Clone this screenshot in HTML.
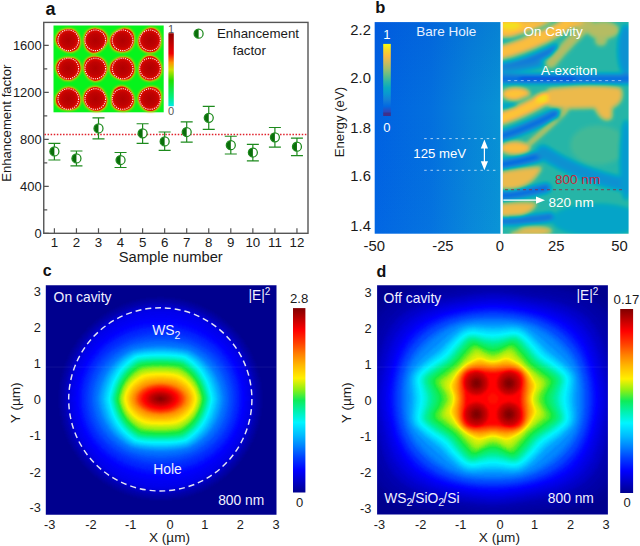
<!DOCTYPE html><html><head><meta charset="utf-8"><style>html,body{margin:0;padding:0;background:#fff;width:640px;height:546px;overflow:hidden}svg{display:block;font-family:"Liberation Sans",sans-serif}</style></head><body><svg width="640" height="546" viewBox="0 0 640 546"><defs><filter id="blurA" x="-20%" y="-20%" width="140%" height="140%"><feGaussianBlur stdDeviation="0.9"/></filter><radialGradient id="blobg"><stop offset="0" stop-color="#b00000"/><stop offset="0.6" stop-color="#c00202"/><stop offset="0.9" stop-color="#d80800"/><stop offset="1" stop-color="#e01000"/></radialGradient><linearGradient id="cbA" x1="0" y1="1" x2="0" y2="0"><stop offset="0" stop-color="#00e8e8"/><stop offset="0.12" stop-color="#00f080"/><stop offset="0.35" stop-color="#20e000"/><stop offset="0.5" stop-color="#d0e000"/><stop offset="0.6" stop-color="#ff9000"/><stop offset="0.72" stop-color="#f00000"/><stop offset="1" stop-color="#900000"/></linearGradient><filter id="parf" color-interpolation-filters="sRGB" x="-5%" y="-5%" width="110%" height="110%"><feGaussianBlur stdDeviation="1.9"/><feComponentTransfer><feFuncR type="table" tableValues="0.21 0.21 0.2 0.13 0.02 0.01 0.05 0.07 0.08 0.07 0.04 0.02 0.02 0.03 0.07 0.13 0.2 0.28 0.37 0.46 0.55 0.62 0.69 0.76 0.83 0.89 0.95 0.99 0.99 0.98 0.96 0.96 0.98"/><feFuncG type="table" tableValues="0.17 0.21 0.26 0.32 0.38 0.42 0.46 0.49 0.52 0.55 0.59 0.62 0.65 0.67 0.69 0.71 0.72 0.73 0.74 0.75 0.75 0.75 0.74 0.74 0.73 0.73 0.73 0.75 0.79 0.83 0.87 0.92 0.98"/><feFuncB type="table" tableValues="0.53 0.63 0.72 0.83 0.88 0.88 0.87 0.85 0.83 0.82 0.82 0.81 0.78 0.75 0.71 0.67 0.63 0.58 0.54 0.5 0.46 0.43 0.4 0.37 0.35 0.32 0.28 0.24 0.19 0.16 0.13 0.09 0.05"/></feComponentTransfer></filter><clipPath id="clipbR"><rect x="502.6" y="22.1" width="126" height="211.6"/></clipPath><linearGradient id="bL" x1="0" y1="0" x2="1" y2="0"><stop offset="0" stop-color="#0062e2"/><stop offset="0.45" stop-color="#0370de"/><stop offset="0.75" stop-color="#0784d8"/><stop offset="1" stop-color="#0892d4"/></linearGradient><linearGradient id="bLv" x1="0" y1="0" x2="0" y2="1"><stop offset="0" stop-color="#0040d0" stop-opacity="0.2"/><stop offset="0.4" stop-color="#0040d0" stop-opacity="0"/><stop offset="1" stop-color="#30c0ff" stop-opacity="0.05"/></linearGradient><linearGradient id="cbB" x1="0" y1="1" x2="0" y2="0"><stop offset="0" stop-color="#3342b7"/><stop offset="0.09" stop-color="#0269e1"/><stop offset="0.18" stop-color="#137fd7"/><stop offset="0.27" stop-color="#0998d1"/><stop offset="0.36" stop-color="#08aac1"/><stop offset="0.45" stop-color="#2bb6a6"/><stop offset="0.55" stop-color="#66be85"/><stop offset="0.64" stop-color="#a0be6d"/><stop offset="0.73" stop-color="#cfbb5a"/><stop offset="0.82" stop-color="#fabb42"/><stop offset="0.91" stop-color="#f8d627"/><stop offset="1" stop-color="#f9fb0e"/></linearGradient><marker id="ah" viewBox="0 0 10 10" refX="9" refY="5" markerWidth="8" markerHeight="7" markerUnits="userSpaceOnUse" orient="auto"><path d="M0 0L10 5L0 10z" fill="#fff"/></marker><filter id="jetf" color-interpolation-filters="sRGB" x="-5%" y="-5%" width="110%" height="110%"><feGaussianBlur stdDeviation="1.3"/><feComponentTransfer><feFuncR type="table" tableValues="0 0 0 0 0 0 0 0 0 0 0 0 0 0 0 0 0 0 0 0 0 0 0 0 0 0 0 0 0 0 0.02 0.04 0.06 0.07 0.21 0.39 0.57 0.67 0.78 0.89 1 1 1 1 1 1 1 1 1 1 1 1 1 1 1 1 1 0.94 0.88 0.81 0.75 0.69 0.63 0.56 0.5"/><feFuncG type="table" tableValues="0 0 0 0 0 0 0 0 0 0.06 0.13 0.19 0.25 0.31 0.38 0.44 0.5 0.56 0.62 0.67 0.73 0.79 0.85 0.9 0.96 0.96 0.95 0.95 0.94 0.94 0.94 0.93 0.93 0.92 0.93 0.93 0.94 0.94 0.94 0.94 0.94 0.89 0.83 0.78 0.72 0.67 0.61 0.56 0.5 0.44 0.38 0.31 0.25 0.19 0.13 0.06 0 0 0 0 0 0 0 0 0"/><feFuncB type="table" tableValues="0.56 0.62 0.67 0.73 0.78 0.84 0.89 0.95 1 1 1 1 1 1 1 1 1 1 1 1 1 1 1 1 1 0.92 0.84 0.77 0.69 0.61 0.52 0.43 0.35 0.26 0.19 0.13 0.08 0.06 0.04 0.02 0 0 0 0 0 0 0 0 0 0 0 0 0 0 0 0 0 0 0 0 0 0 0 0 0"/></feComponentTransfer></filter><clipPath id="clipc"><rect x="45.8" y="285.3" width="230.7" height="229.4"/></clipPath><clipPath id="clipd"><rect x="377.1" y="285.3" width="230.8" height="229.1"/></clipPath><linearGradient id="jetbar" x1="0" y1="1" x2="0" y2="0"><stop offset="0" stop-color="#00008f"/><stop offset="0.06" stop-color="#0000c7"/><stop offset="0.12" stop-color="#0000ff"/><stop offset="0.19" stop-color="#0040ff"/><stop offset="0.25" stop-color="#0080ff"/><stop offset="0.31" stop-color="#00bbff"/><stop offset="0.38" stop-color="#00f5ff"/><stop offset="0.44" stop-color="#00f1b0"/><stop offset="0.5" stop-color="#0eec59"/><stop offset="0.56" stop-color="#90f013"/><stop offset="0.62" stop-color="#fff000"/><stop offset="0.69" stop-color="#ffb800"/><stop offset="0.75" stop-color="#ff8000"/><stop offset="0.81" stop-color="#ff4000"/><stop offset="0.88" stop-color="#ff0000"/><stop offset="0.94" stop-color="#c00000"/><stop offset="1" stop-color="#800000"/></linearGradient></defs><rect x="53.5" y="25.5" width="110.2" height="86.8" fill="#06f41c"/><g filter="url(#blurA)"><path d="M80.7 40.3 80.9 42.5 80.6 44.8 79.8 46.9 78.6 48.9 76.9 50.5 74.9 51.8 72.8 52.6 70.5 52.8 68.3 52.5 66.2 52.2 64.3 51.3 62.5 50.4 60.8 49.2 59.1 48 57.6 46.5 56.3 44.7 55.5 42.6 54.9 40.3 55.1 38 55.8 35.7 56.8 33.7 58.2 31.8 60.1 30.5 62 29.4 64.1 28.7 66.2 28.3 68.3 28.1 70.4 28.2 72.5 28.6 74.5 29.5 76.2 30.9 77.6 32.5 78.8 34.3 79.7 36.2 80.4 38.2Z" fill="#ffb000"/><path d="M108 40.3 107.5 42.5 106.7 44.5 105.6 46.2 104.3 47.9 102.9 49.3 101.3 50.8 99.6 52.1 97.6 53.1 95.3 53.7 92.9 54 90.6 53.3 88.5 52.1 86.8 50.5 85.4 48.6 84.6 46.5 84 44.4 83.6 42.4 83.5 40.3 83.5 38.2 83.9 36.1 84.6 34.1 85.7 32.2 87 30.5 88.9 29.2 90.9 28.3 93.1 27.7 95.3 27.6 97.5 27.9 99.6 28.5 101.7 29.3 103.6 30.5 105.2 32 106.6 33.8 107.7 35.8 108 38.1Z" fill="#ffb000"/><path d="M135 40.3 134.6 42.4 134.1 44.5 133.3 46.5 132.1 48.3 130.6 49.8 128.9 51.2 126.9 52 124.7 52.5 122.6 52.7 120.4 52.7 118.3 52.2 116.1 51.5 114.1 50.4 112.4 48.9 111 47 110 44.9 109.5 42.6 109.3 40.3 109.7 38 110.7 36 111.9 34.1 113.4 32.6 115.1 31.4 116.8 30.2 118.6 29.3 120.5 28.4 122.6 27.8 124.9 27.5 127.1 27.8 129.4 28.5 131.4 29.9 133 31.6 134.1 33.7 134.8 35.9 135 38.1Z" fill="#ffb000"/><path d="M161.6 40.3 161.4 42.3 161.2 44.4 160.7 46.5 159.7 48.4 158.2 50.1 156.5 51.6 154.5 52.7 152.3 53.1 150 53.3 147.7 53.1 145.6 52.4 143.5 51.5 141.7 50.2 140.1 48.6 138.9 46.7 138 44.7 137.6 42.5 137.6 40.3 138.1 38.2 138.8 36.2 139.8 34.4 141.1 32.9 142.5 31.3 144 29.9 145.8 28.7 147.8 27.7 150 27.1 152.3 27.2 154.6 27.7 156.6 28.8 158.4 30.3 159.7 32.1 160.6 34.2 161.2 36.2 161.5 38.3Z" fill="#ffb000"/><path d="M81.6 68.5 81.3 70.8 80.3 72.9 79.2 74.8 77.9 76.5 76.3 78 74.5 79.2 72.6 80.3 70.5 81 68.3 81 66.1 80.8 64 80.4 62 79.3 60.3 78 58.7 76.5 57.4 74.8 56.5 72.8 55.6 70.7 55.3 68.5 55.2 66.2 55.8 63.9 56.8 61.9 58.3 60.1 60.1 58.7 62.2 57.9 64.2 57.2 66.3 56.9 68.3 56.8 70.3 56.9 72.5 57 74.6 57.6 76.6 58.7 78.3 60.1 79.9 61.8 80.8 63.9 81.4 66.2Z" fill="#ffb000"/><path d="M107.6 68.5 107.4 70.6 106.7 72.6 106 74.7 104.8 76.5 103.4 78.1 101.8 79.7 99.9 81 97.6 81.6 95.3 82 93 81.6 90.9 80.6 89 79.4 87.4 77.9 86.2 76.1 85.1 74.4 84.3 72.5 83.7 70.6 83.4 68.5 83.2 66.4 83.5 64.2 84.1 62 85.2 60 86.7 58.2 88.6 57 90.8 56.1 93.1 55.8 95.3 55.8 97.5 56.1 99.6 56.7 101.6 57.6 103.4 58.9 104.9 60.5 106.1 62.3 107 64.3 107.4 66.4Z" fill="#ffb000"/><path d="M135.3 68.5 135.3 70.7 134.9 73 134 75.1 132.7 77 131.1 78.6 129.2 79.9 127 80.5 124.8 80.8 122.6 80.7 120.5 80.2 118.6 79.4 116.7 78.7 114.9 77.7 113.1 76.5 111.5 74.9 110 73.1 109.3 70.8 109 68.5 109.4 66.2 110.1 64 111.5 62.1 113 60.5 114.8 59.2 116.6 58.1 118.5 57.2 120.5 56.6 122.6 56.4 124.7 56.4 126.9 56.7 128.9 57.5 130.9 58.6 132.4 60.2 133.7 62.1 134.6 64.1 135.2 66.3Z" fill="#ffb000"/><path d="M162.3 68.5 162.2 70.7 161.9 72.8 161 74.9 159.8 76.7 158.3 78.4 156.5 79.7 154.4 80.6 152.2 81.2 150 81.5 147.8 81.2 145.6 80.7 143.5 79.7 141.7 78.4 140.2 76.7 139.2 74.7 138.6 72.7 138.2 70.6 138.3 68.5 138.6 66.5 139 64.5 139.7 62.5 140.7 60.7 142 58.9 143.5 57.3 145.5 56 147.6 55.1 150 54.8 152.3 55.2 154.6 56 156.5 57.2 158.1 58.8 159.5 60.5 160.6 62.4 161.5 64.3 162 66.4Z" fill="#ffb000"/><path d="M81.2 99 81.1 101.3 80.7 103.5 79.9 105.7 78.3 107.4 76.5 108.7 74.5 109.7 72.4 110.2 70.3 110.5 68.3 110.6 66.3 110.5 64.2 110.1 62.1 109.8 60.1 108.8 58.3 107.4 56.7 105.7 55.4 103.7 55 101.4 54.9 99 55.4 96.7 56.3 94.6 57.6 92.8 59.1 91.3 60.6 89.8 62.2 88.5 64.1 87.6 66.2 86.9 68.3 86.5 70.5 86.7 72.6 87.3 74.6 88.2 76.3 89.5 77.8 91 79 92.8 80 94.7 80.7 96.8Z" fill="#ffb000"/><path d="M107.6 99 107.7 101.2 107.3 103.4 106.7 105.6 105.5 107.6 103.8 109.2 102 110.5 99.8 111.5 97.6 111.9 95.3 111.7 93.1 111.4 91 110.7 89.1 109.7 87.5 108.3 85.9 106.9 84.7 105.1 83.9 103.2 83.1 101.1 82.7 99 82.9 96.8 83.5 94.7 84.2 92.6 85.5 90.8 87 89.2 88.8 87.8 90.9 86.8 93 86.2 95.3 85.9 97.5 86.2 99.6 87.1 101.6 88.2 103.1 89.7 104.3 91.4 105.5 93.1 106.4 95 107 96.9Z" fill="#ffb000"/><path d="M134.8 99 134.9 101.2 134.5 103.3 133.7 105.4 132.6 107.4 131 109 129.1 110.2 127 111.1 124.8 111.4 122.6 111.5 120.4 111.3 118.3 110.8 116.3 110 114.4 108.8 112.9 107.2 111.7 105.3 111.1 103.2 110.8 101.1 110.9 99 111 97 111.4 94.9 112 92.9 112.8 90.8 114 88.8 115.8 87.2 117.9 86 120.2 85.5 122.6 85.5 124.9 86 126.9 87.1 128.8 88.3 130.4 89.7 131.7 91.4 132.8 93.1 133.9 94.9 134.5 96.9Z" fill="#ffb000"/><path d="M161.7 99 161.4 101 160.9 103 160.3 104.9 159.5 106.9 158.1 108.6 156.4 110.1 154.5 111.3 152.3 112 150 112.1 147.7 111.8 145.6 111 143.7 109.8 142.1 108.4 140.7 106.8 139.5 105 138.6 103.1 137.9 101.1 137.6 99 137.7 96.8 138.2 94.7 139.2 92.7 140.5 91 142 89.4 143.8 88.2 145.7 87.2 147.8 86.4 150 86 152.3 85.9 154.6 86.4 156.8 87.3 158.7 88.7 160.1 90.5 161.1 92.6 161.7 94.8 161.7 96.9Z" fill="#ffb000"/></g><path d="M79.7 40.3 79.9 42.3 79.6 44.4 78.8 46.4 77.7 48.2 76.2 49.7 74.4 50.8 72.4 51.6 70.3 51.7 68.3 51.5 66.4 51.2 64.6 50.4 63 49.5 61.4 48.5 59.9 47.4 58.5 46 57.3 44.3 56.6 42.4 56 40.3 56.2 38.2 56.8 36.1 57.8 34.2 59.1 32.5 60.8 31.3 62.5 30.3 64.4 29.7 66.4 29.3 68.3 29.1 70.3 29.2 72.2 29.6 74 30.4 75.6 31.6 76.8 33.1 77.9 34.8 78.7 36.5 79.4 38.3Z" fill="#e01000"/><path d="M107 40.3 106.5 42.3 105.8 44.1 104.7 45.7 103.6 47.2 102.2 48.6 100.8 49.9 99.2 51.1 97.4 52.1 95.3 52.6 93.1 52.8 90.9 52.3 89.1 51.1 87.5 49.6 86.2 47.9 85.4 46 85 44.1 84.6 42.2 84.5 40.3 84.5 38.4 84.8 36.5 85.5 34.6 86.5 32.9 87.7 31.3 89.4 30.1 91.3 29.2 93.3 28.7 95.3 28.6 97.3 28.9 99.2 29.5 101.1 30.2 102.9 31.3 104.4 32.7 105.7 34.3 106.6 36.2 106.9 38.2Z" fill="#e01000"/><path d="M134 40.3 133.7 42.2 133.2 44.1 132.4 46 131.3 47.6 129.9 49 128.4 50.3 126.5 51 124.6 51.5 122.6 51.7 120.6 51.6 118.6 51.2 116.7 50.6 114.8 49.6 113.3 48.1 112 46.4 111 44.5 110.5 42.4 110.4 40.3 110.8 38.2 111.7 36.3 112.8 34.7 114.2 33.3 115.7 32.1 117.3 31.1 118.9 30.2 120.7 29.4 122.6 28.8 124.7 28.6 126.8 28.9 128.9 29.4 130.6 30.7 132.1 32.3 133.1 34.2 133.8 36.2 134 38.3Z" fill="#e01000"/><path d="M160.6 40.3 160.5 42.2 160.2 44 159.8 46 158.9 47.7 157.6 49.3 156 50.7 154.1 51.7 152.1 52.1 150 52.3 147.9 52.1 145.9 51.4 144.1 50.6 142.4 49.4 140.9 47.9 139.8 46.2 139 44.3 138.6 42.3 138.6 40.3 139.1 38.4 139.7 36.6 140.7 34.9 141.9 33.5 143.1 32.1 144.5 30.7 146.1 29.6 148 28.7 150 28.2 152.1 28.3 154.2 28.7 156.1 29.7 157.7 31.2 158.9 32.8 159.8 34.7 160.2 36.6 160.5 38.4Z" fill="#e01000"/><path d="M80.5 68.5 80.2 70.6 79.3 72.5 78.3 74.3 77.1 75.9 75.6 77.3 73.9 78.3 72.2 79.3 70.3 79.9 68.3 80 66.3 79.8 64.3 79.4 62.6 78.4 61 77.2 59.5 75.9 58.3 74.3 57.4 72.5 56.7 70.6 56.3 68.5 56.3 66.4 56.8 64.3 57.8 62.4 59.1 60.8 60.8 59.5 62.7 58.8 64.5 58.2 66.4 57.9 68.3 57.8 70.2 57.9 72.1 58 74.1 58.5 75.9 59.5 77.5 60.8 78.9 62.4 79.8 64.3 80.3 66.4Z" fill="#e01000"/><path d="M106.6 68.5 106.4 70.5 105.8 72.3 105.1 74.1 104 75.8 102.7 77.3 101.2 78.8 99.5 80 97.4 80.5 95.3 80.9 93.2 80.5 91.2 79.6 89.5 78.5 88 77.1 86.9 75.5 85.9 73.9 85.2 72.2 84.6 70.4 84.4 68.5 84.2 66.6 84.4 64.5 85 62.6 86 60.7 87.4 59.1 89.2 57.9 91.2 57.2 93.2 56.8 95.3 56.8 97.3 57.1 99.3 57.6 101.1 58.5 102.7 59.7 104.1 61.1 105.2 62.8 106 64.6 106.4 66.5Z" fill="#e01000"/><path d="M134.3 68.5 134.3 70.6 133.8 72.6 133 74.5 131.8 76.3 130.4 77.8 128.6 78.9 126.6 79.5 124.6 79.8 122.6 79.7 120.7 79.2 119 78.5 117.2 77.9 115.5 77 113.9 75.8 112.4 74.4 111.1 72.7 110.4 70.7 110.1 68.5 110.5 66.4 111.2 64.3 112.4 62.6 113.8 61.1 115.4 59.9 117.1 58.9 118.8 58.1 120.7 57.6 122.6 57.4 124.6 57.4 126.5 57.7 128.4 58.4 130.2 59.5 131.6 60.9 132.8 62.6 133.6 64.5 134.1 66.5Z" fill="#e01000"/><path d="M161.3 68.5 161.2 70.5 160.9 72.5 160.1 74.3 159 76.1 157.6 77.6 155.9 78.8 154.1 79.6 152.1 80.2 150 80.4 147.9 80.2 145.9 79.7 144.1 78.8 142.4 77.6 141 76 140.1 74.2 139.5 72.3 139.2 70.4 139.2 68.5 139.5 66.7 139.9 64.8 140.5 63 141.5 61.4 142.6 59.7 144.1 58.2 145.8 57.1 147.8 56.2 150 55.9 152.2 56.3 154.2 57 156 58.1 157.4 59.6 158.8 61.1 159.7 62.9 160.5 64.7 161 66.6Z" fill="#e01000"/><path d="M80.2 99 80.1 101.1 79.7 103.1 78.9 105.1 77.5 106.7 75.8 107.9 74 108.8 72 109.3 70.2 109.5 68.3 109.6 66.4 109.5 64.6 109.2 62.6 108.9 60.8 107.9 59.1 106.7 57.6 105.2 56.5 103.3 56.1 101.2 56 99 56.5 96.9 57.3 95 58.4 93.3 59.8 91.9 61.2 90.5 62.7 89.3 64.5 88.5 66.3 87.9 68.3 87.5 70.3 87.7 72.2 88.3 74 89.1 75.6 90.3 77 91.7 78.2 93.3 79.1 95.1 79.7 97Z" fill="#e01000"/><path d="M106.6 99 106.7 101 106.3 103 105.7 105 104.7 106.9 103.1 108.3 101.4 109.6 99.5 110.4 97.4 110.8 95.3 110.7 93.3 110.4 91.4 109.8 89.7 108.8 88.2 107.5 86.7 106.2 85.5 104.6 84.8 102.8 84.1 101 83.8 99 83.9 97 84.4 95 85.1 93.1 86.3 91.5 87.7 90 89.4 88.7 91.2 87.8 93.2 87.3 95.3 87 97.4 87.3 99.3 88.1 101 89 102.4 90.5 103.6 92 104.6 93.6 105.5 95.3 106 97.1Z" fill="#e01000"/><path d="M133.8 99 133.9 101 133.6 103 132.8 104.9 131.7 106.7 130.3 108.2 128.5 109.3 126.6 110.1 124.6 110.4 122.6 110.4 120.6 110.3 118.7 109.8 116.8 109.1 115.1 108 113.7 106.5 112.6 104.8 112 102.8 111.8 100.9 111.8 99 112 97.1 112.4 95.3 112.9 93.4 113.6 91.5 114.7 89.6 116.4 88.2 118.3 87.1 120.4 86.6 122.6 86.6 124.7 87.1 126.6 88.1 128.3 89.2 129.7 90.5 131 92 132 93.6 133 95.2 133.5 97.1Z" fill="#e01000"/><path d="M160.7 99 160.5 100.8 160 102.6 159.4 104.4 158.7 106.3 157.4 107.8 155.9 109.2 154.1 110.2 152.1 110.9 150 111 147.9 110.8 146 110 144.3 108.9 142.8 107.6 141.5 106.1 140.4 104.5 139.6 102.8 138.9 101 138.7 99 138.7 97 139.2 95.1 140.1 93.3 141.2 91.7 142.6 90.2 144.3 89.1 146.1 88.2 148 87.5 150 87.1 152.1 86.9 154.2 87.4 156.2 88.2 157.9 89.5 159.3 91.2 160.2 93.1 160.7 95.1 160.8 97.1Z" fill="#e01000"/><circle cx="68.3" cy="40.3" r="10.6" fill="url(#blobg)"/><circle cx="95.3" cy="40.3" r="10.6" fill="url(#blobg)"/><circle cx="122.6" cy="40.3" r="10.6" fill="url(#blobg)"/><circle cx="150" cy="40.3" r="10.6" fill="url(#blobg)"/><circle cx="68.3" cy="68.5" r="10.6" fill="url(#blobg)"/><circle cx="95.3" cy="68.5" r="10.6" fill="url(#blobg)"/><circle cx="122.6" cy="68.5" r="10.6" fill="url(#blobg)"/><circle cx="150" cy="68.5" r="10.6" fill="url(#blobg)"/><circle cx="68.3" cy="99" r="10.6" fill="url(#blobg)"/><circle cx="95.3" cy="99" r="10.6" fill="url(#blobg)"/><circle cx="122.6" cy="99" r="10.6" fill="url(#blobg)"/><circle cx="150" cy="99" r="10.6" fill="url(#blobg)"/><circle cx="68.3" cy="40.3" r="10.3" fill="none" stroke="#fff" stroke-opacity="0.95" stroke-width="1.1" stroke-dasharray="1.1 1.1"/><circle cx="95.3" cy="40.3" r="10.3" fill="none" stroke="#fff" stroke-opacity="0.95" stroke-width="1.1" stroke-dasharray="1.1 1.1"/><circle cx="122.6" cy="40.3" r="10.3" fill="none" stroke="#fff" stroke-opacity="0.95" stroke-width="1.1" stroke-dasharray="1.1 1.1"/><circle cx="150" cy="40.3" r="10.3" fill="none" stroke="#fff" stroke-opacity="0.95" stroke-width="1.1" stroke-dasharray="1.1 1.1"/><circle cx="68.3" cy="68.5" r="10.3" fill="none" stroke="#fff" stroke-opacity="0.95" stroke-width="1.1" stroke-dasharray="1.1 1.1"/><circle cx="95.3" cy="68.5" r="10.3" fill="none" stroke="#fff" stroke-opacity="0.95" stroke-width="1.1" stroke-dasharray="1.1 1.1"/><circle cx="122.6" cy="68.5" r="10.3" fill="none" stroke="#fff" stroke-opacity="0.95" stroke-width="1.1" stroke-dasharray="1.1 1.1"/><circle cx="150" cy="68.5" r="10.3" fill="none" stroke="#fff" stroke-opacity="0.95" stroke-width="1.1" stroke-dasharray="1.1 1.1"/><circle cx="68.3" cy="99" r="10.3" fill="none" stroke="#fff" stroke-opacity="0.95" stroke-width="1.1" stroke-dasharray="1.1 1.1"/><circle cx="95.3" cy="99" r="10.3" fill="none" stroke="#fff" stroke-opacity="0.95" stroke-width="1.1" stroke-dasharray="1.1 1.1"/><circle cx="122.6" cy="99" r="10.3" fill="none" stroke="#fff" stroke-opacity="0.95" stroke-width="1.1" stroke-dasharray="1.1 1.1"/><circle cx="150" cy="99" r="10.3" fill="none" stroke="#fff" stroke-opacity="0.95" stroke-width="1.1" stroke-dasharray="1.1 1.1"/><rect x="168.4" y="33.2" width="5.4" height="73" fill="url(#cbA)"/><text x="171.1" y="32.5" font-size="11" text-anchor="middle" fill="#555">1</text><text x="171.1" y="114.8" font-size="11" text-anchor="middle" fill="#555">0</text><rect x="43.75" y="22.4" width="264.25" height="210.9" fill="none" stroke="#555" stroke-width="1.4"/><path d="M43.75 233.3h5M43.75 209.8h3.5M43.75 186.3h5M43.75 162.8h3.5M43.75 139.3h5M43.75 115.8h3.5M43.75 92.3h5M43.75 68.8h3.5M43.75 45.3h5M54.4 233.3v-5M76.45 233.3v-5M98.5 233.3v-5M120.55 233.3v-5M142.6 233.3v-5M164.65 233.3v-5M186.7 233.3v-5M208.75 233.3v-5M230.8 233.3v-5M252.85 233.3v-5M274.9 233.3v-5M296.95 233.3v-5" stroke="#555" stroke-width="1.2" fill="none"/><text x="41.6" y="237.9" font-size="12.9" text-anchor="end" fill="#1a1a1a">0</text><text x="41.6" y="190.9" font-size="12.9" text-anchor="end" fill="#1a1a1a">400</text><text x="41.6" y="143.9" font-size="12.9" text-anchor="end" fill="#1a1a1a">800</text><text x="41.6" y="96.9" font-size="12.9" text-anchor="end" fill="#1a1a1a">1200</text><text x="41.6" y="49.9" font-size="12.9" text-anchor="end" fill="#1a1a1a">1600</text><text x="54.4" y="247.4" font-size="13.3" text-anchor="middle" fill="#1a1a1a">1</text><text x="76.45" y="247.4" font-size="13.3" text-anchor="middle" fill="#1a1a1a">2</text><text x="98.5" y="247.4" font-size="13.3" text-anchor="middle" fill="#1a1a1a">3</text><text x="120.55" y="247.4" font-size="13.3" text-anchor="middle" fill="#1a1a1a">4</text><text x="142.6" y="247.4" font-size="13.3" text-anchor="middle" fill="#1a1a1a">5</text><text x="164.65" y="247.4" font-size="13.3" text-anchor="middle" fill="#1a1a1a">6</text><text x="186.7" y="247.4" font-size="13.3" text-anchor="middle" fill="#1a1a1a">7</text><text x="208.75" y="247.4" font-size="13.3" text-anchor="middle" fill="#1a1a1a">8</text><text x="230.8" y="247.4" font-size="13.3" text-anchor="middle" fill="#1a1a1a">9</text><text x="252.85" y="247.4" font-size="13.3" text-anchor="middle" fill="#1a1a1a">10</text><text x="274.9" y="247.4" font-size="13.3" text-anchor="middle" fill="#1a1a1a">11</text><text x="296.95" y="247.4" font-size="13.3" text-anchor="middle" fill="#1a1a1a">12</text><text transform="translate(10.6 123.2) rotate(-90)" font-size="13.1" text-anchor="middle" fill="#1a1a1a">Enhancement factor</text><text x="170.7" y="262.4" font-size="14.75" text-anchor="middle" fill="#1a1a1a">Sample number</text><line x1="44.45" y1="134.5" x2="307.3" y2="134.5" stroke="#e0202a" stroke-width="1.3" stroke-dasharray="1.5 1.6"/><path d="M54.4 143.3V160M48.4 143.3h12M48.4 160h12M76.45 151V165.8M70.45 151h12M70.45 165.8h12M98.5 117.8V138.9M92.5 117.8h12M92.5 138.9h12M120.55 152.5V167.5M114.55 152.5h12M114.55 167.5h12M142.6 123.75V143.4M136.6 123.75h12M136.6 143.4h12M164.65 132V150.3M158.65 132h12M158.65 150.3h12M186.7 121.9V142.2M180.7 121.9h12M180.7 142.2h12M208.75 106.4V129.45M202.75 106.4h12M202.75 129.45h12M230.8 136.25V154M224.8 136.25h12M224.8 154h12M252.85 144.4V160.8M246.85 144.4h12M246.85 160.8h12M274.9 127.5V147.2M268.9 127.5h12M268.9 147.2h12M296.95 138.1V155.6M290.95 138.1h12M290.95 155.6h12" stroke="#1d8a1d" stroke-width="1.2" fill="none"/><circle cx="54.4" cy="151.4" r="4.5" fill="#fff"/><path d="M54.4 146.9a4.5 4.5 0 0 0 0 9Z" fill="#0a6e0a"/><circle cx="54.4" cy="151.4" r="4.5" fill="none" stroke="#1d8a1d" stroke-width="1.25"/><circle cx="76.45" cy="158.4" r="4.5" fill="#fff"/><path d="M76.45 153.9a4.5 4.5 0 0 0 0 9Z" fill="#0a6e0a"/><circle cx="76.45" cy="158.4" r="4.5" fill="none" stroke="#1d8a1d" stroke-width="1.25"/><circle cx="98.5" cy="128.4" r="4.5" fill="#fff"/><path d="M98.5 123.9a4.5 4.5 0 0 0 0 9Z" fill="#0a6e0a"/><circle cx="98.5" cy="128.4" r="4.5" fill="none" stroke="#1d8a1d" stroke-width="1.25"/><circle cx="120.55" cy="160" r="4.5" fill="#fff"/><path d="M120.55 155.5a4.5 4.5 0 0 0 0 9Z" fill="#0a6e0a"/><circle cx="120.55" cy="160" r="4.5" fill="none" stroke="#1d8a1d" stroke-width="1.25"/><circle cx="142.6" cy="133.3" r="4.5" fill="#fff"/><path d="M142.6 128.8a4.5 4.5 0 0 0 0 9Z" fill="#0a6e0a"/><circle cx="142.6" cy="133.3" r="4.5" fill="none" stroke="#1d8a1d" stroke-width="1.25"/><circle cx="164.65" cy="141.4" r="4.5" fill="#fff"/><path d="M164.65 136.9a4.5 4.5 0 0 0 0 9Z" fill="#0a6e0a"/><circle cx="164.65" cy="141.4" r="4.5" fill="none" stroke="#1d8a1d" stroke-width="1.25"/><circle cx="186.7" cy="132" r="4.5" fill="#fff"/><path d="M186.7 127.5a4.5 4.5 0 0 0 0 9Z" fill="#0a6e0a"/><circle cx="186.7" cy="132" r="4.5" fill="none" stroke="#1d8a1d" stroke-width="1.25"/><circle cx="208.75" cy="117.8" r="4.5" fill="#fff"/><path d="M208.75 113.3a4.5 4.5 0 0 0 0 9Z" fill="#0a6e0a"/><circle cx="208.75" cy="117.8" r="4.5" fill="none" stroke="#1d8a1d" stroke-width="1.25"/><circle cx="230.8" cy="145.2" r="4.5" fill="#fff"/><path d="M230.8 140.7a4.5 4.5 0 0 0 0 9Z" fill="#0a6e0a"/><circle cx="230.8" cy="145.2" r="4.5" fill="none" stroke="#1d8a1d" stroke-width="1.25"/><circle cx="252.85" cy="152.5" r="4.5" fill="#fff"/><path d="M252.85 148a4.5 4.5 0 0 0 0 9Z" fill="#0a6e0a"/><circle cx="252.85" cy="152.5" r="4.5" fill="none" stroke="#1d8a1d" stroke-width="1.25"/><circle cx="274.9" cy="137.3" r="4.5" fill="#fff"/><path d="M274.9 132.8a4.5 4.5 0 0 0 0 9Z" fill="#0a6e0a"/><circle cx="274.9" cy="137.3" r="4.5" fill="none" stroke="#1d8a1d" stroke-width="1.25"/><circle cx="296.95" cy="146.7" r="4.5" fill="#fff"/><path d="M296.95 142.2a4.5 4.5 0 0 0 0 9Z" fill="#0a6e0a"/><circle cx="296.95" cy="146.7" r="4.5" fill="none" stroke="#1d8a1d" stroke-width="1.25"/><circle cx="198.6" cy="33.7" r="4.5" fill="#fff"/><path d="M198.6 29.2a4.5 4.5 0 0 0 0 9Z" fill="#0a6e0a"/><circle cx="198.6" cy="33.7" r="4.5" fill="none" stroke="#1d8a1d" stroke-width="1.25"/><text x="217" y="38.4" font-size="13.3" fill="#1a1a1a">Enhancement</text><text x="232.7" y="55" font-size="13.3" fill="#1a1a1a">factor</text><text x="45.6" y="14.6" font-size="18" font-weight="bold" fill="#111">a</text><rect x="374.7" y="22.1" width="126" height="211.6" fill="url(#bL)"/><rect x="374.7" y="22.1" width="126" height="211.6" fill="url(#bLv)"/><g clip-path="url(#clipbR)"><g filter="url(#parf)"><rect x="495" y="15" width="140" height="225" fill="#7a7a7a"/><path d="M500 20H588C580 28 562 31 545 34C530 36 515 38 500 37Z" fill="#d6d6d6"/><ellipse cx="510" cy="25" rx="11" ry="5" fill="#f2f2f2"/><path d="M498 53C512 50 528 44 545 36C552 32 558 29 566 24" fill="none" stroke="#d6d6d6" stroke-width="13" stroke-linecap="round" stroke-linejoin="round"/><path d="M498 42C510 39.5 525 35 540 29C548 26 555 22 560 19" fill="none" stroke="#6b6b6b" stroke-width="3.5" stroke-linecap="round" stroke-linejoin="round"/><path d="M498 68C515 67 535 59 555 49" fill="none" stroke="#333333" stroke-width="8" stroke-linecap="round" stroke-linejoin="round"/><path d="M551 63C562 50 575 36 589 24" fill="none" stroke="#b2b2b2" stroke-width="10" stroke-linecap="round" stroke-linejoin="round"/><ellipse cx="603" cy="30" rx="16" ry="9" fill="#b2b2b2"/><ellipse cx="601" cy="41" rx="6" ry="5" fill="#adadad"/><ellipse cx="626" cy="50" rx="8" ry="25" fill="#4c4c4c"/><path d="M498 78.8H632" fill="none" stroke="#2b2b2b" stroke-width="9" stroke-linecap="round" stroke-linejoin="round"/><path d="M522 79H572" fill="none" stroke="#141414" stroke-width="5" stroke-linecap="round" stroke-linejoin="round"/><path d="M498 70C510 70 525 68 540 64" fill="none" stroke="#474747" stroke-width="6" stroke-linecap="round" stroke-linejoin="round"/><ellipse cx="516" cy="94" rx="14" ry="6.5" fill="#dbdbdb"/><path d="M498 119C515 115 530 107 546 98" fill="none" stroke="#dbdbdb" stroke-width="12" stroke-linecap="round" stroke-linejoin="round"/><ellipse cx="543" cy="98" rx="8" ry="5" fill="#f2f2f2"/><path d="M548 89C570 86 600 84 621 88C624 96 622 104 612 108L612 118C605 124 598 116 595 108C580 108 565 110 548 106Z" fill="#cccccc"/><path d="M498 106C512 105 525 100 540 92" fill="none" stroke="#808080" stroke-width="4" stroke-linecap="round" stroke-linejoin="round"/><path d="M499 106.5C505 106.5 510 106 515 105" fill="none" stroke="#4c4c4c" stroke-width="3.5" stroke-linecap="round" stroke-linejoin="round"/><path d="M566 110C556 121 543 132 530 143" fill="none" stroke="#bdbdbd" stroke-width="4.5" stroke-linecap="round" stroke-linejoin="round"/><ellipse cx="515" cy="148" rx="15" ry="6.5" fill="#d6d6d6"/><path d="M498 137C515 133 535 124 555 114" fill="none" stroke="#2b2b2b" stroke-width="9" stroke-linecap="round" stroke-linejoin="round"/><path d="M498 165C515 163 530 159 546 154" fill="none" stroke="#292929" stroke-width="9" stroke-linecap="round" stroke-linejoin="round"/><path d="M500 172C515 169 530 167 542 167C538 176 530 186 515 189C506 190 500 188 500 188Z" fill="#cccccc"/><path d="M498 196C512 196 530 192 546 188" fill="none" stroke="#2b2b2b" stroke-width="9" stroke-linecap="round" stroke-linejoin="round"/><path d="M500 204C515 202 528 202 537 203C533 212 522 217 510 218C503 218 500 216 500 216Z" fill="#cccccc"/><path d="M498 221C512 221 530 220 550 217" fill="none" stroke="#333333" stroke-width="8" stroke-linecap="round" stroke-linejoin="round"/><ellipse cx="535" cy="231" rx="17" ry="4.5" fill="#c7c7c7"/><ellipse cx="520" cy="234" rx="10" ry="3" fill="#bfbfbf"/><ellipse cx="598" cy="145" rx="28" ry="20" fill="#858585"/><path d="M543 152C562 164 588 178 632 186" fill="none" stroke="#4c4c4c" stroke-width="13" stroke-linecap="round" stroke-linejoin="round"/><ellipse cx="597" cy="220" rx="45" ry="16" fill="#5e5e5e"/><ellipse cx="626" cy="160" rx="6" ry="40" fill="#545454"/></g></g><rect x="500.6" y="22.1" width="2" height="211.6" fill="#fff"/><rect x="383.2" y="43.9" width="7.6" height="68.5" fill="url(#cbB)"/><rect x="383.2" y="112.4" width="7.6" height="3.6" fill="#40308a"/><text x="386.9" y="39.4" font-size="13" text-anchor="middle" fill="#ffffff">1</text><text x="386.9" y="131.6" font-size="13" text-anchor="middle" fill="#ffffff">0</text><text x="416.3" y="36.3" font-size="13.5" fill="#e6f0ff">Bare Hole</text><text x="523.4" y="36.3" font-size="13.5" fill="#ffffff">On Cavity</text><text x="541.1" y="74.7" font-size="13.5" fill="#ffffff">A-exciton</text><line x1="507.7" y1="80.6" x2="622.5" y2="80.6" stroke="#fff" stroke-opacity="0.55" stroke-width="1" stroke-dasharray="3 3.5"/><text x="413.3" y="158.3" font-size="13.2" fill="#ffffff">125 meV</text><path d="M424.2 138.6H497M424.2 170.3H497" stroke="#fff" stroke-opacity="0.75" stroke-width="0.9" stroke-dasharray="2.5 3.75"/><path d="M484.4 146V163" stroke="#fff" stroke-width="1.2"/><path d="M484.4 139.6L488 148.5H480.8ZM484.4 170.2L488 161.3H480.8Z" fill="#fff"/><text x="555.1" y="184.2" font-size="13.5" fill="#c8283a">800 nm</text><line x1="505" y1="189.7" x2="625" y2="189.7" stroke="#a01830" stroke-opacity="0.7" stroke-width="1" stroke-dasharray="3 3"/><text x="548.6" y="206.5" font-size="13.5" fill="#ffffff">820 nm</text><path d="M503.3 200.2H537" stroke="#fff" stroke-width="1.3"/><path d="M545 200.2L536 196.6V203.8Z" fill="#fff"/><text x="370.9" y="34.6" font-size="14.8" text-anchor="end" fill="#1a1a1a">2.2</text><text x="370.9" y="82.6" font-size="14.8" text-anchor="end" fill="#1a1a1a">2.0</text><text x="370.9" y="132.5" font-size="14.8" text-anchor="end" fill="#1a1a1a">1.8</text><text x="370.9" y="180.9" font-size="14.8" text-anchor="end" fill="#1a1a1a">1.6</text><text x="370.9" y="230.7" font-size="14.8" text-anchor="end" fill="#1a1a1a">1.4</text><text x="374.3" y="250.5" font-size="14.8" text-anchor="middle" fill="#1a1a1a">-50</text><text x="442.9" y="250.5" font-size="14.8" text-anchor="middle" fill="#1a1a1a">-25</text><text x="499.9" y="250.5" font-size="14.8" text-anchor="middle" fill="#1a1a1a">0</text><text x="556.2" y="250.5" font-size="14.8" text-anchor="middle" fill="#1a1a1a">25</text><text x="619.4" y="250.5" font-size="14.8" text-anchor="middle" fill="#1a1a1a">50</text><text transform="translate(343.5 122.1) rotate(-90)" font-size="13.2" text-anchor="middle" fill="#1a1a1a">Energy (eV)</text><text x="375.3" y="13.4" font-size="16.5" font-weight="bold" fill="#111">b</text><g clip-path="url(#clipc)"><g filter="url(#jetf)"><rect x="30" y="270" width="262" height="260" fill="#000000"/><path d="M262.1 398.8 261.7 389.9 260.6 381.2 258.6 372.5 256 364.1 252.6 355.9 248.5 348 243.7 340.5 238.3 333.5 232.3 327 225.8 321 218.8 315.6 211.3 310.8 203.4 306.7 195.2 303.3 186.8 300.7 178.1 298.7 169.4 297.6 160.5 297.2 151.6 297.6 142.9 298.7 134.2 300.7 125.8 303.3 117.6 306.7 109.7 310.8 102.2 315.6 95.2 321 88.7 327 82.7 333.5 77.3 340.5 72.5 348 68.4 355.9 65 364.1 62.4 372.5 60.4 381.2 59.3 389.9 58.9 398.8 59.3 407.7 60.4 416.4 62.4 425.1 65 433.5 68.4 441.7 72.5 449.6 77.3 457.1 82.7 464.1 88.7 470.6 95.2 476.6 102.2 482 109.7 486.8 117.6 490.9 125.8 494.3 134.2 496.9 142.9 498.9 151.6 500 160.5 500.4 169.4 500 178.1 498.9 186.8 496.9 195.2 494.3 203.4 490.9 211.3 486.8 218.8 482 225.8 476.6 232.3 470.6 238.3 464.1 243.7 457.1 248.5 449.6 252.6 441.7 256 433.5 258.6 425.1 260.6 416.4 261.7 407.7Z" fill="#030303"/><path d="M259.6 398.8 259.2 390.2 258.1 381.6 256.2 373.1 253.6 364.9 250.3 356.9 246.3 349.2 241.7 342 236.4 335.1 230.6 328.7 224.2 322.9 217.3 317.6 210.1 313 202.4 309 194.4 305.7 186.2 303.1 177.7 301.2 169.1 300.1 160.5 299.7 151.9 300.1 143.3 301.2 134.8 303.1 126.6 305.7 118.6 309 110.9 313 103.7 317.6 96.8 322.9 90.4 328.7 84.6 335.1 79.3 342 74.7 349.2 70.7 356.9 67.4 364.9 64.8 373.1 62.9 381.6 61.8 390.2 61.4 398.8 61.8 407.4 62.9 416 64.8 424.5 67.4 432.7 70.7 440.7 74.7 448.4 79.3 455.6 84.6 462.5 90.4 468.9 96.8 474.7 103.7 480 110.9 484.6 118.6 488.6 126.6 491.9 134.8 494.5 143.3 496.4 151.9 497.5 160.5 497.9 169.1 497.5 177.7 496.4 186.2 494.5 194.4 491.9 202.4 488.6 210.1 484.6 217.3 480 224.2 474.7 230.6 468.9 236.4 462.5 241.7 455.6 246.3 448.4 250.3 440.7 253.6 432.7 256.2 424.5 258.1 416 259.2 407.4Z" fill="#070707"/><path d="M258.6 398.8 258.3 390.2 257.2 381.8 255.3 373.4 252.7 365.2 249.5 357.3 245.5 349.7 240.9 342.5 235.7 335.7 229.9 329.4 223.6 323.6 216.8 318.4 209.6 313.8 202 309.8 194.1 306.6 185.9 304 177.5 302.1 169.1 301 160.5 300.6 151.9 301 143.5 302.1 135.1 304 126.9 306.6 119 309.8 111.4 313.8 104.2 318.4 97.4 323.6 91.1 329.4 85.3 335.7 80.1 342.5 75.5 349.7 71.5 357.3 68.3 365.2 65.7 373.4 63.8 381.8 62.7 390.2 62.3 398.8 62.7 407.4 63.8 415.8 65.7 424.2 68.3 432.4 71.5 440.3 75.5 447.9 80.1 455.1 85.3 461.9 91.1 468.2 97.4 474 104.2 479.2 111.4 483.8 119 487.8 126.9 491 135.1 493.6 143.5 495.5 151.9 496.6 160.5 497 169.1 496.6 177.5 495.5 185.9 493.6 194.1 491 202 487.8 209.6 483.8 216.8 479.2 223.6 474 229.9 468.2 235.7 461.9 240.9 455.1 245.5 447.9 249.5 440.3 252.7 432.4 255.3 424.2 257.2 415.8 258.3 407.4Z" fill="#080808"/><path d="M257.1 398.8 256.7 390.4 255.6 382 253.8 373.8 251.3 365.8 248 358 244.2 350.5 239.6 343.4 234.5 336.7 228.8 330.5 222.6 324.8 215.9 319.7 208.8 315.1 201.3 311.3 193.5 308 185.5 305.5 177.3 303.7 168.9 302.6 160.5 302.2 152.1 302.6 143.7 303.7 135.5 305.5 127.5 308 119.7 311.3 112.2 315.1 105.1 319.7 98.4 324.8 92.2 330.5 86.5 336.7 81.4 343.4 76.8 350.5 73 358 69.7 365.8 67.2 373.8 65.4 382 64.3 390.4 63.9 398.8 64.3 407.2 65.4 415.6 67.2 423.8 69.7 431.8 73 439.6 76.8 447.1 81.4 454.2 86.5 460.9 92.2 467.1 98.4 472.8 105.1 477.9 112.2 482.5 119.7 486.3 127.5 489.6 135.5 492.1 143.7 493.9 152.1 495 160.5 495.4 168.9 495 177.3 493.9 185.5 492.1 193.5 489.6 201.3 486.3 208.8 482.5 215.9 477.9 222.6 472.8 228.8 467.1 234.5 460.9 239.6 454.2 244.2 447.1 248 439.6 251.3 431.8 253.8 423.8 255.6 415.6 256.7 407.2Z" fill="#0a0a0a"/><path d="M254.9 398.8 254.6 390.6 253.5 382.4 251.7 374.4 249.2 366.5 246.1 358.9 242.3 351.6 237.9 344.6 232.8 338.1 227.3 332 221.2 326.5 214.7 321.4 207.7 317 200.4 313.2 192.8 310.1 184.9 307.6 176.9 305.8 168.7 304.7 160.5 304.4 152.3 304.7 144.1 305.8 136.1 307.6 128.2 310.1 120.6 313.2 113.3 317 106.3 321.4 99.8 326.5 93.7 332 88.2 338.1 83.1 344.6 78.7 351.6 74.9 358.9 71.8 366.5 69.3 374.4 67.5 382.4 66.4 390.6 66.1 398.8 66.4 407 67.5 415.2 69.3 423.2 71.8 431.1 74.9 438.7 78.7 446 83.1 453 88.2 459.5 93.7 465.6 99.8 471.1 106.3 476.2 113.3 480.6 120.6 484.4 128.2 487.5 136.1 490 144.1 491.8 152.3 492.9 160.5 493.2 168.7 492.9 176.9 491.8 184.9 490 192.8 487.5 200.4 484.4 207.7 480.6 214.7 476.2 221.2 471.1 227.3 465.6 232.8 459.5 237.9 453 242.3 446 246.1 438.7 249.2 431.1 251.7 423.2 253.5 415.2 254.6 407Z" fill="#101010"/><path d="M252.1 398.8 251.7 390.8 250.7 382.9 249 375.1 246.6 367.5 243.5 360.1 239.8 353 235.5 346.3 230.7 339.9 225.3 334 219.4 328.6 213 323.8 206.3 319.5 199.2 315.8 191.8 312.7 184.2 310.3 176.4 308.6 168.5 307.6 160.5 307.2 152.5 307.6 144.6 308.6 136.8 310.3 129.2 312.7 121.8 315.8 114.7 319.5 108 323.8 101.6 328.6 95.7 334 90.3 339.9 85.5 346.3 81.2 353 77.5 360.1 74.4 367.5 72 375.1 70.3 382.9 69.3 390.8 68.9 398.8 69.3 406.8 70.3 414.7 72 422.5 74.4 430.1 77.5 437.5 81.2 444.6 85.5 451.3 90.3 457.7 95.7 463.6 101.6 469 108 473.8 114.7 478.1 121.8 481.8 129.2 484.9 136.8 487.3 144.6 489 152.5 490 160.5 490.4 168.5 490 176.4 489 184.2 487.3 191.8 484.9 199.2 481.8 206.3 478.1 213 473.8 219.4 469 225.3 463.6 230.7 457.7 235.5 451.3 239.8 444.6 243.5 437.5 246.6 430.1 249 422.5 250.7 414.7 251.7 406.8Z" fill="#181818"/><path d="M250.1 398.8 249.8 391 248.7 383.2 247 375.6 244.6 368.2 241.5 361 237.9 354.1 233.6 347.6 228.8 341.5 223.5 335.8 217.7 330.6 211.5 326 204.9 321.9 198 318.3 190.8 315.4 183.4 313.2 175.9 311.5 168.2 310.5 160.5 310.2 152.8 310.5 145.1 311.5 137.6 313.2 130.2 315.4 123 318.3 116.1 321.9 109.5 326 103.3 330.6 97.5 335.8 92.2 341.5 87.4 347.6 83.1 354.1 79.5 361 76.4 368.2 74 375.6 72.3 383.2 71.2 391 70.9 398.8 71.2 406.6 72.3 414.4 74 422 76.4 429.4 79.5 436.6 83.1 443.5 87.4 450 92.2 456.1 97.5 461.8 103.3 467 109.5 471.6 116.1 475.7 123 479.3 130.2 482.2 137.6 484.4 145.1 486.1 152.8 487.1 160.5 487.4 168.2 487.1 175.9 486.1 183.4 484.4 190.8 482.2 198 479.3 204.9 475.7 211.5 471.6 217.7 467 223.5 461.8 228.8 456.1 233.6 450 237.9 443.5 241.5 436.6 244.6 429.4 247 422 248.7 414.4 249.8 406.6Z" fill="#1b1b1b"/><path d="M248.3 398.8 247.9 391.2 246.8 383.6 245.1 376.1 242.7 368.9 239.6 361.9 236 355.2 231.7 348.9 227 343 221.7 337.6 216 332.6 209.9 328.2 203.5 324.3 196.8 321 189.8 318.3 182.7 316.1 175.3 314.6 167.9 313.7 160.5 313.4 153.1 313.7 145.7 314.6 138.3 316.1 131.2 318.3 124.2 321 117.5 324.3 111.1 328.2 105 332.6 99.3 337.6 94 343 89.3 348.9 85 355.2 81.4 361.9 78.3 368.9 75.9 376.1 74.2 383.6 73.1 391.2 72.7 398.8 73.1 406.4 74.2 414 75.9 421.5 78.3 428.7 81.4 435.7 85 442.4 89.3 448.7 94 454.6 99.3 460 105 465 111.1 469.4 117.5 473.3 124.2 476.6 131.2 479.3 138.3 481.5 145.7 483 153.1 483.9 160.5 484.2 167.9 483.9 175.3 483 182.7 481.5 189.8 479.3 196.8 476.6 203.5 473.3 209.9 469.4 216 465 221.7 460 227 454.6 231.7 448.7 236 442.4 239.6 435.7 242.7 428.7 245.1 421.5 246.8 414 247.9 406.4Z" fill="#1c1c1c"/><path d="M246.4 398.8 246 391.3 245 383.9 243.2 376.6 240.8 369.6 237.7 362.8 234.1 356.3 229.8 350.2 225.1 344.6 219.9 339.4 214.3 334.7 208.3 330.5 202.1 326.8 195.5 323.7 188.8 321.1 181.9 319.1 174.8 317.7 167.7 316.8 160.5 316.5 153.3 316.8 146.2 317.7 139.1 319.1 132.2 321.1 125.5 323.7 118.9 326.8 112.7 330.5 106.7 334.7 101.1 339.4 95.9 344.6 91.2 350.2 86.9 356.3 83.3 362.8 80.2 369.6 77.8 376.6 76 383.9 75 391.3 74.6 398.8 75 406.3 76 413.7 77.8 421 80.2 428 83.3 434.8 86.9 441.3 91.2 447.4 95.9 453 101.1 458.2 106.7 462.9 112.7 467.1 118.9 470.8 125.5 473.9 132.2 476.5 139.1 478.5 146.2 479.9 153.3 480.8 160.5 481.1 167.7 480.8 174.8 479.9 181.9 478.5 188.8 476.5 195.5 473.9 202.1 470.8 208.3 467.1 214.3 462.9 219.9 458.2 225.1 453 229.8 447.4 234.1 441.3 237.7 434.8 240.8 428 243.2 421 245 413.7 246 406.3Z" fill="#1e1e1e"/><path d="M244.6 398.8 244.2 391.5 243.1 384.2 241.4 377.1 238.9 370.3 235.8 363.7 232.2 357.4 228 351.6 223.3 346.1 218.1 341.2 212.6 336.7 206.8 332.7 200.6 329.3 194.3 326.3 187.8 323.9 181.1 322.1 174.3 320.7 167.4 319.9 160.5 319.7 153.6 319.9 146.7 320.7 139.9 322.1 133.2 323.9 126.7 326.3 120.4 329.3 114.2 332.7 108.4 336.7 102.9 341.2 97.7 346.1 93 351.6 88.8 357.4 85.2 363.7 82.1 370.3 79.6 377.1 77.9 384.2 76.8 391.5 76.4 398.8 76.8 406.1 77.9 413.4 79.6 420.5 82.1 427.3 85.2 433.9 88.8 440.2 93 446 97.7 451.5 102.9 456.4 108.4 460.9 114.2 464.9 120.4 468.3 126.7 471.3 133.2 473.7 139.9 475.5 146.7 476.9 153.6 477.7 160.5 477.9 167.4 477.7 174.3 476.9 181.1 475.5 187.8 473.7 194.3 471.3 200.6 468.3 206.8 464.9 212.6 460.9 218.1 456.4 223.3 451.5 228 446 232.2 440.2 235.8 433.9 238.9 427.3 241.4 420.5 243.1 413.4 244.2 406.1Z" fill="#202020"/><path d="M242.5 398.8 242.1 391.7 241 384.6 239.3 377.7 236.9 371 233.8 364.6 230.2 358.6 226.1 352.9 221.4 347.7 216.4 342.9 211 338.6 205.3 334.9 199.3 331.6 193.1 328.8 186.8 326.6 180.3 324.8 173.8 323.6 167.1 322.8 160.5 322.6 153.9 322.8 147.2 323.6 140.7 324.8 134.2 326.6 127.9 328.8 121.7 331.6 115.7 334.9 110 338.6 104.6 342.9 99.6 347.7 94.9 352.9 90.8 358.6 87.2 364.6 84.1 371 81.7 377.7 80 384.6 78.9 391.7 78.5 398.8 78.9 405.9 80 413 81.7 419.9 84.1 426.6 87.2 433 90.8 439 94.9 444.7 99.6 449.9 104.6 454.7 110 459 115.7 462.7 121.7 466 127.9 468.8 134.2 471 140.7 472.8 147.2 474 153.9 474.8 160.5 475 167.1 474.8 173.8 474 180.3 472.8 186.8 471 193.1 468.8 199.3 466 205.3 462.7 211 459 216.4 454.7 221.4 449.9 226.1 444.7 230.2 439 233.8 433 236.9 426.6 239.3 419.9 241 413 242.1 405.9Z" fill="#232323"/><path d="M240.4 398.8 240 391.8 238.9 385 237.2 378.2 234.8 371.8 231.8 365.6 228.2 359.7 224.1 354.2 219.6 349.2 214.7 344.6 209.4 340.6 203.8 337 198 333.9 192 331.3 185.8 329.2 179.6 327.5 173.3 326.4 166.9 325.7 160.5 325.5 154.1 325.7 147.7 326.4 141.4 327.5 135.2 329.2 129 331.3 123 333.9 117.2 337 111.6 340.6 106.3 344.6 101.4 349.2 96.9 354.2 92.8 359.7 89.2 365.6 86.2 371.8 83.8 378.2 82.1 385 81 391.8 80.6 398.8 81 405.8 82.1 412.6 83.8 419.4 86.2 425.8 89.2 432 92.8 437.9 96.9 443.4 101.4 448.4 106.3 453 111.6 457 117.2 460.6 123 463.7 129 466.3 135.2 468.4 141.4 470.1 147.7 471.2 154.1 471.9 160.5 472.1 166.9 471.9 173.3 471.2 179.6 470.1 185.8 468.4 192 466.3 198 463.7 203.8 460.6 209.4 457 214.7 453 219.6 448.4 224.1 443.4 228.2 437.9 231.8 432 234.8 425.8 237.2 419.4 238.9 412.6 240 405.8Z" fill="#262626"/><path d="M239.2 398.8 238.9 391.9 237.8 385.2 236.1 378.5 233.7 372.2 230.7 366.1 227.2 360.3 223.1 355 218.6 350 213.7 345.6 208.5 341.6 203 338.1 197.3 335.1 191.4 332.6 185.3 330.6 179.2 329 173 327.9 166.8 327.2 160.5 327 154.2 327.2 148 327.9 141.8 329 135.7 330.6 129.6 332.6 123.7 335.1 118 338.1 112.5 341.6 107.3 345.6 102.4 350 97.9 355 93.8 360.3 90.3 366.1 87.3 372.2 84.9 378.5 83.2 385.2 82.1 391.9 81.8 398.8 82.1 405.7 83.2 412.4 84.9 419.1 87.3 425.4 90.3 431.5 93.8 437.3 97.9 442.6 102.4 447.6 107.3 452 112.5 456 118 459.5 123.7 462.5 129.6 465 135.7 467 141.8 468.6 148 469.7 154.2 470.4 160.5 470.6 166.8 470.4 173 469.7 179.2 468.6 185.3 467 191.4 465 197.3 462.5 203 459.5 208.5 456 213.7 452 218.6 447.6 223.1 442.6 227.2 437.3 230.7 431.5 233.7 425.4 236.1 419.1 237.8 412.4 238.9 405.7Z" fill="#282828"/><path d="M238.2 398.8 237.9 392 236.8 385.3 235.1 378.8 232.8 372.5 229.8 366.5 226.3 360.8 222.2 355.6 217.8 350.8 212.9 346.4 207.7 342.5 202.3 339.1 196.7 336.2 190.8 333.7 184.9 331.8 178.9 330.3 172.8 329.2 166.6 328.6 160.5 328.3 154.4 328.6 148.2 329.2 142.1 330.3 136.1 331.8 130.2 333.7 124.3 336.2 118.7 339.1 113.3 342.5 108.1 346.4 103.2 350.8 98.8 355.6 94.7 360.8 91.2 366.5 88.2 372.5 85.9 378.8 84.2 385.3 83.1 392 82.8 398.8 83.1 405.6 84.2 412.3 85.9 418.8 88.2 425.1 91.2 431.1 94.7 436.8 98.8 442 103.2 446.8 108.1 451.2 113.3 455.1 118.7 458.5 124.3 461.4 130.2 463.9 136.1 465.8 142.1 467.3 148.2 468.4 154.4 469 160.5 469.3 166.6 469 172.8 468.4 178.9 467.3 184.9 465.8 190.8 463.9 196.7 461.4 202.3 458.5 207.7 455.1 212.9 451.2 217.8 446.8 222.2 442 226.3 436.8 229.8 431.1 232.8 425.1 235.1 418.8 236.8 412.3 237.9 405.6Z" fill="#292929"/><path d="M236.1 398.8 235.8 392.2 234.7 385.7 233 379.4 230.7 373.3 227.7 367.4 224.3 362 220.3 356.9 215.9 352.3 211.2 348.1 206.1 344.5 200.8 341.2 195.3 338.5 189.7 336.2 183.9 334.4 178.1 333 172.3 332 166.4 331.4 160.5 331.2 154.6 331.4 148.7 332 142.9 333 137.1 334.4 131.3 336.2 125.7 338.5 120.2 341.2 114.9 344.5 109.8 348.1 105.1 352.3 100.7 356.9 96.7 362 93.3 367.4 90.3 373.3 88 379.4 86.3 385.7 85.2 392.2 84.9 398.8 85.2 405.4 86.3 411.9 88 418.2 90.3 424.3 93.3 430.2 96.7 435.6 100.7 440.7 105.1 445.3 109.8 449.5 114.9 453.1 120.2 456.4 125.7 459.1 131.3 461.4 137.1 463.2 142.9 464.6 148.7 465.6 154.6 466.2 160.5 466.4 166.4 466.2 172.3 465.6 178.1 464.6 183.9 463.2 189.7 461.4 195.3 459.1 200.8 456.4 206.1 453.1 211.2 449.5 215.9 445.3 220.3 440.7 224.3 435.6 227.7 430.2 230.7 424.3 233 418.2 234.7 411.9 235.8 405.4Z" fill="#2c2c2c"/><path d="M234 398.8 233.7 392.4 232.6 386.1 230.9 379.9 228.6 374 225.7 368.4 222.3 363.1 218.4 358.3 214.1 353.9 209.4 349.9 204.5 346.4 199.3 343.4 194 340.8 188.5 338.7 183 337 177.4 335.7 171.8 334.8 166.1 334.3 160.5 334.1 154.9 334.3 149.2 334.8 143.6 335.7 138 337 132.5 338.7 127 340.8 121.7 343.4 116.5 346.4 111.6 349.9 106.9 353.9 102.6 358.3 98.7 363.1 95.3 368.4 92.4 374 90.1 379.9 88.4 386.1 87.3 392.4 87 398.8 87.3 405.2 88.4 411.5 90.1 417.7 92.4 423.6 95.3 429.2 98.7 434.5 102.6 439.3 106.9 443.7 111.6 447.7 116.5 451.2 121.7 454.2 127 456.8 132.5 458.9 138 460.6 143.6 461.9 149.2 462.8 154.9 463.3 160.5 463.5 166.1 463.3 171.8 462.8 177.4 461.9 183 460.6 188.5 458.9 194 456.8 199.3 454.2 204.5 451.2 209.4 447.7 214.1 443.7 218.4 439.3 222.3 434.5 225.7 429.2 228.6 423.6 230.9 417.7 232.6 411.5 233.7 405.2Z" fill="#303030"/><path d="M231.7 398.8 231.3 392.6 230.3 386.5 228.6 380.6 226.3 374.9 223.5 369.4 220.1 364.4 216.4 359.7 212.2 355.4 207.7 351.6 202.9 348.2 198 345.3 192.8 342.8 187.5 340.9 182.1 339.4 176.7 338.2 171.3 337.5 165.9 337 160.5 336.8 155.1 337 149.7 337.5 144.3 338.2 138.9 339.4 133.5 340.9 128.2 342.8 123 345.3 118.1 348.2 113.3 351.6 108.8 355.4 104.6 359.7 100.9 364.4 97.5 369.4 94.7 374.9 92.4 380.6 90.7 386.5 89.7 392.6 89.3 398.8 89.7 405 90.7 411.1 92.4 417 94.7 422.7 97.5 428.2 100.9 433.2 104.6 437.9 108.8 442.2 113.3 446 118.1 449.4 123 452.3 128.2 454.8 133.5 456.7 138.9 458.2 144.3 459.4 149.7 460.1 155.1 460.6 160.5 460.8 165.9 460.6 171.3 460.1 176.7 459.4 182.1 458.2 187.5 456.7 192.8 454.8 198 452.3 202.9 449.4 207.7 446 212.2 442.2 216.4 437.9 220.1 433.2 223.5 428.2 226.3 422.7 228.6 417 230.3 411.1 231.3 405Z" fill="#333333"/><path d="M229.4 398.8 228.9 392.8 227.8 386.9 226.1 381.2 223.9 375.7 221.2 370.5 218 365.6 214.3 361.1 210.3 357 206 353.3 201.4 350 196.7 347.2 191.7 344.7 186.5 343 181.3 341.7 176.1 340.7 170.9 340 165.7 339.7 160.5 339.5 155.3 339.7 150.1 340 144.9 340.7 139.7 341.7 134.5 343 129.3 344.7 124.3 347.2 119.6 350 115 353.3 110.7 357 106.7 361.1 103 365.6 99.8 370.5 97.1 375.7 94.9 381.2 93.2 386.9 92.1 392.8 91.6 398.8 92.1 404.8 93.2 410.7 94.9 416.4 97.1 421.9 99.8 427.1 103 432 106.7 436.5 110.7 440.6 115 444.3 119.6 447.6 124.3 450.4 129.3 452.9 134.5 454.6 139.7 455.9 144.9 456.9 150.1 457.6 155.3 457.9 160.5 458.1 165.7 457.9 170.9 457.6 176.1 456.9 181.3 455.9 186.5 454.6 191.7 452.9 196.7 450.4 201.4 447.6 206 444.3 210.3 440.6 214.3 436.5 218 432 221.2 427.1 223.9 421.9 226.1 416.4 227.8 410.7 228.9 404.8Z" fill="#373737"/><path d="M227.1 398.8 226.5 393 225.4 387.4 223.7 381.9 221.5 376.6 218.9 371.6 215.8 366.9 212.3 362.5 208.5 358.5 204.3 355 199.9 351.8 195.4 349 190.6 346.6 185.5 345.2 180.4 344 175.4 343.2 170.4 342.6 165.4 342.3 160.5 342.2 155.6 342.3 150.6 342.6 145.6 343.2 140.6 344 135.5 345.2 130.4 346.6 125.6 349 121.1 351.8 116.7 355 112.5 358.5 108.7 362.5 105.2 366.9 102.1 371.6 99.5 376.6 97.3 381.9 95.6 387.4 94.5 393 93.9 398.8 94.5 404.6 95.6 410.2 97.3 415.7 99.5 421 102.1 426 105.2 430.7 108.7 435.1 112.5 439.1 116.7 442.6 121.1 445.8 125.6 448.6 130.4 451 135.5 452.4 140.6 453.6 145.6 454.4 150.6 455 155.6 455.3 160.5 455.4 165.4 455.3 170.4 455 175.4 454.4 180.4 453.6 185.5 452.4 190.6 451 195.4 448.6 199.9 445.8 204.3 442.6 208.5 439.1 212.3 435.1 215.8 430.7 218.9 426 221.5 421 223.7 415.7 225.4 410.2 226.5 404.6Z" fill="#3b3b3b"/><path d="M224.8 398.8 224.1 393.2 222.9 387.8 221.3 382.5 219.2 377.4 216.6 372.6 213.7 368.1 210.3 363.9 206.6 360.1 202.7 356.6 198.5 353.6 194.1 350.9 189.5 348.6 184.5 347.3 179.6 346.4 174.7 345.7 169.9 345.2 165.2 345 160.5 344.9 155.8 345 151.1 345.2 146.3 345.7 141.4 346.4 136.5 347.3 131.5 348.6 126.9 350.9 122.5 353.6 118.3 356.6 114.4 360.1 110.7 363.9 107.3 368.1 104.4 372.6 101.8 377.4 99.7 382.5 98.1 387.8 96.9 393.2 96.2 398.8 96.9 404.4 98.1 409.8 99.7 415.1 101.8 420.2 104.4 425 107.3 429.5 110.7 433.7 114.4 437.5 118.3 441 122.5 444 126.9 446.7 131.5 449 136.5 450.3 141.4 451.2 146.3 451.9 151.1 452.4 155.8 452.6 160.5 452.7 165.2 452.6 169.9 452.4 174.7 451.9 179.6 451.2 184.5 450.3 189.5 449 194.1 446.7 198.5 444 202.7 441 206.6 437.5 210.3 433.7 213.7 429.5 216.6 425 219.2 420.2 221.3 415.1 222.9 409.8 224.1 404.4Z" fill="#3e3e3e"/><path d="M224 398.8 223.3 393.3 222.1 387.9 220.5 382.7 218.4 377.7 215.9 373 212.9 368.5 209.6 364.4 206 360.6 202.1 357.2 198 354.2 193.6 351.5 189.1 349.3 184.2 348.1 179.3 347.2 174.5 346.5 169.8 346.1 165.1 345.9 160.5 345.8 155.9 345.9 151.2 346.1 146.5 346.5 141.7 347.2 136.8 348.1 131.9 349.3 127.4 351.5 123 354.2 118.9 357.2 115 360.6 111.4 364.4 108.1 368.5 105.1 373 102.6 377.7 100.5 382.7 98.9 387.9 97.7 393.3 97 398.8 97.7 404.3 98.9 409.7 100.5 414.9 102.6 419.9 105.1 424.6 108.1 429.1 111.4 433.2 115 437 118.9 440.4 123 443.4 127.4 446.1 131.9 448.3 136.8 449.5 141.7 450.4 146.5 451.1 151.2 451.5 155.9 451.7 160.5 451.8 165.1 451.7 169.8 451.5 174.5 451.1 179.3 450.4 184.2 449.5 189.1 448.3 193.6 446.1 198 443.4 202.1 440.4 206 437 209.6 433.2 212.9 429.1 215.9 424.6 218.4 419.9 220.5 414.9 222.1 409.7 223.3 404.3Z" fill="#404040"/><path d="M222.1 398.8 221.3 393.5 220.2 388.3 218.6 383.2 216.6 378.4 214.2 373.8 211.4 369.4 208.2 365.4 204.8 361.7 201 358.3 197 355.3 192.8 352.6 188.4 350.4 183.6 349.3 178.8 348.4 174.2 347.9 169.5 347.5 165 347.3 160.5 347.2 156 347.3 151.5 347.5 146.8 347.9 142.2 348.4 137.4 349.3 132.6 350.4 128.2 352.6 124 355.3 120 358.3 116.2 361.7 112.8 365.4 109.6 369.4 106.8 373.8 104.4 378.4 102.4 383.2 100.8 388.3 99.7 393.5 98.9 398.8 99.7 404.1 100.8 409.3 102.4 414.4 104.4 419.2 106.8 423.8 109.6 428.2 112.8 432.2 116.2 435.9 120 439.3 124 442.3 128.2 445 132.6 447.2 137.4 448.3 142.2 449.2 146.8 449.7 151.5 450.1 156 450.3 160.5 450.4 165 450.3 169.5 450.1 174.2 449.7 178.8 449.2 183.6 448.3 188.4 447.2 192.8 445 197 442.3 201 439.3 204.8 435.9 208.2 432.2 211.4 428.2 214.2 423.8 216.6 419.2 218.6 414.4 220.2 409.3 221.3 404.1Z" fill="#454545"/><path d="M221.1 398.8 220.3 393.6 219.2 388.5 217.6 383.5 215.7 378.7 213.3 374.2 210.6 369.9 207.5 365.9 204.1 362.2 200.4 358.9 196.5 355.9 192.4 353.2 188.1 351 183.3 349.9 178.6 349.1 174 348.5 169.4 348.2 164.9 348 160.5 347.9 156.1 348 151.6 348.2 147 348.5 142.4 349.1 137.7 349.9 132.9 351 128.6 353.2 124.5 355.9 120.6 358.9 116.9 362.2 113.5 365.9 110.4 369.9 107.7 374.2 105.3 378.7 103.4 383.5 101.8 388.5 100.7 393.6 99.9 398.8 100.7 404 101.8 409.1 103.4 414.1 105.3 418.9 107.7 423.4 110.4 427.7 113.5 431.7 116.9 435.4 120.6 438.7 124.5 441.7 128.6 444.4 132.9 446.6 137.7 447.7 142.4 448.5 147 449.1 151.6 449.4 156.1 449.6 160.5 449.7 164.9 449.6 169.4 449.4 174 449.1 178.6 448.5 183.3 447.7 188.1 446.6 192.4 444.4 196.5 441.7 200.4 438.7 204.1 435.4 207.5 431.7 210.6 427.7 213.3 423.4 215.7 418.9 217.6 414.1 219.2 409.1 220.3 404Z" fill="#484848"/><path d="M219.2 398.8 218.4 393.7 217.3 388.8 215.8 384 213.9 379.4 211.6 375 209.1 370.8 206.1 366.9 202.9 363.3 199.3 360 195.6 357 191.6 354.4 187.4 352.1 182.7 351.1 178.1 350.4 173.6 349.9 169.2 349.6 164.8 349.4 160.5 349.3 156.2 349.4 151.8 349.6 147.4 349.9 142.9 350.4 138.3 351.1 133.6 352.1 129.4 354.4 125.4 357 121.7 360 118.1 363.3 114.9 366.9 111.9 370.8 109.4 375 107.1 379.4 105.2 384 103.7 388.8 102.6 393.7 101.8 398.8 102.6 403.9 103.7 408.8 105.2 413.6 107.1 418.2 109.4 422.6 111.9 426.8 114.9 430.7 118.1 434.3 121.7 437.6 125.4 440.6 129.4 443.2 133.6 445.5 138.3 446.5 142.9 447.2 147.4 447.7 151.8 448 156.2 448.2 160.5 448.3 164.8 448.2 169.2 448 173.6 447.7 178.1 447.2 182.7 446.5 187.4 445.5 191.6 443.2 195.6 440.6 199.3 437.6 202.9 434.3 206.1 430.7 209.1 426.8 211.6 422.6 213.9 418.2 215.8 413.6 217.3 408.8 218.4 403.9Z" fill="#4d4d4d"/><path d="M218.2 398.8 217.4 393.8 216.3 389 214.8 384.3 213 379.7 210.8 375.3 208.3 371.2 205.4 367.4 202.2 363.8 198.8 360.5 195.1 357.6 191.2 355 187.1 352.7 182.4 351.7 177.9 351 173.4 350.6 169.1 350.3 164.8 350.1 160.5 350 156.2 350.1 151.9 350.3 147.6 350.6 143.1 351 138.6 351.7 133.9 352.7 129.8 355 125.9 357.6 122.2 360.5 118.8 363.8 115.6 367.4 112.7 371.2 110.2 375.3 108 379.7 106.2 384.3 104.7 389 103.6 393.8 102.8 398.8 103.6 403.8 104.7 408.6 106.2 413.3 108 417.9 110.2 422.3 112.7 426.4 115.6 430.2 118.8 433.8 122.2 437.1 125.9 440 129.8 442.6 133.9 444.9 138.6 445.9 143.1 446.6 147.6 447 151.9 447.3 156.2 447.5 160.5 447.6 164.8 447.5 169.1 447.3 173.4 447 177.9 446.6 182.4 445.9 187.1 444.9 191.2 442.6 195.1 440 198.8 437.1 202.2 433.8 205.4 430.2 208.3 426.4 210.8 422.3 213 417.9 214.8 413.3 216.3 408.6 217.4 403.8Z" fill="#505050"/><path d="M216.4 398.8 215.5 394 214.4 389.3 212.9 384.7 211.2 380.3 209.1 376.1 206.7 372.1 204 368.3 201 364.8 197.7 361.6 194.1 358.7 190.4 356.1 186.4 353.9 181.9 353 177.4 352.3 173.1 351.9 168.8 351.6 164.6 351.5 160.5 351.5 156.4 351.5 152.2 351.6 147.9 351.9 143.6 352.3 139.1 353 134.6 353.9 130.6 356.1 126.9 358.7 123.3 361.6 120 364.8 117 368.3 114.3 372.1 111.9 376.1 109.8 380.3 108.1 384.7 106.6 389.3 105.5 394 104.6 398.8 105.5 403.6 106.6 408.3 108.1 412.9 109.8 417.3 111.9 421.5 114.3 425.5 117 429.3 120 432.8 123.3 436 126.9 438.9 130.6 441.5 134.6 443.7 139.1 444.6 143.6 445.3 147.9 445.7 152.2 446 156.4 446.1 160.5 446.1 164.6 446.1 168.8 446 173.1 445.7 177.4 445.3 181.9 444.6 186.4 443.7 190.4 441.5 194.1 438.9 197.7 436 201 432.8 204 429.3 206.7 425.5 209.1 421.5 211.2 417.3 212.9 412.9 214.4 408.3 215.5 403.6Z" fill="#555555"/><path d="M215.4 398.8 214.5 394.1 213.4 389.5 212 385 210.3 380.7 208.3 376.5 205.9 372.6 203.3 368.8 200.3 365.4 197.1 362.2 193.6 359.3 190 356.7 186.1 354.5 181.6 353.6 177.2 353 172.9 352.6 168.7 352.3 164.6 352.2 160.5 352.2 156.4 352.2 152.3 352.3 148.1 352.6 143.8 353 139.4 353.6 134.9 354.5 131 356.7 127.4 359.3 123.9 362.2 120.7 365.4 117.7 368.8 115.1 372.6 112.7 376.5 110.7 380.7 109 385 107.6 389.5 106.5 394.1 105.6 398.8 106.5 403.5 107.6 408.1 109 412.6 110.7 416.9 112.7 421.1 115.1 425 117.7 428.8 120.7 432.2 123.9 435.4 127.4 438.3 131 440.9 134.9 443.1 139.4 444 143.8 444.6 148.1 445 152.3 445.3 156.4 445.4 160.5 445.4 164.6 445.4 168.7 445.3 172.9 445 177.2 444.6 181.6 444 186.1 443.1 190 440.9 193.6 438.3 197.1 435.4 200.3 432.2 203.3 428.8 205.9 425 208.3 421.1 210.3 416.9 212 412.6 213.4 408.1 214.5 403.5Z" fill="#585858"/><path d="M213.5 398.8 212.6 394.2 211.5 389.8 210.2 385.5 208.5 381.3 206.6 377.3 204.4 373.4 201.9 369.8 199.1 366.4 196 363.3 192.7 360.5 189.1 357.9 185.4 355.6 181 354.8 176.7 354.3 172.5 353.9 168.5 353.7 164.5 353.6 160.5 353.6 156.5 353.6 152.5 353.7 148.5 353.9 144.3 354.3 140 354.8 135.6 355.6 131.9 357.9 128.3 360.5 125 363.3 121.9 366.4 119.1 369.8 116.6 373.4 114.4 377.3 112.5 381.3 110.8 385.5 109.5 389.8 108.4 394.2 107.5 398.8 108.4 403.4 109.5 407.8 110.8 412.1 112.5 416.3 114.4 420.3 116.6 424.2 119.1 427.8 121.9 431.2 125 434.3 128.3 437.1 131.9 439.7 135.6 442 140 442.8 144.3 443.3 148.5 443.7 152.5 443.9 156.5 444 160.5 444 164.5 444 168.5 443.9 172.5 443.7 176.7 443.3 181 442.8 185.4 442 189.1 439.7 192.7 437.1 196 434.3 199.1 431.2 201.9 427.8 204.4 424.2 206.6 420.3 208.5 416.3 210.2 412.1 211.5 407.8 212.6 403.4Z" fill="#5d5d5d"/><path d="M212.5 398.8 211.6 394.3 210.5 390 209.2 385.7 207.6 381.6 205.8 377.7 203.6 373.9 201.2 370.3 198.4 367 195.4 363.9 192.2 361.1 188.7 358.5 185.1 356.2 180.7 355.5 176.5 354.9 172.3 354.6 168.3 354.4 164.4 354.3 160.5 354.3 156.6 354.3 152.7 354.4 148.7 354.6 144.5 354.9 140.3 355.5 135.9 356.2 132.3 358.5 128.8 361.1 125.6 363.9 122.6 367 119.8 370.3 117.4 373.9 115.2 377.7 113.4 381.6 111.8 385.7 110.5 390 109.4 394.3 108.5 398.8 109.4 403.3 110.5 407.6 111.8 411.9 113.4 416 115.2 419.9 117.4 423.7 119.8 427.3 122.6 430.6 125.6 433.7 128.8 436.5 132.3 439.1 135.9 441.4 140.3 442.1 144.5 442.7 148.7 443 152.7 443.2 156.6 443.3 160.5 443.3 164.4 443.3 168.3 443.2 172.3 443 176.5 442.7 180.7 442.1 185.1 441.4 188.7 439.1 192.2 436.5 195.4 433.7 198.4 430.6 201.2 427.3 203.6 423.7 205.8 419.9 207.6 416 209.2 411.9 210.5 407.6 211.6 403.3Z" fill="#606060"/><path d="M210.9 398.8 210 394.5 209 390.3 207.7 386.2 206.1 382.2 204.3 378.4 202.2 374.7 199.8 371.3 197.1 368.1 194.2 365.1 191 362.4 187.7 359.9 184.2 357.8 180 357.1 175.9 356.6 171.9 356.3 168 356.1 164.2 356 160.5 356 156.8 356 153 356.1 149.1 356.3 145.1 356.6 141 357.1 136.8 357.8 133.3 359.9 130 362.4 126.8 365.1 123.9 368.1 121.2 371.3 118.8 374.7 116.7 378.4 114.9 382.2 113.3 386.2 112 390.3 111 394.5 110.1 398.8 111 403.1 112 407.3 113.3 411.4 114.9 415.4 116.7 419.2 118.8 422.9 121.2 426.3 123.9 429.5 126.8 432.5 130 435.2 133.3 437.7 136.8 439.8 141 440.5 145.1 441 149.1 441.3 153 441.5 156.8 441.6 160.5 441.6 164.2 441.6 168 441.5 171.9 441.3 175.9 441 180 440.5 184.2 439.8 187.7 437.7 191 435.2 194.2 432.5 197.1 429.5 199.8 426.3 202.2 422.9 204.3 419.2 206.1 415.4 207.7 411.4 209 407.3 210 403.1Z" fill="#676767"/><path d="M208.8 398.8 208 394.6 206.9 390.6 205.7 386.7 204.2 382.9 202.4 379.3 200.3 375.8 198 372.5 195.4 369.5 192.6 366.7 189.6 364.1 186.4 361.8 183 359.9 179 359.2 175.1 358.7 171.3 358.4 167.6 358.3 164.1 358.2 160.5 358.2 156.9 358.2 153.4 358.3 149.7 358.4 145.9 358.7 142 359.2 138 359.9 134.6 361.8 131.4 364.1 128.4 366.7 125.6 369.5 123 372.5 120.7 375.8 118.6 379.3 116.8 382.9 115.3 386.7 114.1 390.6 113 394.6 112.2 398.8 113 403 114.1 407 115.3 410.9 116.8 414.7 118.6 418.3 120.7 421.8 123 425.1 125.6 428.1 128.4 430.9 131.4 433.5 134.6 435.8 138 437.7 142 438.4 145.9 438.9 149.7 439.2 153.4 439.3 156.9 439.4 160.5 439.4 164.1 439.4 167.6 439.3 171.3 439.2 175.1 438.9 179 438.4 183 437.7 186.4 435.8 189.6 433.5 192.6 430.9 195.4 428.1 198 425.1 200.3 421.8 202.4 418.3 204.2 414.7 205.7 410.9 206.9 407 208 403Z" fill="#707070"/><path d="M208.5 398.8 207.6 394.7 206.6 390.7 205.3 386.8 203.8 383 202 379.4 200 376 197.7 372.8 195.1 369.7 192.3 367 189.3 364.4 186.2 362.1 182.8 360.2 178.8 359.6 174.9 359.1 171.2 358.8 167.6 358.7 164 358.6 160.5 358.6 157 358.6 153.4 358.7 149.8 358.8 146.1 359.1 142.2 359.6 138.2 360.2 134.8 362.1 131.7 364.4 128.7 367 125.9 369.7 123.3 372.8 121 376 119 379.4 117.2 383 115.7 386.8 114.4 390.7 113.4 394.7 112.5 398.8 113.4 402.9 114.4 406.9 115.7 410.8 117.2 414.6 119 418.2 121 421.6 123.3 424.8 125.9 427.9 128.7 430.6 131.7 433.2 134.8 435.5 138.2 437.4 142.2 438 146.1 438.5 149.8 438.8 153.4 438.9 157 439 160.5 439 164 439 167.6 438.9 171.2 438.8 174.9 438.5 178.8 438 182.8 437.4 186.2 435.5 189.3 433.2 192.3 430.6 195.1 427.9 197.7 424.8 200 421.6 202 418.2 203.8 414.6 205.3 410.8 206.6 406.9 207.6 402.9Z" fill="#717171"/><path d="M207 398.8 206.2 394.8 205.1 390.9 203.9 387.2 202.4 383.5 200.7 380.1 198.7 376.8 196.4 373.6 193.9 370.7 191.2 368.1 188.3 365.7 185.2 363.5 181.9 361.7 178.1 361.1 174.4 360.6 170.8 360.4 167.3 360.2 163.9 360.1 160.5 360.1 157.1 360.1 153.7 360.2 150.2 360.4 146.6 360.6 142.9 361.1 139.1 361.7 135.8 363.5 132.7 365.7 129.8 368.1 127.1 370.7 124.6 373.6 122.3 376.8 120.3 380.1 118.6 383.5 117.1 387.2 115.9 390.9 114.8 394.8 114 398.8 114.8 402.8 115.9 406.7 117.1 410.4 118.6 414.1 120.3 417.5 122.3 420.8 124.6 424 127.1 426.9 129.8 429.5 132.7 431.9 135.8 434.1 139.1 435.9 142.9 436.5 146.6 437 150.2 437.2 153.7 437.4 157.1 437.5 160.5 437.5 163.9 437.5 167.3 437.4 170.8 437.2 174.4 437 178.1 436.5 181.9 435.9 185.2 434.1 188.3 431.9 191.2 429.5 193.9 426.9 196.4 424 198.7 420.8 200.7 417.5 202.4 414.1 203.9 410.4 205.1 406.7 206.2 402.8Z" fill="#787878"/><path d="M206 398.8 205.2 394.9 204.2 391.1 203 387.4 201.5 383.9 199.8 380.5 197.8 377.3 195.6 374.2 193.1 371.4 190.5 368.8 187.6 366.5 184.6 364.3 181.4 362.7 177.6 362 174 361.6 170.5 361.4 167.1 361.2 163.8 361.2 160.5 361.1 157.2 361.2 153.9 361.2 150.5 361.4 147 361.6 143.4 362 139.6 362.7 136.4 364.3 133.4 366.5 130.5 368.8 127.9 371.4 125.4 374.2 123.2 377.3 121.2 380.5 119.5 383.9 118 387.4 116.8 391.1 115.8 394.9 115 398.8 115.8 402.7 116.8 406.5 118 410.2 119.5 413.7 121.2 417.1 123.2 420.3 125.4 423.4 127.9 426.2 130.5 428.8 133.4 431.1 136.4 433.3 139.6 434.9 143.4 435.6 147 436 150.5 436.2 153.9 436.4 157.2 436.4 160.5 436.5 163.8 436.4 167.1 436.4 170.5 436.2 174 436 177.6 435.6 181.4 434.9 184.6 433.3 187.6 431.1 190.5 428.8 193.1 426.2 195.6 423.4 197.8 420.3 199.8 417.1 201.5 413.7 203 410.2 204.2 406.5 205.2 402.7Z" fill="#7c7c7c"/><path d="M205.2 398.8 204.4 395 203.4 391.2 202.1 387.6 200.7 384.2 199 380.9 197 377.7 194.8 374.8 192.4 372 189.8 369.5 187 367.2 184.1 365.1 180.9 363.5 177.2 362.9 173.7 362.5 170.3 362.3 167 362.1 163.7 362.1 160.5 362.1 157.3 362.1 154 362.1 150.7 362.3 147.3 362.5 143.8 362.9 140.1 363.5 136.9 365.1 134 367.2 131.2 369.5 128.6 372 126.2 374.8 124 377.7 122 380.9 120.3 384.2 118.9 387.6 117.6 391.2 116.6 395 115.8 398.8 116.6 402.6 117.6 406.4 118.9 410 120.3 413.4 122 416.7 124 419.9 126.2 422.8 128.6 425.6 131.2 428.1 134 430.4 136.9 432.5 140.1 434.1 143.8 434.7 147.3 435.1 150.7 435.3 154 435.5 157.3 435.5 160.5 435.5 163.7 435.5 167 435.5 170.3 435.3 173.7 435.1 177.2 434.7 180.9 434.1 184.1 432.5 187 430.4 189.8 428.1 192.4 425.6 194.8 422.8 197 419.9 199 416.7 200.7 413.4 202.1 410 203.4 406.4 204.4 402.6Z" fill="#808080"/><path d="M203.7 398.8 202.9 395.1 201.9 391.5 200.7 388 199.2 384.7 197.6 381.5 195.7 378.5 193.5 375.7 191.2 373.1 188.6 370.7 185.9 368.5 183.1 366.6 179.9 365.1 176.5 364.6 173.1 364.2 169.8 364 166.7 363.8 163.6 363.8 160.5 363.8 157.4 363.8 154.3 363.8 151.2 364 147.9 364.2 144.5 364.6 141.1 365.1 137.9 366.6 135.1 368.5 132.4 370.7 129.8 373.1 127.5 375.7 125.3 378.5 123.4 381.5 121.8 384.7 120.3 388 119.1 391.5 118.1 395.1 117.3 398.8 118.1 402.5 119.1 406.1 120.3 409.6 121.8 412.9 123.4 416.1 125.3 419.1 127.5 421.9 129.8 424.5 132.4 426.9 135.1 429.1 137.9 431 141.1 432.5 144.5 433 147.9 433.4 151.2 433.6 154.3 433.8 157.4 433.8 160.5 433.8 163.6 433.8 166.7 433.8 169.8 433.6 173.1 433.4 176.5 433 179.9 432.5 183.1 431 185.9 429.1 188.6 426.9 191.2 424.5 193.5 421.9 195.7 419.1 197.6 416.1 199.2 412.9 200.7 409.6 201.9 406.1 202.9 402.5Z" fill="#868686"/><path d="M203.3 398.8 202.5 395.1 201.5 391.6 200.3 388.1 198.9 384.8 197.2 381.7 195.3 378.7 193.1 376 190.8 373.4 188.2 371.1 185.5 369 182.7 367.1 179.6 365.7 176.2 365.1 172.9 364.8 169.7 364.5 166.6 364.4 163.5 364.3 160.5 364.3 157.5 364.3 154.4 364.4 151.3 364.5 148.1 364.8 144.8 365.1 141.4 365.7 138.3 367.1 135.5 369 132.8 371.1 130.2 373.4 127.9 376 125.7 378.7 123.8 381.7 122.1 384.8 120.7 388.1 119.5 391.6 118.5 395.1 117.7 398.8 118.5 402.5 119.5 406 120.7 409.5 122.1 412.8 123.8 415.9 125.7 418.9 127.9 421.6 130.2 424.2 132.8 426.5 135.5 428.6 138.3 430.5 141.4 431.9 144.8 432.5 148.1 432.8 151.3 433.1 154.4 433.2 157.5 433.3 160.5 433.3 163.5 433.3 166.6 433.2 169.7 433.1 172.9 432.8 176.2 432.5 179.6 431.9 182.7 430.5 185.5 428.6 188.2 426.5 190.8 424.2 193.1 421.6 195.3 418.9 197.2 415.9 198.9 412.8 200.3 409.5 201.5 406 202.5 402.5Z" fill="#878787"/><path d="M201.5 398.8 200.9 395.3 199.9 391.9 198.7 388.6 197.3 385.4 195.6 382.4 193.6 379.7 191.5 377.1 189.2 374.7 186.7 372.6 184.1 370.7 181.3 369 178.3 367.9 175.1 367.4 172.1 367.1 169.1 366.8 166.2 366.7 163.3 366.7 160.5 366.6 157.7 366.7 154.8 366.7 151.9 366.8 148.9 367.1 145.9 367.4 142.7 367.9 139.7 369 136.9 370.7 134.3 372.6 131.8 374.7 129.5 377.1 127.4 379.7 125.4 382.4 123.7 385.4 122.3 388.6 121.1 391.9 120.1 395.3 119.5 398.8 120.1 402.3 121.1 405.7 122.3 409 123.7 412.2 125.4 415.2 127.4 417.9 129.5 420.5 131.8 422.9 134.3 425 136.9 426.9 139.7 428.6 142.7 429.7 145.9 430.2 148.9 430.5 151.9 430.8 154.8 430.9 157.7 430.9 160.5 431 163.3 430.9 166.2 430.9 169.1 430.8 172.1 430.5 175.1 430.2 178.3 429.7 181.3 428.6 184.1 426.9 186.7 425 189.2 422.9 191.5 420.5 193.6 417.9 195.6 415.2 197.3 412.2 198.7 409 199.9 405.7 200.9 402.3Z" fill="#8e8e8e"/><path d="M201.2 398.8 200.5 395.3 199.6 391.9 198.4 388.7 196.9 385.5 195.2 382.6 193.3 379.9 191.2 377.3 188.8 375 186.3 373 183.7 371.1 181 369.5 178 368.4 174.9 367.9 171.9 367.6 168.9 367.3 166.1 367.2 163.3 367.2 160.5 367.1 157.7 367.2 154.9 367.2 152.1 367.3 149.1 367.6 146.1 367.9 143 368.4 140 369.5 137.3 371.1 134.7 373 132.2 375 129.8 377.3 127.7 379.9 125.8 382.6 124.1 385.5 122.6 388.7 121.4 391.9 120.5 395.3 119.8 398.8 120.5 402.3 121.4 405.7 122.6 408.9 124.1 412.1 125.8 415 127.7 417.7 129.8 420.3 132.2 422.6 134.7 424.6 137.3 426.5 140 428.1 143 429.2 146.1 429.7 149.1 430 152.1 430.3 154.9 430.4 157.7 430.4 160.5 430.5 163.3 430.4 166.1 430.4 168.9 430.3 171.9 430 174.9 429.7 178 429.2 181 428.1 183.7 426.5 186.3 424.6 188.8 422.6 191.2 420.3 193.3 417.7 195.2 415 196.9 412.1 198.4 408.9 199.6 405.7 200.5 402.3Z" fill="#8f8f8f"/><path d="M199.4 398.8 198.8 395.4 197.9 392.2 196.7 389.1 195.2 386.2 193.5 383.4 191.6 380.9 189.5 378.5 187.2 376.4 184.7 374.6 182.2 372.9 179.6 371.5 176.7 370.7 173.8 370.2 171 369.9 168.3 369.7 165.7 369.6 163.1 369.5 160.5 369.5 157.9 369.5 155.3 369.6 152.7 369.7 150 369.9 147.2 370.2 144.3 370.7 141.4 371.5 138.8 372.9 136.3 374.6 133.8 376.4 131.5 378.5 129.4 380.9 127.5 383.4 125.8 386.2 124.3 389.1 123.1 392.2 122.2 395.4 121.6 398.8 122.2 402.2 123.1 405.4 124.3 408.5 125.8 411.4 127.5 414.2 129.4 416.7 131.5 419.1 133.8 421.2 136.3 423 138.8 424.7 141.4 426.1 144.3 426.9 147.2 427.4 150 427.7 152.7 427.9 155.3 428 157.9 428.1 160.5 428.1 163.1 428.1 165.7 428 168.3 427.9 171 427.7 173.8 427.4 176.7 426.9 179.6 426.1 182.2 424.7 184.7 423 187.2 421.2 189.5 419.1 191.6 416.7 193.5 414.2 195.2 411.4 196.7 408.5 197.9 405.4 198.8 402.2Z" fill="#969696"/><path d="M199.1 398.8 198.5 395.5 197.6 392.3 196.4 389.2 194.9 386.3 193.2 383.6 191.2 381 189.1 378.8 186.8 376.7 184.4 374.9 181.9 373.3 179.3 371.9 176.5 371.1 173.6 370.7 170.9 370.3 168.2 370.2 165.6 370 163 370 160.5 370 158 370 155.4 370 152.8 370.2 150.1 370.3 147.4 370.7 144.5 371.1 141.7 371.9 139.1 373.3 136.6 374.9 134.2 376.7 131.9 378.8 129.8 381 127.8 383.6 126.1 386.3 124.6 389.2 123.4 392.3 122.5 395.5 121.9 398.8 122.5 402.1 123.4 405.3 124.6 408.4 126.1 411.3 127.8 414 129.8 416.6 131.9 418.8 134.2 420.9 136.6 422.7 139.1 424.3 141.7 425.7 144.5 426.5 147.4 426.9 150.1 427.3 152.8 427.4 155.4 427.6 158 427.6 160.5 427.6 163 427.6 165.6 427.6 168.2 427.4 170.9 427.3 173.6 426.9 176.5 426.5 179.3 425.7 181.9 424.3 184.4 422.7 186.8 420.9 189.1 418.8 191.2 416.6 193.2 414 194.9 411.3 196.4 408.4 197.6 405.3 198.5 402.1Z" fill="#979797"/><path d="M197.3 398.8 196.8 395.6 195.9 392.6 194.7 389.6 193.2 386.9 191.4 384.4 189.5 382.1 187.3 380 185.1 378.2 182.7 376.6 180.3 375.2 177.8 374 175.1 373.4 172.5 373 170 372.7 167.5 372.5 165.1 372.5 162.8 372.4 160.5 372.4 158.2 372.4 155.9 372.5 153.5 372.5 151 372.7 148.5 373 145.9 373.4 143.2 374 140.7 375.2 138.3 376.6 135.9 378.2 133.7 380 131.5 382.1 129.6 384.4 127.8 386.9 126.3 389.6 125.1 392.6 124.2 395.6 123.7 398.8 124.2 402 125.1 405 126.3 408 127.8 410.7 129.6 413.2 131.5 415.5 133.7 417.6 135.9 419.4 138.3 421 140.7 422.4 143.2 423.6 145.9 424.2 148.5 424.6 151 424.9 153.5 425.1 155.9 425.1 158.2 425.2 160.5 425.2 162.8 425.2 165.1 425.1 167.5 425.1 170 424.9 172.5 424.6 175.1 424.2 177.8 423.6 180.3 422.4 182.7 421 185.1 419.4 187.3 417.6 189.5 415.5 191.4 413.2 193.2 410.7 194.7 408 195.9 405 196.8 402Z" fill="#9e9e9e"/><path d="M197 398.8 196.5 395.7 195.6 392.6 194.4 389.7 192.9 387 191.1 384.5 189.1 382.3 187 380.2 184.8 378.4 182.4 376.9 180 375.5 177.6 374.4 174.9 373.8 172.3 373.4 169.8 373.1 167.4 373 165.1 372.9 162.8 372.8 160.5 372.8 158.2 372.8 155.9 372.9 153.6 373 151.2 373.1 148.7 373.4 146.1 373.8 143.4 374.4 141 375.5 138.6 376.9 136.2 378.4 134 380.2 131.9 382.3 129.9 384.5 128.1 387 126.6 389.7 125.4 392.6 124.5 395.7 124 398.8 124.5 401.9 125.4 405 126.6 407.9 128.1 410.6 129.9 413.1 131.9 415.3 134 417.4 136.2 419.2 138.6 420.7 141 422.1 143.4 423.2 146.1 423.8 148.7 424.2 151.2 424.5 153.6 424.6 155.9 424.7 158.2 424.8 160.5 424.8 162.8 424.8 165.1 424.7 167.4 424.6 169.8 424.5 172.3 424.2 174.9 423.8 177.6 423.2 180 422.1 182.4 420.7 184.8 419.2 187 417.4 189.1 415.3 191.1 413.1 192.9 410.6 194.4 407.9 195.6 405 196.5 401.9Z" fill="#9f9f9f"/><path d="M194.9 398.8 194.4 395.8 193.6 393 192.4 390.3 190.8 387.8 189.1 385.5 187.1 383.4 185.1 381.6 182.9 380 180.7 378.6 178.4 377.5 176.1 376.5 173.7 376 171.3 375.6 169 375.3 166.8 375.2 164.7 375.1 162.6 375 160.5 375 158.4 375 156.3 375.1 154.2 375.2 152 375.3 149.7 375.6 147.3 376 144.9 376.5 142.6 377.5 140.3 378.6 138.1 380 135.9 381.6 133.9 383.4 131.9 385.5 130.2 387.8 128.6 390.3 127.4 393 126.6 395.8 126.1 398.8 126.6 401.8 127.4 404.6 128.6 407.3 130.2 409.8 131.9 412.1 133.9 414.2 135.9 416 138.1 417.6 140.3 419 142.6 420.1 144.9 421.1 147.3 421.6 149.7 422 152 422.3 154.2 422.4 156.3 422.5 158.4 422.6 160.5 422.6 162.6 422.6 164.7 422.5 166.8 422.4 169 422.3 171.3 422 173.7 421.6 176.1 421.1 178.4 420.1 180.7 419 182.9 417.6 185.1 416 187.1 414.2 189.1 412.1 190.8 409.8 192.4 407.3 193.6 404.6 194.4 401.8Z" fill="#a6a6a6"/><path d="M192.5 398.8 192 396 191.2 393.4 190 390.9 188.4 388.6 186.7 386.6 184.8 384.8 182.8 383.2 180.7 381.8 178.6 380.7 176.5 379.7 174.4 379 172.2 378.5 170.1 378.1 168.1 377.9 166.1 377.7 164.2 377.6 162.4 377.6 160.5 377.6 158.6 377.6 156.8 377.6 154.9 377.7 152.9 377.9 150.9 378.1 148.8 378.5 146.6 379 144.5 379.7 142.4 380.7 140.3 381.8 138.2 383.2 136.2 384.8 134.3 386.6 132.6 388.6 131 390.9 129.8 393.4 129 396 128.5 398.8 129 401.6 129.8 404.2 131 406.7 132.6 409 134.3 411 136.2 412.8 138.2 414.4 140.3 415.8 142.4 416.9 144.5 417.9 146.6 418.6 148.8 419.1 150.9 419.5 152.9 419.7 154.9 419.9 156.8 420 158.6 420 160.5 420 162.4 420 164.2 420 166.1 419.9 168.1 419.7 170.1 419.5 172.2 419.1 174.4 418.6 176.5 417.9 178.6 416.9 180.7 415.8 182.8 414.4 184.8 412.8 186.7 411 188.4 409 190 406.7 191.2 404.2 192 401.6Z" fill="#afafaf"/><path d="M190 398.8 189.6 396.3 188.8 393.8 187.5 391.6 186 389.5 184.2 387.7 182.4 386.2 180.4 384.9 178.5 383.7 176.5 382.8 174.6 382 172.7 381.4 170.8 381 168.9 380.7 167.2 380.5 165.5 380.3 163.8 380.2 162.1 380.2 160.5 380.1 158.9 380.2 157.2 380.2 155.5 380.3 153.8 380.5 152.1 380.7 150.2 381 148.3 381.4 146.4 382 144.5 382.8 142.5 383.7 140.6 384.9 138.6 386.2 136.8 387.7 135 389.5 133.5 391.6 132.2 393.8 131.4 396.3 131 398.8 131.4 401.3 132.2 403.8 133.5 406 135 408.1 136.8 409.9 138.6 411.4 140.6 412.7 142.5 413.9 144.5 414.8 146.4 415.6 148.3 416.2 150.2 416.6 152.1 416.9 153.8 417.1 155.5 417.3 157.2 417.4 158.9 417.4 160.5 417.5 162.1 417.4 163.8 417.4 165.5 417.3 167.2 417.1 168.9 416.9 170.8 416.6 172.7 416.2 174.6 415.6 176.5 414.8 178.5 413.9 180.4 412.7 182.4 411.4 184.2 409.9 186 408.1 187.5 406 188.8 403.8 189.6 401.3Z" fill="#b7b7b7"/><path d="M187.6 398.8 187.2 396.5 186.4 394.2 185.1 392.2 183.5 390.4 181.7 388.9 179.9 387.6 178 386.5 176.2 385.6 174.4 384.9 172.7 384.3 171 383.9 169.3 383.5 167.8 383.2 166.2 383 164.8 382.9 163.3 382.8 161.9 382.7 160.5 382.7 159.1 382.7 157.7 382.8 156.2 382.9 154.8 383 153.2 383.2 151.7 383.5 150 383.9 148.3 384.3 146.6 384.9 144.8 385.6 143 386.5 141.1 387.6 139.3 388.9 137.5 390.4 135.9 392.2 134.6 394.2 133.8 396.5 133.4 398.8 133.8 401.1 134.6 403.4 135.9 405.4 137.5 407.2 139.3 408.7 141.1 410 143 411.1 144.8 412 146.6 412.7 148.3 413.3 150 413.7 151.7 414.1 153.2 414.4 154.8 414.6 156.2 414.7 157.7 414.8 159.1 414.9 160.5 414.9 161.9 414.9 163.3 414.8 164.8 414.7 166.2 414.6 167.8 414.4 169.3 414.1 171 413.7 172.7 413.3 174.4 412.7 176.2 412 178 411.1 179.9 410 181.7 408.7 183.5 407.2 185.1 405.4 186.4 403.4 187.2 401.1Z" fill="#bfbfbf"/><path d="M185.3 398.8 184.9 396.7 184.1 394.6 183 392.8 181.5 391.2 179.9 389.8 178.2 388.6 176.4 387.6 174.8 386.8 173.1 386.2 171.5 385.6 170 385.2 168.5 384.9 167.1 384.7 165.7 384.5 164.4 384.3 163.1 384.2 161.8 384.2 160.5 384.2 159.2 384.2 157.9 384.2 156.6 384.3 155.3 384.5 153.9 384.7 152.5 384.9 151 385.2 149.5 385.6 147.9 386.2 146.2 386.8 144.6 387.6 142.8 388.6 141.1 389.8 139.5 391.2 138 392.8 136.9 394.6 136.1 396.7 135.7 398.8 136.1 400.9 136.9 403 138 404.8 139.5 406.4 141.1 407.8 142.8 409 144.6 410 146.2 410.8 147.9 411.4 149.5 412 151 412.4 152.5 412.7 153.9 412.9 155.3 413.1 156.6 413.3 157.9 413.4 159.2 413.4 160.5 413.4 161.8 413.4 163.1 413.4 164.4 413.3 165.7 413.1 167.1 412.9 168.5 412.7 170 412.4 171.5 412 173.1 411.4 174.8 410.8 176.4 410 178.2 409 179.9 407.8 181.5 406.4 183 404.8 184.1 403 184.9 400.9Z" fill="#c7c7c7"/><path d="M184.5 398.8 184.2 396.7 183.4 394.8 182.3 393 180.9 391.4 179.3 390 177.6 388.9 176 388 174.3 387.2 172.7 386.6 171.2 386 169.7 385.7 168.3 385.4 166.9 385.1 165.5 384.9 164.3 384.8 163 384.7 161.7 384.6 160.5 384.6 159.3 384.6 158 384.7 156.7 384.8 155.5 384.9 154.1 385.1 152.7 385.4 151.3 385.7 149.8 386 148.3 386.6 146.7 387.2 145 388 143.4 388.9 141.7 390 140.1 391.4 138.7 393 137.6 394.8 136.8 396.7 136.5 398.8 136.8 400.9 137.6 402.8 138.7 404.6 140.1 406.2 141.7 407.6 143.4 408.7 145 409.6 146.7 410.4 148.3 411 149.8 411.6 151.3 411.9 152.7 412.2 154.1 412.5 155.5 412.7 156.7 412.8 158 412.9 159.3 413 160.5 413 161.7 413 163 412.9 164.3 412.8 165.5 412.7 166.9 412.5 168.3 412.2 169.7 411.9 171.2 411.6 172.7 411 174.3 410.4 176 409.6 177.6 408.7 179.3 407.6 180.9 406.2 182.3 404.6 183.4 402.8 184.2 400.9Z" fill="#cacaca"/><path d="M183 398.8 182.7 396.9 182 395 180.9 393.3 179.6 391.9 178.1 390.6 176.5 389.5 175 388.7 173.4 387.9 171.9 387.4 170.5 386.9 169.1 386.5 167.8 386.2 166.5 386 165.2 385.8 164 385.7 162.8 385.6 161.7 385.6 160.5 385.5 159.3 385.6 158.2 385.6 157 385.7 155.8 385.8 154.5 386 153.2 386.2 151.9 386.5 150.5 386.9 149.1 387.4 147.6 387.9 146 388.7 144.5 389.5 142.9 390.6 141.4 391.9 140.1 393.3 139 395 138.3 396.9 138 398.8 138.3 400.7 139 402.6 140.1 404.3 141.4 405.7 142.9 407 144.5 408.1 146 408.9 147.6 409.7 149.1 410.2 150.5 410.7 151.9 411.1 153.2 411.4 154.5 411.6 155.8 411.8 157 411.9 158.2 412 159.3 412 160.5 412.1 161.7 412 162.8 412 164 411.9 165.2 411.8 166.5 411.6 167.8 411.4 169.1 411.1 170.5 410.7 171.9 410.2 173.4 409.7 175 408.9 176.5 408.1 178.1 407 179.6 405.7 180.9 404.3 182 402.6 182.7 400.7Z" fill="#cfcfcf"/><path d="M181.4 398.8 181.2 397 180.5 395.3 179.5 393.7 178.2 392.3 176.9 391.2 175.4 390.2 173.9 389.4 172.5 388.7 171.1 388.2 169.8 387.8 168.5 387.4 167.2 387.2 166 386.9 164.9 386.8 163.8 386.7 162.7 386.6 161.6 386.5 160.5 386.5 159.4 386.5 158.3 386.6 157.2 386.7 156.1 386.8 155 386.9 153.8 387.2 152.5 387.4 151.2 387.8 149.9 388.2 148.5 388.7 147.1 389.4 145.6 390.2 144.1 391.2 142.8 392.3 141.5 393.7 140.5 395.3 139.8 397 139.6 398.8 139.8 400.6 140.5 402.3 141.5 403.9 142.8 405.3 144.1 406.4 145.6 407.4 147.1 408.2 148.5 408.9 149.9 409.4 151.2 409.8 152.5 410.2 153.8 410.4 155 410.7 156.1 410.8 157.2 410.9 158.3 411 159.4 411.1 160.5 411.1 161.6 411.1 162.7 411 163.8 410.9 164.9 410.8 166 410.7 167.2 410.4 168.5 410.2 169.8 409.8 171.1 409.4 172.5 408.9 173.9 408.2 175.4 407.4 176.9 406.4 178.2 405.3 179.5 403.9 180.5 402.3 181.2 400.6Z" fill="#d5d5d5"/><path d="M180.7 398.8 180.5 397 179.9 395.4 178.9 393.9 177.7 392.5 176.3 391.4 174.9 390.5 173.5 389.7 172.1 389.1 170.8 388.5 169.5 388.1 168.2 387.8 167 387.5 165.8 387.3 164.7 387.2 163.6 387.1 162.6 387 161.5 386.9 160.5 386.9 159.5 386.9 158.4 387 157.4 387.1 156.3 387.2 155.2 387.3 154 387.5 152.8 387.8 151.5 388.1 150.2 388.5 148.9 389.1 147.5 389.7 146.1 390.5 144.7 391.4 143.3 392.5 142.1 393.9 141.1 395.4 140.5 397 140.3 398.8 140.5 400.6 141.1 402.2 142.1 403.7 143.3 405.1 144.7 406.2 146.1 407.1 147.5 407.9 148.9 408.5 150.2 409.1 151.5 409.5 152.8 409.8 154 410.1 155.2 410.3 156.3 410.4 157.4 410.5 158.4 410.6 159.5 410.7 160.5 410.7 161.5 410.7 162.6 410.6 163.6 410.5 164.7 410.4 165.8 410.3 167 410.1 168.2 409.8 169.5 409.5 170.8 409.1 172.1 408.5 173.5 407.9 174.9 407.1 176.3 406.2 177.7 405.1 178.9 403.7 179.9 402.2 180.5 400.6Z" fill="#d7d7d7"/><path d="M178.5 398.8 178.3 397.2 177.7 395.8 176.9 394.4 175.8 393.2 174.6 392.2 173.3 391.4 172 390.7 170.8 390.2 169.6 389.7 168.4 389.4 167.3 389.1 166.2 388.8 165.2 388.7 164.2 388.5 163.3 388.4 162.3 388.4 161.4 388.3 160.5 388.3 159.6 388.3 158.7 388.4 157.7 388.4 156.8 388.5 155.8 388.7 154.8 388.8 153.7 389.1 152.6 389.4 151.4 389.7 150.2 390.2 149 390.7 147.7 391.4 146.4 392.2 145.2 393.2 144.1 394.4 143.3 395.8 142.7 397.2 142.5 398.8 142.7 400.4 143.3 401.8 144.1 403.2 145.2 404.4 146.4 405.4 147.7 406.2 149 406.9 150.2 407.4 151.4 407.9 152.6 408.2 153.7 408.5 154.8 408.8 155.8 408.9 156.8 409.1 157.7 409.2 158.7 409.2 159.6 409.3 160.5 409.3 161.4 409.3 162.3 409.2 163.3 409.2 164.2 409.1 165.2 408.9 166.2 408.8 167.3 408.5 168.4 408.2 169.6 407.9 170.8 407.4 172 406.9 173.3 406.2 174.6 405.4 175.8 404.4 176.9 403.2 177.7 401.8 178.3 400.4Z" fill="#dfdfdf"/><path d="M175.3 398.8 175.1 397.5 174.6 396.3 173.9 395.2 173 394.3 171.9 393.5 170.9 392.8 169.8 392.3 168.8 391.8 167.8 391.5 166.9 391.2 166 391 165.1 390.8 164.3 390.6 163.5 390.5 162.7 390.4 162 390.4 161.2 390.4 160.5 390.4 159.8 390.4 159 390.4 158.3 390.4 157.5 390.5 156.7 390.6 155.9 390.8 155 391 154.1 391.2 153.2 391.5 152.2 391.8 151.2 392.3 150.1 392.8 149.1 393.5 148 394.3 147.1 395.2 146.4 396.3 145.9 397.5 145.7 398.8 145.9 400.1 146.4 401.3 147.1 402.4 148 403.3 149.1 404.1 150.1 404.8 151.2 405.3 152.2 405.8 153.2 406.1 154.1 406.4 155 406.6 155.9 406.8 156.7 407 157.5 407.1 158.3 407.2 159 407.2 159.8 407.2 160.5 407.2 161.2 407.2 162 407.2 162.7 407.2 163.5 407.1 164.3 407 165.1 406.8 166 406.6 166.9 406.4 167.8 406.1 168.8 405.8 169.8 405.3 170.9 404.8 171.9 404.1 173 403.3 173.9 402.4 174.6 401.3 175.1 400.1Z" fill="#e6e6e6"/><path d="M174.8 398.8 174.6 397.6 174.1 396.4 173.4 395.3 172.5 394.4 171.5 393.7 170.5 393 169.5 392.5 168.5 392.1 167.6 391.7 166.7 391.5 165.8 391.3 165 391.1 164.2 390.9 163.4 390.8 162.7 390.8 161.9 390.7 161.2 390.7 160.5 390.7 159.8 390.7 159.1 390.7 158.3 390.8 157.6 390.8 156.8 390.9 156 391.1 155.2 391.3 154.3 391.5 153.4 391.7 152.5 392.1 151.5 392.5 150.5 393 149.5 393.7 148.5 394.4 147.6 395.3 146.9 396.4 146.4 397.6 146.2 398.8 146.4 400 146.9 401.2 147.6 402.3 148.5 403.2 149.5 403.9 150.5 404.6 151.5 405.1 152.5 405.5 153.4 405.9 154.3 406.1 155.2 406.3 156 406.5 156.8 406.7 157.6 406.8 158.3 406.8 159.1 406.9 159.8 406.9 160.5 406.9 161.2 406.9 161.9 406.9 162.7 406.8 163.4 406.8 164.2 406.7 165 406.5 165.8 406.3 166.7 406.1 167.6 405.9 168.5 405.5 169.5 405.1 170.5 404.6 171.5 403.9 172.5 403.2 173.4 402.3 174.1 401.2 174.6 400Z" fill="#e7e7e7"/><path d="M172.2 398.8 172 397.8 171.6 396.8 171 396 170.3 395.2 169.5 394.6 168.6 394.1 167.8 393.7 167 393.4 166.2 393.1 165.4 392.9 164.7 392.7 164.1 392.6 163.4 392.5 162.8 392.4 162.2 392.4 161.6 392.3 161.1 392.3 160.5 392.3 159.9 392.3 159.4 392.3 158.8 392.4 158.2 392.4 157.6 392.5 156.9 392.6 156.3 392.7 155.6 392.9 154.8 393.1 154 393.4 153.2 393.7 152.4 394.1 151.5 394.6 150.7 395.2 150 396 149.4 396.8 149 397.8 148.8 398.8 149 399.8 149.4 400.8 150 401.6 150.7 402.4 151.5 403 152.4 403.5 153.2 403.9 154 404.2 154.8 404.5 155.6 404.7 156.3 404.9 156.9 405 157.6 405.1 158.2 405.2 158.8 405.2 159.4 405.3 159.9 405.3 160.5 405.3 161.1 405.3 161.6 405.3 162.2 405.2 162.8 405.2 163.4 405.1 164.1 405 164.7 404.9 165.4 404.7 166.2 404.5 167 404.2 167.8 403.9 168.6 403.5 169.5 403 170.3 402.4 171 401.6 171.6 400.8 172 399.8Z" fill="#ededed"/><path d="M171 398.8 170.9 397.9 170.5 397 169.9 396.3 169.2 395.6 168.5 395.1 167.7 394.6 167 394.3 166.2 394 165.5 393.8 164.9 393.6 164.3 393.4 163.7 393.3 163.1 393.2 162.6 393.2 162 393.1 161.5 393.1 161 393.1 160.5 393.1 160 393.1 159.5 393.1 159 393.1 158.4 393.2 157.9 393.2 157.3 393.3 156.7 393.4 156.1 393.6 155.5 393.8 154.8 394 154 394.3 153.3 394.6 152.5 395.1 151.8 395.6 151.1 396.3 150.5 397 150.1 397.9 150 398.8 150.1 399.7 150.5 400.6 151.1 401.3 151.8 402 152.5 402.5 153.3 403 154 403.3 154.8 403.6 155.5 403.8 156.1 404 156.7 404.2 157.3 404.3 157.9 404.4 158.4 404.4 159 404.5 159.5 404.5 160 404.5 160.5 404.6 161 404.5 161.5 404.5 162 404.5 162.6 404.4 163.1 404.4 163.7 404.3 164.3 404.2 164.9 404 165.5 403.8 166.2 403.6 167 403.3 167.7 403 168.5 402.5 169.2 402 169.9 401.3 170.5 400.6 170.9 399.7Z" fill="#efefef"/><path d="M169.1 398.8 169 398.1 168.7 397.4 168.2 396.7 167.6 396.2 167 395.8 166.3 395.4 165.7 395.1 165.1 394.9 164.6 394.7 164 394.6 163.5 394.5 163 394.4 162.6 394.3 162.1 394.3 161.7 394.2 161.3 394.2 160.9 394.2 160.5 394.2 160.1 394.2 159.7 394.2 159.3 394.2 158.9 394.3 158.4 394.3 158 394.4 157.5 394.5 157 394.6 156.4 394.7 155.9 394.9 155.3 395.1 154.7 395.4 154 395.8 153.4 396.2 152.8 396.7 152.3 397.4 152 398.1 151.9 398.8 152 399.5 152.3 400.2 152.8 400.9 153.4 401.4 154 401.8 154.7 402.2 155.3 402.5 155.9 402.7 156.4 402.9 157 403 157.5 403.1 158 403.2 158.4 403.3 158.9 403.3 159.3 403.4 159.7 403.4 160.1 403.4 160.5 403.4 160.9 403.4 161.3 403.4 161.7 403.4 162.1 403.3 162.6 403.3 163 403.2 163.5 403.1 164 403 164.6 402.9 165.1 402.7 165.7 402.5 166.3 402.2 167 401.8 167.6 401.4 168.2 400.9 168.7 400.2 169 399.5Z" fill="#f3f3f3"/><path d="M166.9 398.8 166.8 398.3 166.6 397.7 166.2 397.3 165.8 396.9 165.3 396.6 164.9 396.3 164.4 396.1 164 395.9 163.5 395.8 163.1 395.7 162.8 395.6 162.4 395.5 162.1 395.5 161.7 395.4 161.4 395.4 161.1 395.4 160.8 395.4 160.5 395.4 160.2 395.4 159.9 395.4 159.6 395.4 159.3 395.4 158.9 395.5 158.6 395.5 158.2 395.6 157.9 395.7 157.5 395.8 157 395.9 156.6 396.1 156.1 396.3 155.7 396.6 155.2 396.9 154.8 397.3 154.4 397.7 154.2 398.3 154.1 398.8 154.2 399.3 154.4 399.9 154.8 400.3 155.2 400.7 155.7 401 156.1 401.3 156.6 401.5 157 401.7 157.5 401.8 157.9 401.9 158.2 402 158.6 402.1 158.9 402.1 159.3 402.2 159.6 402.2 159.9 402.2 160.2 402.2 160.5 402.2 160.8 402.2 161.1 402.2 161.4 402.2 161.7 402.2 162.1 402.1 162.4 402.1 162.8 402 163.1 401.9 163.5 401.8 164 401.7 164.4 401.5 164.9 401.3 165.3 401 165.8 400.7 166.2 400.3 166.6 399.9 166.8 399.3Z" fill="#f7f7f7"/><path d="M165.8 398.8 165.7 398.3 165.5 397.9 165.3 397.5 164.9 397.2 164.5 396.9 164.1 396.7 163.8 396.5 163.4 396.4 163 396.3 162.7 396.2 162.4 396.1 162.1 396 161.8 396 161.5 396 161.3 395.9 161 395.9 160.8 395.9 160.5 395.9 160.2 395.9 160 395.9 159.7 395.9 159.5 396 159.2 396 158.9 396 158.6 396.1 158.3 396.2 158 396.3 157.6 396.4 157.2 396.5 156.9 396.7 156.5 396.9 156.1 397.2 155.7 397.5 155.5 397.9 155.3 398.3 155.2 398.8 155.3 399.3 155.5 399.7 155.7 400.1 156.1 400.4 156.5 400.7 156.9 400.9 157.2 401.1 157.6 401.2 158 401.3 158.3 401.4 158.6 401.5 158.9 401.6 159.2 401.6 159.5 401.6 159.7 401.7 160 401.7 160.2 401.7 160.5 401.7 160.8 401.7 161 401.7 161.3 401.7 161.5 401.6 161.8 401.6 162.1 401.6 162.4 401.5 162.7 401.4 163 401.3 163.4 401.2 163.8 401.1 164.1 400.9 164.5 400.7 164.9 400.4 165.3 400.1 165.5 399.7 165.7 399.3Z" fill="#f9f9f9"/><path d="M162.5 398.8 162.5 398.6 162.4 398.5 162.3 398.3 162.2 398.2 162.1 398.1 161.9 398 161.8 397.9 161.7 397.8 161.5 397.8 161.4 397.7 161.3 397.7 161.2 397.7 161 397.6 160.9 397.6 160.8 397.6 160.7 397.6 160.6 397.6 160.5 397.6 160.4 397.6 160.3 397.6 160.2 397.6 160.1 397.6 160 397.6 159.8 397.7 159.7 397.7 159.6 397.7 159.5 397.8 159.3 397.8 159.2 397.9 159.1 398 158.9 398.1 158.8 398.2 158.7 398.3 158.6 398.5 158.5 398.6 158.5 398.8 158.5 399 158.6 399.1 158.7 399.3 158.8 399.4 158.9 399.5 159.1 399.6 159.2 399.7 159.3 399.8 159.5 399.8 159.6 399.9 159.7 399.9 159.8 399.9 160 400 160.1 400 160.2 400 160.3 400 160.4 400 160.5 400 160.6 400 160.7 400 160.8 400 160.9 400 161 400 161.2 399.9 161.3 399.9 161.4 399.9 161.5 399.8 161.7 399.8 161.8 399.7 161.9 399.6 162.1 399.5 162.2 399.4 162.3 399.3 162.4 399.1 162.5 399Z" fill="#ffffff"/></g></g><rect x="46" y="366.6" width="230.5" height="0.9" fill="#fff" fill-opacity="0.07"/><circle cx="160.3" cy="399.4" r="91.6" fill="none" stroke="#e4e4f4" stroke-width="1.45" stroke-dasharray="6 3.9"/><text x="53.6" y="301.7" font-size="13.9" fill="#f0f0ff">On cavity</text><text x="152.2" y="335.3" font-size="13.9" fill="#f0f0ff">WS<tspan font-size="10.5" dy="3.3">2</tspan></text><text x="153.2" y="474.2" font-size="13.9" fill="#f0f0ff">Hole</text><text x="218.2" y="505.1" font-size="13.8" fill="#f0f0ff">800 nm</text><text x="248.4" y="300.4" font-size="13.8" fill="#f0f0ff">|E|<tspan font-size="10" dy="-5.2">2</tspan></text><rect x="293" y="308.1" width="12.4" height="184.4" fill="url(#jetbar)"/><text x="299.1" y="302.7" font-size="13.2" text-anchor="middle" fill="#1a1a1a">2.8</text><text x="299.5" y="506.7" font-size="13" text-anchor="middle" fill="#1a1a1a">0</text><text x="40.8" y="295.75" font-size="12.8" text-anchor="end" fill="#1a1a1a">3</text><text x="40.8" y="331.9" font-size="12.8" text-anchor="end" fill="#1a1a1a">2</text><text x="40.8" y="368" font-size="12.8" text-anchor="end" fill="#1a1a1a">1</text><text x="40.8" y="404.1" font-size="12.8" text-anchor="end" fill="#1a1a1a">0</text><text x="40.8" y="440" font-size="12.8" text-anchor="end" fill="#1a1a1a">-1</text><text x="40.8" y="476.8" font-size="12.8" text-anchor="end" fill="#1a1a1a">-2</text><text x="40.8" y="512" font-size="12.8" text-anchor="end" fill="#1a1a1a">-3</text><text x="49.8" y="529.1" font-size="12.8" text-anchor="middle" fill="#1a1a1a">-3</text><text x="90.9" y="529.1" font-size="12.8" text-anchor="middle" fill="#1a1a1a">-2</text><text x="130.8" y="529.1" font-size="12.8" text-anchor="middle" fill="#1a1a1a">-1</text><text x="170" y="529.1" font-size="12.8" text-anchor="middle" fill="#1a1a1a">0</text><text x="204.8" y="529.1" font-size="12.8" text-anchor="middle" fill="#1a1a1a">1</text><text x="240.4" y="529.1" font-size="12.8" text-anchor="middle" fill="#1a1a1a">2</text><text x="276" y="529.1" font-size="12.8" text-anchor="middle" fill="#1a1a1a">3</text><text transform="translate(19.8 402.8) rotate(-90)" font-size="13.6" text-anchor="middle" fill="#1a1a1a">Y (µm)</text><text x="169.5" y="542.4" font-size="13.6" text-anchor="middle" fill="#1a1a1a">X (µm)</text><text x="42.8" y="276.4" font-size="16" font-weight="bold" fill="#111">c</text><g clip-path="url(#clipd)"><g filter="url(#jetf)"><rect x="360" y="270" width="262" height="260" fill="#000000"/><path d="M631.8 398.8 631.7 393.5 631.2 388.2 630.5 382.9 629.7 377.6 628.8 372.3 627.9 367 627.1 361.6 626.5 356.1 626 350.4 625.4 344.5 624.6 338.6 623.5 332.5 622 326.5 620 320.6 617.5 314.8 614.3 309.3 610.5 304.1 605.9 299.5 600.6 295.5 594.8 292.1 588.5 289.3 581.9 287.1 575.2 285.3 568.3 284 561.5 283.1 554.7 282.4 548.1 281.8 541.6 281.3 535.3 280.8 529.1 280.1 523.1 279.4 517.1 278.6 511.1 277.9 505.1 277.2 499.1 276.8 493 276.7 486.9 276.8 480.9 277.2 474.9 277.9 468.9 278.6 462.9 279.4 456.9 280.1 450.7 280.8 444.4 281.3 437.9 281.8 431.3 282.4 424.5 283.1 417.7 284 410.8 285.3 404.1 287.1 397.5 289.3 391.2 292.1 385.4 295.5 380.1 299.5 375.5 304.1 371.7 309.3 368.5 314.8 366 320.6 364 326.5 362.5 332.5 361.4 338.6 360.6 344.5 360 350.4 359.5 356.1 358.9 361.6 358.1 367 357.2 372.3 356.3 377.6 355.5 382.9 354.8 388.2 354.3 393.5 354.2 398.8 354.3 404.1 354.8 409.4 355.5 414.7 356.3 420 357.2 425.3 358.1 430.6 358.9 436 359.5 441.5 360 447.2 360.6 453.1 361.4 459 362.5 465.1 364 471.1 366 477 368.5 482.8 371.7 488.3 375.5 493.5 380.1 498.1 385.4 502.1 391.2 505.5 397.5 508.3 404.1 510.5 410.8 512.3 417.7 513.6 424.5 514.5 431.3 515.2 437.9 515.8 444.4 516.3 450.7 516.8 456.9 517.5 462.9 518.2 468.9 519 474.9 519.7 480.9 520.4 486.9 520.8 493 520.9 499.1 520.8 505.1 520.4 511.1 519.7 517.1 519 523.1 518.2 529.1 517.5 535.3 516.8 541.6 516.3 548.1 515.8 554.7 515.2 561.5 514.5 568.3 513.6 575.2 512.3 581.9 510.5 588.5 508.3 594.8 505.5 600.6 502.1 605.9 498.1 610.5 493.5 614.3 488.3 617.5 482.8 620 477 622 471.1 623.5 465.1 624.6 459 625.4 453.1 626 447.2 626.5 441.5 627.1 436 627.9 430.6 628.8 425.3 629.7 420 630.5 414.7 631.2 409.4 631.7 404.1Z" fill="#010101"/><path d="M629.2 398.8 629 393.6 628.6 388.4 627.9 383.2 627 378 626.2 372.8 625.3 367.6 624.5 362.3 623.8 356.9 623.2 351.4 622.5 345.7 621.7 339.9 620.5 334 619 328.2 617 322.4 614.5 316.8 611.3 311.4 607.6 306.5 603.1 301.9 598 298 592.3 294.7 586.2 291.9 579.8 289.7 573.3 288 566.6 286.6 560 285.6 553.4 284.9 546.9 284.3 540.6 283.7 534.5 283.1 528.4 282.4 522.5 281.7 516.6 280.9 510.8 280.2 504.9 279.6 498.9 279.1 493 279 487.1 279.1 481.1 279.6 475.2 280.2 469.4 280.9 463.5 281.7 457.6 282.4 451.5 283.1 445.4 283.7 439.1 284.3 432.6 284.9 426 285.6 419.4 286.6 412.7 288 406.2 289.7 399.8 291.9 393.7 294.7 388 298 382.9 301.9 378.4 306.5 374.7 311.4 371.5 316.8 369 322.4 367 328.2 365.5 334 364.3 339.9 363.5 345.7 362.8 351.4 362.2 356.9 361.5 362.3 360.7 367.6 359.8 372.8 359 378 358.1 383.2 357.4 388.4 357 393.6 356.8 398.8 357 404 357.4 409.2 358.1 414.4 359 419.6 359.8 424.8 360.7 430 361.5 435.3 362.2 440.7 362.8 446.2 363.5 451.9 364.3 457.7 365.5 463.6 367 469.4 369 475.2 371.5 480.8 374.7 486.2 378.4 491.1 382.9 495.7 388 499.6 393.7 502.9 399.8 505.7 406.2 507.9 412.7 509.6 419.4 511 426 512 432.6 512.7 439.1 513.3 445.4 513.9 451.5 514.5 457.6 515.2 463.5 515.9 469.4 516.7 475.2 517.4 481.1 518 487.1 518.5 493 518.6 498.9 518.5 504.9 518 510.8 517.4 516.6 516.7 522.5 515.9 528.4 515.2 534.5 514.5 540.6 513.9 546.9 513.3 553.4 512.7 560 512 566.6 511 573.3 509.6 579.8 507.9 586.2 505.7 592.3 502.9 598 499.6 603.1 495.7 607.6 491.1 611.3 486.2 614.5 480.8 617 475.2 619 469.4 620.5 463.6 621.7 457.7 622.5 451.9 623.2 446.2 623.8 440.7 624.5 435.3 625.3 430 626.2 424.8 627 419.6 627.9 414.4 628.6 409.2 629 404Z" fill="#020202"/><path d="M626.6 398.8 626.4 393.7 625.9 388.6 625.3 383.5 624.4 378.4 623.6 373.3 622.7 368.2 621.8 363.1 621.1 357.8 620.4 352.4 619.7 346.8 618.8 341.2 617.6 335.5 616 329.9 614 324.3 611.5 318.8 608.4 313.6 604.7 308.8 600.3 304.4 595.3 300.6 589.8 297.3 583.9 294.6 577.7 292.4 571.4 290.6 564.9 289.2 558.5 288.2 552.1 287.4 545.8 286.7 539.6 286.1 533.6 285.5 527.7 284.7 521.9 284 516.2 283.2 510.4 282.5 504.6 281.9 498.8 281.5 493 281.3 487.2 281.5 481.4 281.9 475.6 282.5 469.8 283.2 464.1 284 458.3 284.7 452.4 285.5 446.4 286.1 440.2 286.7 433.9 287.4 427.5 288.2 421.1 289.2 414.6 290.6 408.3 292.4 402.1 294.6 396.2 297.3 390.7 300.6 385.7 304.4 381.3 308.8 377.6 313.6 374.5 318.8 372 324.3 370 329.9 368.4 335.5 367.2 341.2 366.3 346.8 365.6 352.4 364.9 357.8 364.2 363.1 363.3 368.2 362.4 373.3 361.6 378.4 360.7 383.5 360.1 388.6 359.6 393.7 359.4 398.8 359.6 403.9 360.1 409 360.7 414.1 361.6 419.2 362.4 424.3 363.3 429.4 364.2 434.5 364.9 439.8 365.6 445.2 366.3 450.8 367.2 456.4 368.4 462.1 370 467.7 372 473.3 374.5 478.8 377.6 484 381.3 488.8 385.7 493.2 390.7 497 396.2 500.3 402.1 503 408.3 505.2 414.6 507 421.1 508.4 427.5 509.4 433.9 510.2 440.2 510.9 446.4 511.5 452.4 512.1 458.3 512.9 464.1 513.6 469.8 514.4 475.6 515.1 481.4 515.7 487.2 516.1 493 516.3 498.8 516.1 504.6 515.7 510.4 515.1 516.2 514.4 521.9 513.6 527.7 512.9 533.6 512.1 539.6 511.5 545.8 510.9 552.1 510.2 558.5 509.4 564.9 508.4 571.4 507 577.7 505.2 583.9 503 589.8 500.3 595.3 497 600.3 493.2 604.7 488.8 608.4 484 611.5 478.8 614 473.3 616 467.7 617.6 462.1 618.8 456.4 619.7 450.8 620.4 445.2 621.1 439.8 621.8 434.5 622.7 429.4 623.6 424.3 624.4 419.2 625.3 414.1 625.9 409 626.4 403.9Z" fill="#040404"/><path d="M624 398.8 623.8 393.8 623.4 388.8 622.7 383.8 621.9 378.8 621 373.8 620.1 368.8 619.2 363.8 618.5 358.6 617.7 353.4 616.9 348 615.9 342.5 614.7 337 613.1 331.5 611 326.1 608.5 320.8 605.5 315.8 601.8 311.1 597.6 306.8 592.7 303.1 587.4 299.9 581.6 297.2 575.7 295 569.5 293.2 563.2 291.8 557 290.7 550.8 289.8 544.7 289.1 538.7 288.4 532.8 287.8 527.1 287 521.4 286.2 515.7 285.4 510.1 284.7 504.4 284.1 498.7 283.7 493 283.6 487.3 283.7 481.6 284.1 475.9 284.7 470.3 285.4 464.6 286.2 458.9 287 453.2 287.8 447.3 288.4 441.3 289.1 435.2 289.8 429 290.7 422.8 291.8 416.5 293.2 410.3 295 404.4 297.2 398.6 299.9 393.3 303.1 388.4 306.8 384.2 311.1 380.5 315.8 377.5 320.8 375 326.1 372.9 331.5 371.3 337 370.1 342.5 369.1 348 368.3 353.4 367.5 358.6 366.8 363.8 365.9 368.8 365 373.8 364.1 378.8 363.3 383.8 362.6 388.8 362.2 393.8 362 398.8 362.2 403.8 362.6 408.8 363.3 413.8 364.1 418.8 365 423.8 365.9 428.8 366.8 433.8 367.5 439 368.3 444.2 369.1 449.6 370.1 455.1 371.3 460.6 372.9 466.1 375 471.5 377.5 476.8 380.5 481.8 384.2 486.5 388.4 490.8 393.3 494.5 398.6 497.7 404.4 500.4 410.3 502.6 416.5 504.4 422.8 505.8 429 506.9 435.2 507.8 441.3 508.5 447.3 509.2 453.2 509.8 458.9 510.6 464.6 511.4 470.3 512.2 475.9 512.9 481.6 513.5 487.3 513.9 493 514 498.7 513.9 504.4 513.5 510.1 512.9 515.7 512.2 521.4 511.4 527.1 510.6 532.8 509.8 538.7 509.2 544.7 508.5 550.8 507.8 557 506.9 563.2 505.8 569.5 504.4 575.7 502.6 581.6 500.4 587.4 497.7 592.7 494.5 597.6 490.8 601.8 486.5 605.5 481.8 608.5 476.8 611 471.5 613.1 466.1 614.7 460.6 615.9 455.1 616.9 449.6 617.7 444.2 618.5 439 619.2 433.8 620.1 428.8 621 423.8 621.9 418.8 622.7 413.8 623.4 408.8 623.8 403.8Z" fill="#060606"/><path d="M621.3 398.8 621.2 393.9 620.7 389 620.1 384.1 619.3 379.2 618.4 374.4 617.5 369.5 616.6 364.5 615.8 359.5 615 354.4 614.1 349.1 613 343.8 611.7 338.5 610.1 333.2 608 327.9 605.5 322.9 602.5 318 598.9 313.4 594.8 309.3 590.1 305.6 584.9 302.5 579.3 299.8 573.5 297.6 567.6 295.8 561.5 294.4 555.5 293.2 549.5 292.3 543.5 291.5 537.7 290.8 532 290.1 526.3 289.3 520.8 288.5 515.3 287.7 509.7 287 504.2 286.4 498.6 286 493 285.9 487.4 286 481.8 286.4 476.3 287 470.7 287.7 465.2 288.5 459.7 289.3 454 290.1 448.3 290.8 442.5 291.5 436.5 292.3 430.5 293.2 424.5 294.4 418.4 295.8 412.5 297.6 406.7 299.8 401.1 302.5 395.9 305.6 391.2 309.3 387.1 313.4 383.5 318 380.5 322.9 378 327.9 375.9 333.2 374.3 338.5 373 343.8 371.9 349.1 371 354.4 370.2 359.5 369.4 364.5 368.5 369.5 367.6 374.4 366.7 379.2 365.9 384.1 365.3 389 364.8 393.9 364.7 398.8 364.8 403.7 365.3 408.6 365.9 413.5 366.7 418.4 367.6 423.2 368.5 428.1 369.4 433.1 370.2 438.1 371 443.2 371.9 448.5 373 453.8 374.3 459.1 375.9 464.4 378 469.7 380.5 474.7 383.5 479.6 387.1 484.2 391.2 488.3 395.9 492 401.1 495.1 406.7 497.8 412.5 500 418.4 501.8 424.5 503.2 430.5 504.4 436.5 505.3 442.5 506.1 448.3 506.8 454 507.5 459.7 508.3 465.2 509.1 470.7 509.9 476.3 510.6 481.8 511.2 487.4 511.6 493 511.7 498.6 511.6 504.2 511.2 509.7 510.6 515.3 509.9 520.8 509.1 526.3 508.3 532 507.5 537.7 506.8 543.5 506.1 549.5 505.3 555.5 504.4 561.5 503.2 567.6 501.8 573.5 500 579.3 497.8 584.9 495.1 590.1 492 594.8 488.3 598.9 484.2 602.5 479.6 605.5 474.7 608 469.7 610.1 464.4 611.7 459.1 613 453.8 614.1 448.5 615 443.2 615.8 438.1 616.6 433.1 617.5 428.1 618.4 423.2 619.3 418.4 620.1 413.5 620.7 408.6 621.2 403.7Z" fill="#070707"/><path d="M618.8 398.8 618.6 394 618.2 389.2 617.5 384.4 616.7 379.6 615.8 374.9 614.9 370.1 614 365.3 613.1 360.3 612.2 355.4 611.3 350.3 610.2 345.1 608.8 340 607.1 334.8 605.1 329.8 602.6 324.8 599.6 320.1 596.1 315.7 592 311.7 587.4 308.1 582.4 305.1 577.1 302.4 571.5 300.2 565.7 298.4 559.9 296.9 554 295.7 548.2 294.7 542.4 293.9 536.7 293.2 531.1 292.4 525.7 291.6 520.2 290.8 514.8 290 509.4 289.3 503.9 288.7 498.5 288.3 493 288.2 487.5 288.3 482.1 288.7 476.6 289.3 471.2 290 465.8 290.8 460.3 291.6 454.9 292.4 449.3 293.2 443.6 293.9 437.8 294.7 432 295.7 426.1 296.9 420.3 298.4 414.5 300.2 408.9 302.4 403.6 305.1 398.6 308.1 394 311.7 389.9 315.7 386.4 320.1 383.4 324.8 380.9 329.8 378.9 334.8 377.2 340 375.8 345.1 374.7 350.3 373.8 355.4 372.9 360.3 372 365.3 371.1 370.1 370.2 374.9 369.3 379.6 368.5 384.4 367.8 389.2 367.4 394 367.2 398.8 367.4 403.6 367.8 408.4 368.5 413.2 369.3 418 370.2 422.7 371.1 427.5 372 432.3 372.9 437.3 373.8 442.2 374.7 447.3 375.8 452.5 377.2 457.6 378.9 462.8 380.9 467.8 383.4 472.8 386.4 477.5 389.9 481.9 394 485.9 398.6 489.5 403.6 492.5 408.9 495.2 414.5 497.4 420.3 499.2 426.1 500.7 432 501.9 437.8 502.9 443.6 503.7 449.3 504.4 454.9 505.2 460.3 506 465.8 506.8 471.2 507.6 476.6 508.3 482.1 508.9 487.5 509.3 493 509.4 498.5 509.3 503.9 508.9 509.4 508.3 514.8 507.6 520.2 506.8 525.7 506 531.1 505.2 536.7 504.4 542.4 503.7 548.2 502.9 554 501.9 559.9 500.7 565.7 499.2 571.5 497.4 577.1 495.2 582.4 492.5 587.4 489.5 592 485.9 596.1 481.9 599.6 477.5 602.6 472.8 605.1 467.8 607.1 462.8 608.8 457.6 610.2 452.5 611.3 447.3 612.2 442.2 613.1 437.3 614 432.3 614.9 427.5 615.8 422.7 616.7 418 617.5 413.2 618.2 408.4 618.6 403.6Z" fill="#090909"/><path d="M616.1 398.8 616 394.1 615.5 389.4 614.9 384.7 614.1 380 613.2 375.4 612.3 370.7 611.3 366 610.4 361.2 609.5 356.4 608.5 351.4 607.3 346.5 605.9 341.5 604.1 336.5 602.1 331.6 599.6 326.9 596.6 322.3 593.2 318.1 589.2 314.2 584.8 310.7 579.9 307.7 574.8 305.1 569.4 302.9 563.8 301 558.2 299.5 552.5 298.3 546.8 297.2 541.2 296.3 535.7 295.5 530.3 294.7 525 293.9 519.6 293.1 514.4 292.3 509 291.6 503.7 291 498.4 290.6 493 290.5 487.6 290.6 482.3 291 477 291.6 471.6 292.3 466.4 293.1 461 293.9 455.7 294.7 450.3 295.5 444.8 296.3 439.2 297.2 433.5 298.3 427.8 299.5 422.2 301 416.6 302.9 411.2 305.1 406.1 307.7 401.2 310.7 396.8 314.2 392.8 318.1 389.4 322.3 386.4 326.9 383.9 331.6 381.9 336.5 380.1 341.5 378.7 346.5 377.5 351.4 376.5 356.4 375.6 361.2 374.7 366 373.7 370.7 372.8 375.4 371.9 380 371.1 384.7 370.5 389.4 370 394.1 369.9 398.8 370 403.5 370.5 408.2 371.1 412.9 371.9 417.6 372.8 422.2 373.7 426.9 374.7 431.6 375.6 436.4 376.5 441.2 377.5 446.2 378.7 451.1 380.1 456.1 381.9 461.1 383.9 466 386.4 470.7 389.4 475.3 392.8 479.5 396.8 483.4 401.2 486.9 406.1 489.9 411.2 492.5 416.6 494.7 422.2 496.6 427.8 498.1 433.5 499.3 439.2 500.4 444.8 501.3 450.3 502.1 455.7 502.9 461 503.7 466.4 504.5 471.6 505.3 477 506 482.3 506.6 487.6 507 493 507.1 498.4 507 503.7 506.6 509 506 514.4 505.3 519.6 504.5 525 503.7 530.3 502.9 535.7 502.1 541.2 501.3 546.8 500.4 552.5 499.3 558.2 498.1 563.8 496.6 569.4 494.7 574.8 492.5 579.9 489.9 584.8 486.9 589.2 483.4 593.2 479.5 596.6 475.3 599.6 470.7 602.1 466 604.1 461.1 605.9 456.1 607.3 451.1 608.5 446.2 609.5 441.2 610.4 436.4 611.3 431.6 612.3 426.9 613.2 422.2 614.1 417.6 614.9 412.9 615.5 408.2 616 403.5Z" fill="#0a0a0a"/><path d="M613.2 398.8 613.1 394.2 612.7 389.6 612.1 385 611.3 380.4 610.4 375.9 609.5 371.3 608.6 366.7 607.6 362 606.7 357.3 605.6 352.5 604.4 347.7 602.9 342.9 601.2 338.1 599.1 333.4 596.6 328.8 593.7 324.4 590.3 320.3 586.5 316.5 582.2 313.1 577.5 310.1 572.5 307.6 567.3 305.4 561.9 303.5 556.5 302 551 300.7 545.5 299.6 540.1 298.7 534.7 297.8 529.4 297 524.2 296.2 519 295.3 513.9 294.6 508.7 293.9 503.5 293.4 498.2 293 493 292.9 487.8 293 482.5 293.4 477.3 293.9 472.1 294.6 467 295.3 461.8 296.2 456.6 297 451.3 297.8 445.9 298.7 440.5 299.6 435 300.7 429.5 302 424.1 303.5 418.7 305.4 413.5 307.6 408.5 310.1 403.8 313.1 399.5 316.5 395.7 320.3 392.3 324.4 389.4 328.8 386.9 333.4 384.8 338.1 383.1 342.9 381.6 347.7 380.4 352.5 379.3 357.3 378.4 362 377.4 366.7 376.5 371.3 375.6 375.9 374.7 380.4 373.9 385 373.3 389.6 372.9 394.2 372.8 398.8 372.9 403.4 373.3 408 373.9 412.6 374.7 417.2 375.6 421.7 376.5 426.3 377.4 430.9 378.4 435.6 379.3 440.3 380.4 445.1 381.6 449.9 383.1 454.7 384.8 459.5 386.9 464.2 389.4 468.8 392.3 473.2 395.7 477.3 399.5 481.1 403.8 484.5 408.5 487.5 413.5 490 418.7 492.2 424.1 494.1 429.5 495.6 435 496.9 440.5 498 445.9 498.9 451.3 499.8 456.6 500.6 461.8 501.4 467 502.3 472.1 503 477.3 503.7 482.5 504.2 487.8 504.6 493 504.7 498.2 504.6 503.5 504.2 508.7 503.7 513.9 503 519 502.3 524.2 501.4 529.4 500.6 534.7 499.8 540.1 498.9 545.5 498 551 496.9 556.5 495.6 561.9 494.1 567.3 492.2 572.5 490 577.5 487.5 582.2 484.5 586.5 481.1 590.3 477.3 593.7 473.2 596.6 468.8 599.1 464.2 601.2 459.5 602.9 454.7 604.4 449.9 605.6 445.1 606.7 440.3 607.6 435.6 608.6 430.9 609.5 426.3 610.4 421.7 611.3 417.2 612.1 412.6 612.7 408 613.1 403.4Z" fill="#0e0e0e"/><path d="M611.3 398.8 611.1 394.3 610.7 389.7 610.1 385.2 609.4 380.7 608.5 376.2 607.6 371.7 606.7 367.2 605.7 362.6 604.7 358 603.7 353.3 602.4 348.6 600.9 343.9 599.1 339.2 597 334.6 594.5 330.1 591.6 325.8 588.3 321.8 584.6 318.1 580.3 314.7 575.8 311.8 570.9 309.3 565.8 307.1 560.6 305.2 555.3 303.7 549.9 302.3 544.6 301.2 539.3 300.3 534 299.4 528.8 298.6 523.7 297.7 518.6 296.9 513.5 296.2 508.4 295.5 503.3 295 498.2 294.6 493 294.5 487.8 294.6 482.7 295 477.6 295.5 472.5 296.2 467.4 296.9 462.3 297.7 457.2 298.6 452 299.4 446.7 300.3 441.4 301.2 436.1 302.3 430.7 303.7 425.4 305.2 420.2 307.1 415.1 309.3 410.2 311.8 405.7 314.7 401.4 318.1 397.7 321.8 394.4 325.8 391.5 330.1 389 334.6 386.9 339.2 385.1 343.9 383.6 348.6 382.3 353.3 381.3 358 380.3 362.6 379.3 367.2 378.4 371.7 377.5 376.2 376.6 380.7 375.9 385.2 375.3 389.7 374.9 394.3 374.7 398.8 374.9 403.3 375.3 407.9 375.9 412.4 376.6 416.9 377.5 421.4 378.4 425.9 379.3 430.4 380.3 435 381.3 439.6 382.3 444.3 383.6 449 385.1 453.7 386.9 458.4 389 463 391.5 467.5 394.4 471.8 397.7 475.8 401.4 479.5 405.7 482.9 410.2 485.8 415.1 488.3 420.2 490.5 425.4 492.4 430.7 493.9 436.1 495.3 441.4 496.4 446.7 497.3 452 498.2 457.2 499 462.3 499.9 467.4 500.7 472.5 501.4 477.6 502.1 482.7 502.6 487.8 503 493 503.1 498.2 503 503.3 502.6 508.4 502.1 513.5 501.4 518.6 500.7 523.7 499.9 528.8 499 534 498.2 539.3 497.3 544.6 496.4 549.9 495.3 555.3 493.9 560.6 492.4 565.8 490.5 570.9 488.3 575.8 485.8 580.3 482.9 584.6 479.5 588.3 475.8 591.6 471.8 594.5 467.5 597 463 599.1 458.4 600.9 453.7 602.4 449 603.7 444.3 604.7 439.6 605.7 435 606.7 430.4 607.6 425.9 608.5 421.4 609.4 416.9 610.1 412.4 610.7 407.9 611.1 403.3Z" fill="#101010"/><path d="M610.4 398.8 610.2 394.3 609.9 389.8 609.3 385.3 608.5 380.8 607.7 376.4 606.8 371.9 605.8 367.4 604.9 362.9 603.9 358.3 602.8 353.6 601.5 349 600 344.3 598.2 339.7 596.1 335.1 593.6 330.7 590.7 326.4 587.4 322.5 583.7 318.8 579.5 315.5 575 312.6 570.2 310 565.2 307.8 560 306 554.8 304.4 549.5 303.1 544.2 302 538.9 301 533.7 300.1 528.6 299.3 523.5 298.4 518.4 297.6 513.4 296.9 508.3 296.2 503.2 295.7 498.1 295.4 493 295.3 487.9 295.4 482.8 295.7 477.7 296.2 472.6 296.9 467.6 297.6 462.5 298.4 457.4 299.3 452.3 300.1 447.1 301 441.8 302 436.5 303.1 431.2 304.4 426 306 420.8 307.8 415.8 310 411 312.6 406.5 315.5 402.3 318.8 398.6 322.5 395.3 326.4 392.4 330.7 389.9 335.1 387.8 339.7 386 344.3 384.5 349 383.2 353.6 382.1 358.3 381.1 362.9 380.2 367.4 379.2 371.9 378.3 376.4 377.5 380.8 376.7 385.3 376.1 389.8 375.8 394.3 375.6 398.8 375.8 403.3 376.1 407.8 376.7 412.3 377.5 416.8 378.3 421.2 379.2 425.7 380.2 430.2 381.1 434.7 382.1 439.3 383.2 444 384.5 448.6 386 453.3 387.8 457.9 389.9 462.5 392.4 466.9 395.3 471.2 398.6 475.1 402.3 478.8 406.5 482.1 411 485 415.8 487.6 420.8 489.8 426 491.6 431.2 493.2 436.5 494.5 441.8 495.6 447.1 496.6 452.3 497.5 457.4 498.3 462.5 499.2 467.6 500 472.6 500.7 477.7 501.4 482.8 501.9 487.9 502.2 493 502.3 498.1 502.2 503.2 501.9 508.3 501.4 513.4 500.7 518.4 500 523.5 499.2 528.6 498.3 533.7 497.5 538.9 496.6 544.2 495.6 549.5 494.5 554.8 493.2 560 491.6 565.2 489.8 570.2 487.6 575 485 579.5 482.1 583.7 478.8 587.4 475.1 590.7 471.2 593.6 466.9 596.1 462.5 598.2 457.9 600 453.3 601.5 448.6 602.8 444 603.9 439.3 604.9 434.7 605.8 430.2 606.8 425.7 607.7 421.2 608.5 416.8 609.3 412.3 609.9 407.8 610.2 403.3Z" fill="#111111"/><path d="M607.5 398.8 607.4 394.4 607 390 606.5 385.6 605.8 381.2 605 376.9 604.1 372.5 603.1 368.1 602.2 363.7 601.1 359.2 600 354.7 598.6 350.2 597.1 345.7 595.3 341.2 593.2 336.8 590.7 332.6 587.8 328.5 584.6 324.6 581 321.1 576.9 317.9 572.6 315 568 312.5 563.1 310.3 558.2 308.4 553.1 306.8 548 305.5 542.9 304.3 537.8 303.3 532.7 302.4 527.7 301.5 522.8 300.7 517.8 299.9 512.9 299.1 507.9 298.5 503 298 498 297.7 493 297.6 488 297.7 483 298 478.1 298.5 473.1 299.1 468.2 299.9 463.2 300.7 458.3 301.5 453.3 302.4 448.2 303.3 443.1 304.3 438 305.5 432.9 306.8 427.8 308.4 422.9 310.3 418 312.5 413.4 315 409.1 317.9 405 321.1 401.4 324.6 398.2 328.5 395.3 332.6 392.8 336.8 390.7 341.2 388.9 345.7 387.4 350.2 386 354.7 384.9 359.2 383.8 363.7 382.9 368.1 381.9 372.5 381 376.9 380.2 381.2 379.5 385.6 379 390 378.6 394.4 378.5 398.8 378.6 403.2 379 407.6 379.5 412 380.2 416.4 381 420.7 381.9 425.1 382.9 429.5 383.8 433.9 384.9 438.4 386 442.9 387.4 447.4 388.9 451.9 390.7 456.4 392.8 460.8 395.3 465 398.2 469.1 401.4 473 405 476.5 409.1 479.7 413.4 482.6 418 485.1 422.9 487.3 427.8 489.2 432.9 490.8 438 492.1 443.1 493.3 448.2 494.3 453.3 495.2 458.3 496.1 463.2 496.9 468.2 497.7 473.1 498.5 478.1 499.1 483 499.6 488 499.9 493 500 498 499.9 503 499.6 507.9 499.1 512.9 498.5 517.8 497.7 522.8 496.9 527.7 496.1 532.7 495.2 537.8 494.3 542.9 493.3 548 492.1 553.1 490.8 558.2 489.2 563.1 487.3 568 485.1 572.6 482.6 576.9 479.7 581 476.5 584.6 473 587.8 469.1 590.7 465 593.2 460.8 595.3 456.4 597.1 451.9 598.6 447.4 600 442.9 601.1 438.4 602.2 433.9 603.1 429.5 604.1 425.1 605 420.7 605.8 416.4 606.5 412 607 407.6 607.4 403.2Z" fill="#141414"/><path d="M604.7 398.8 604.6 394.5 604.2 390.2 603.7 385.9 603 381.6 602.3 377.4 601.4 373.1 600.4 368.8 599.4 364.5 598.4 360.2 597.2 355.8 595.8 351.5 594.2 347.1 592.3 342.8 590.2 338.6 587.7 334.5 584.9 330.6 581.8 326.8 578.2 323.4 574.3 320.3 570.1 317.5 565.7 315 561.1 312.8 556.3 310.9 551.4 309.3 546.5 307.9 541.6 306.7 536.6 305.6 531.7 304.6 526.9 303.8 522 302.9 517.2 302.1 512.4 301.4 507.6 300.8 502.7 300.4 497.9 300.1 493 300 488.1 300.1 483.3 300.4 478.4 300.8 473.6 301.4 468.8 302.1 464 302.9 459.1 303.8 454.3 304.6 449.4 305.6 444.4 306.7 439.5 307.9 434.6 309.3 429.7 310.9 424.9 312.8 420.3 315 415.9 317.5 411.7 320.3 407.8 323.4 404.2 326.8 401.1 330.6 398.3 334.5 395.8 338.6 393.7 342.8 391.8 347.1 390.2 351.5 388.8 355.8 387.6 360.2 386.6 364.5 385.6 368.8 384.6 373.1 383.7 377.4 383 381.6 382.3 385.9 381.8 390.2 381.4 394.5 381.3 398.8 381.4 403.1 381.8 407.4 382.3 411.7 383 416 383.7 420.2 384.6 424.5 385.6 428.8 386.6 433.1 387.6 437.4 388.8 441.8 390.2 446.1 391.8 450.5 393.7 454.8 395.8 459 398.3 463.1 401.1 467 404.2 470.8 407.8 474.2 411.7 477.3 415.9 480.1 420.3 482.6 424.9 484.8 429.7 486.7 434.6 488.3 439.5 489.7 444.4 490.9 449.4 492 454.3 493 459.1 493.8 464 494.7 468.8 495.5 473.6 496.2 478.4 496.8 483.3 497.2 488.1 497.5 493 497.6 497.9 497.5 502.7 497.2 507.6 496.8 512.4 496.2 517.2 495.5 522 494.7 526.9 493.8 531.7 493 536.6 492 541.6 490.9 546.5 489.7 551.4 488.3 556.3 486.7 561.1 484.8 565.7 482.6 570.1 480.1 574.3 477.3 578.2 474.2 581.8 470.8 584.9 467 587.7 463.1 590.2 459 592.3 454.8 594.2 450.5 595.8 446.1 597.2 441.8 598.4 437.4 599.4 433.1 600.4 428.8 601.4 424.5 602.3 420.2 603 416 603.7 411.7 604.2 407.4 604.6 403.1Z" fill="#181818"/><path d="M601.8 398.8 601.7 394.6 601.4 390.4 600.9 386.2 600.3 382 599.5 377.9 598.7 373.7 597.7 369.5 596.7 365.4 595.6 361.1 594.3 356.9 592.9 352.7 591.3 348.5 589.4 344.4 587.2 340.3 584.8 336.4 582 332.6 578.9 329 575.5 325.7 571.7 322.7 567.7 319.9 563.4 317.5 559 315.3 554.4 313.4 549.7 311.7 545 310.3 540.3 309 535.5 307.9 530.7 306.9 526 306 521.3 305.2 516.6 304.4 511.9 303.7 507.2 303.2 502.5 302.7 497.7 302.5 493 302.4 488.3 302.5 483.5 302.7 478.8 303.2 474.1 303.7 469.4 304.4 464.7 305.2 460 306 455.3 306.9 450.5 307.9 445.7 309 441 310.3 436.3 311.7 431.6 313.4 427 315.3 422.6 317.5 418.3 319.9 414.3 322.7 410.5 325.7 407.1 329 404 332.6 401.2 336.4 398.8 340.3 396.6 344.4 394.7 348.5 393.1 352.7 391.7 356.9 390.4 361.1 389.3 365.4 388.3 369.5 387.3 373.7 386.5 377.9 385.7 382 385.1 386.2 384.6 390.4 384.3 394.6 384.2 398.8 384.3 403 384.6 407.2 385.1 411.4 385.7 415.6 386.5 419.7 387.3 423.9 388.3 428.1 389.3 432.2 390.4 436.5 391.7 440.7 393.1 444.9 394.7 449.1 396.6 453.2 398.8 457.3 401.2 461.2 404 465 407.1 468.6 410.5 471.9 414.3 474.9 418.3 477.7 422.6 480.1 427 482.3 431.6 484.2 436.3 485.9 441 487.3 445.7 488.6 450.5 489.7 455.3 490.7 460 491.6 464.7 492.4 469.4 493.2 474.1 493.9 478.8 494.4 483.5 494.9 488.3 495.1 493 495.2 497.7 495.1 502.5 494.9 507.2 494.4 511.9 493.9 516.6 493.2 521.3 492.4 526 491.6 530.7 490.7 535.5 489.7 540.3 488.6 545 487.3 549.7 485.9 554.4 484.2 559 482.3 563.4 480.1 567.7 477.7 571.7 474.9 575.5 471.9 578.9 468.6 582 465 584.8 461.2 587.2 457.3 589.4 453.2 591.3 449.1 592.9 444.9 594.3 440.7 595.6 436.5 596.7 432.2 597.7 428.1 598.7 423.9 599.5 419.7 600.3 415.6 600.9 411.4 601.4 407.2 601.7 403Z" fill="#1b1b1b"/><path d="M599 398.8 598.9 394.7 598.6 390.6 598.2 386.5 597.6 382.4 596.8 378.4 596 374.3 595 370.3 594 366.2 592.8 362.1 591.5 358 590.1 354 588.4 349.9 586.5 346 584.3 342.1 581.9 338.3 579.1 334.7 576.1 331.2 572.8 328 569.1 325.1 565.3 322.4 561.2 320 556.9 317.8 552.5 315.9 548.1 314.2 543.5 312.7 538.9 311.4 534.4 310.2 529.8 309.2 525.2 308.3 520.6 307.4 516 306.7 511.4 306 506.8 305.5 502.2 305.1 497.6 304.8 493 304.8 488.4 304.8 483.8 305.1 479.2 305.5 474.6 306 470 306.7 465.4 307.4 460.8 308.3 456.2 309.2 451.6 310.2 447.1 311.4 442.5 312.7 437.9 314.2 433.5 315.9 429.1 317.8 424.8 320 420.7 322.4 416.9 325.1 413.2 328 409.9 331.2 406.9 334.7 404.1 338.3 401.7 342.1 399.5 346 397.6 349.9 395.9 354 394.5 358 393.2 362.1 392 366.2 391 370.3 390 374.3 389.2 378.4 388.4 382.4 387.8 386.5 387.4 390.6 387.1 394.7 387 398.8 387.1 402.9 387.4 407 387.8 411.1 388.4 415.2 389.2 419.2 390 423.3 391 427.3 392 431.4 393.2 435.5 394.5 439.6 395.9 443.6 397.6 447.7 399.5 451.6 401.7 455.5 404.1 459.3 406.9 462.9 409.9 466.4 413.2 469.6 416.9 472.5 420.7 475.2 424.8 477.6 429.1 479.8 433.5 481.7 437.9 483.4 442.5 484.9 447.1 486.2 451.6 487.4 456.2 488.4 460.8 489.3 465.4 490.2 470 490.9 474.6 491.6 479.2 492.1 483.8 492.5 488.4 492.8 493 492.8 497.6 492.8 502.2 492.5 506.8 492.1 511.4 491.6 516 490.9 520.6 490.2 525.2 489.3 529.8 488.4 534.4 487.4 538.9 486.2 543.5 484.9 548.1 483.4 552.5 481.7 556.9 479.8 561.2 477.6 565.3 475.2 569.1 472.5 572.8 469.6 576.1 466.4 579.1 462.9 581.9 459.3 584.3 455.5 586.5 451.6 588.4 447.7 590.1 443.6 591.5 439.6 592.8 435.5 594 431.4 595 427.3 596 423.3 596.8 419.2 597.6 415.2 598.2 411.1 598.6 407 598.9 402.9Z" fill="#1f1f1f"/><path d="M597.9 398.8 597.8 394.7 597.5 390.7 597.1 386.6 596.5 382.6 595.7 378.6 594.9 374.6 593.9 370.5 592.9 366.5 591.7 362.5 590.4 358.5 588.9 354.5 587.2 350.5 585.3 346.6 583.1 342.8 580.7 339.1 578 335.5 575 332.1 571.7 328.9 568.1 326 564.3 323.4 560.3 320.9 556.1 318.8 551.8 316.9 547.4 315.1 542.9 313.6 538.4 312.3 533.9 311.1 529.4 310.1 524.8 309.2 520.3 308.3 515.8 307.6 511.2 306.9 506.7 306.4 502.1 306 497.6 305.8 493 305.7 488.4 305.8 483.9 306 479.3 306.4 474.8 306.9 470.2 307.6 465.7 308.3 461.2 309.2 456.6 310.1 452.1 311.1 447.6 312.3 443.1 313.6 438.6 315.1 434.2 316.9 429.9 318.8 425.7 320.9 421.7 323.4 417.9 326 414.3 328.9 411 332.1 408 335.5 405.3 339.1 402.9 342.8 400.7 346.6 398.8 350.5 397.1 354.5 395.6 358.5 394.3 362.5 393.1 366.5 392.1 370.5 391.1 374.6 390.3 378.6 389.5 382.6 388.9 386.6 388.5 390.7 388.2 394.7 388.1 398.8 388.2 402.9 388.5 406.9 388.9 411 389.5 415 390.3 419 391.1 423 392.1 427.1 393.1 431.1 394.3 435.1 395.6 439.1 397.1 443.1 398.8 447.1 400.7 451 402.9 454.8 405.3 458.5 408 462.1 411 465.5 414.3 468.7 417.9 471.6 421.7 474.2 425.7 476.7 429.9 478.8 434.2 480.7 438.6 482.5 443.1 484 447.6 485.3 452.1 486.5 456.6 487.5 461.2 488.4 465.7 489.3 470.2 490 474.8 490.7 479.3 491.2 483.9 491.6 488.4 491.8 493 491.9 497.6 491.8 502.1 491.6 506.7 491.2 511.2 490.7 515.8 490 520.3 489.3 524.8 488.4 529.4 487.5 533.9 486.5 538.4 485.3 542.9 484 547.4 482.5 551.8 480.7 556.1 478.8 560.3 476.7 564.3 474.2 568.1 471.6 571.7 468.7 575 465.5 578 462.1 580.7 458.5 583.1 454.8 585.3 451 587.2 447.1 588.9 443.1 590.4 439.1 591.7 435.1 592.9 431.1 593.9 427.1 594.9 423 595.7 419 596.5 415 597.1 411 597.5 406.9 597.8 402.9Z" fill="#202020"/><path d="M596.2 398.8 596.1 394.8 595.9 390.8 595.5 386.8 594.9 382.8 594.2 378.9 593.4 374.9 592.5 371 591.4 367 590.2 363 588.9 359.1 587.4 355.2 585.7 351.3 583.7 347.5 581.5 343.8 579.1 340.1 576.4 336.7 573.5 333.3 570.2 330.2 566.7 327.4 563 324.7 559.1 322.3 555 320.2 550.8 318.2 546.5 316.5 542.1 315 537.7 313.7 533.3 312.5 528.8 311.4 524.4 310.5 519.9 309.7 515.4 308.9 511 308.3 506.5 307.8 502 307.5 497.5 307.2 493 307.2 488.5 307.2 484 307.5 479.5 307.8 475 308.3 470.6 308.9 466.1 309.7 461.6 310.5 457.2 311.4 452.7 312.5 448.3 313.7 443.9 315 439.5 316.5 435.2 318.2 431 320.2 426.9 322.3 423 324.7 419.3 327.4 415.8 330.2 412.5 333.3 409.6 336.7 406.9 340.1 404.5 343.8 402.3 347.5 400.3 351.3 398.6 355.2 397.1 359.1 395.8 363 394.6 367 393.5 371 392.6 374.9 391.8 378.9 391.1 382.8 390.5 386.8 390.1 390.8 389.9 394.8 389.8 398.8 389.9 402.8 390.1 406.8 390.5 410.8 391.1 414.8 391.8 418.7 392.6 422.7 393.5 426.6 394.6 430.6 395.8 434.6 397.1 438.5 398.6 442.4 400.3 446.3 402.3 450.1 404.5 453.8 406.9 457.5 409.6 460.9 412.5 464.3 415.8 467.4 419.3 470.2 423 472.9 426.9 475.3 431 477.4 435.2 479.4 439.5 481.1 443.9 482.6 448.3 483.9 452.7 485.1 457.2 486.2 461.6 487.1 466.1 487.9 470.6 488.7 475 489.3 479.5 489.8 484 490.1 488.5 490.4 493 490.4 497.5 490.4 502 490.1 506.5 489.8 511 489.3 515.4 488.7 519.9 487.9 524.4 487.1 528.8 486.2 533.3 485.1 537.7 483.9 542.1 482.6 546.5 481.1 550.8 479.4 555 477.4 559.1 475.3 563 472.9 566.7 470.2 570.2 467.4 573.5 464.3 576.4 460.9 579.1 457.5 581.5 453.8 583.7 450.1 585.7 446.3 587.4 442.4 588.9 438.5 590.2 434.6 591.4 430.6 592.5 426.6 593.4 422.7 594.2 418.7 594.9 414.8 595.5 410.8 595.9 406.8 596.1 402.8Z" fill="#232323"/><path d="M593.6 398.8 593.5 394.9 593.3 391 592.9 387.1 592.4 383.2 591.8 379.4 591 375.5 590.1 371.6 589.1 367.7 587.9 363.9 586.5 360.1 585 356.3 583.2 352.6 581.3 348.9 579.1 345.3 576.6 341.8 574 338.5 571.1 335.3 567.9 332.3 564.5 329.5 560.9 326.9 557.2 324.5 553.3 322.4 549.2 320.4 545.1 318.7 540.9 317.1 536.6 315.8 532.3 314.6 528 313.5 523.6 312.6 519.3 311.8 514.9 311.1 510.5 310.5 506.2 310.1 501.8 309.7 497.4 309.6 493 309.5 488.6 309.6 484.2 309.7 479.8 310.1 475.5 310.5 471.1 311.1 466.7 311.8 462.4 312.6 458 313.5 453.7 314.6 449.4 315.8 445.1 317.1 440.9 318.7 436.8 320.4 432.7 322.4 428.8 324.5 425.1 326.9 421.5 329.5 418.1 332.3 414.9 335.3 412 338.5 409.4 341.8 406.9 345.3 404.7 348.9 402.8 352.6 401 356.3 399.5 360.1 398.1 363.9 396.9 367.7 395.9 371.6 395 375.5 394.2 379.4 393.6 383.2 393.1 387.1 392.7 391 392.5 394.9 392.4 398.8 392.5 402.7 392.7 406.6 393.1 410.5 393.6 414.4 394.2 418.2 395 422.1 395.9 426 396.9 429.9 398.1 433.7 399.5 437.5 401 441.3 402.8 445 404.7 448.7 406.9 452.3 409.4 455.8 412 459.1 414.9 462.3 418.1 465.3 421.5 468.1 425.1 470.7 428.8 473.1 432.7 475.2 436.8 477.2 440.9 478.9 445.1 480.5 449.4 481.8 453.7 483 458 484.1 462.4 485 466.7 485.8 471.1 486.5 475.5 487.1 479.8 487.5 484.2 487.9 488.6 488 493 488.1 497.4 488 501.8 487.9 506.2 487.5 510.5 487.1 514.9 486.5 519.3 485.8 523.6 485 528 484.1 532.3 483 536.6 481.8 540.9 480.5 545.1 478.9 549.2 477.2 553.3 475.2 557.2 473.1 560.9 470.7 564.5 468.1 567.9 465.3 571.1 462.3 574 459.1 576.6 455.8 579.1 452.3 581.3 448.7 583.2 445 585 441.3 586.5 437.5 587.9 433.7 589.1 429.9 590.1 426 591 422.1 591.8 418.2 592.4 414.4 592.9 410.5 593.3 406.6 593.5 402.7Z" fill="#282828"/><path d="M590.7 398.8 590.6 395 590.5 391.2 590.2 387.4 589.7 383.7 589.1 379.9 588.4 376.1 587.5 372.3 586.5 368.6 585.3 364.9 583.9 361.2 582.3 357.5 580.5 353.9 578.5 350.4 576.3 347 573.9 343.7 571.2 340.5 568.4 337.5 565.3 334.6 562.1 331.9 558.7 329.3 555.1 327 551.3 324.8 547.5 322.9 543.5 321.1 539.5 319.5 535.4 318.1 531.2 316.9 527 315.8 522.8 314.9 518.6 314.1 514.3 313.4 510.1 312.9 505.8 312.5 501.5 312.3 497.3 312.1 493 312.1 488.7 312.1 484.5 312.3 480.2 312.5 475.9 312.9 471.7 313.4 467.4 314.1 463.2 314.9 459 315.8 454.8 316.9 450.6 318.1 446.5 319.5 442.5 321.1 438.5 322.9 434.7 324.8 430.9 327 427.3 329.3 423.9 331.9 420.7 334.6 417.6 337.5 414.8 340.5 412.1 343.7 409.7 347 407.5 350.4 405.5 353.9 403.7 357.5 402.1 361.2 400.7 364.9 399.5 368.6 398.5 372.3 397.6 376.1 396.9 379.9 396.3 383.7 395.8 387.4 395.5 391.2 395.4 395 395.3 398.8 395.4 402.6 395.5 406.4 395.8 410.2 396.3 413.9 396.9 417.7 397.6 421.5 398.5 425.3 399.5 429 400.7 432.7 402.1 436.4 403.7 440.1 405.5 443.7 407.5 447.2 409.7 450.6 412.1 453.9 414.8 457.1 417.6 460.1 420.7 463 423.9 465.7 427.3 468.3 430.9 470.6 434.7 472.8 438.5 474.7 442.5 476.5 446.5 478.1 450.6 479.5 454.8 480.7 459 481.8 463.2 482.7 467.4 483.5 471.7 484.2 475.9 484.7 480.2 485.1 484.5 485.3 488.7 485.5 493 485.5 497.3 485.5 501.5 485.3 505.8 485.1 510.1 484.7 514.3 484.2 518.6 483.5 522.8 482.7 527 481.8 531.2 480.7 535.4 479.5 539.5 478.1 543.5 476.5 547.5 474.7 551.3 472.8 555.1 470.6 558.7 468.3 562.1 465.7 565.3 463 568.4 460.1 571.2 457.1 573.9 453.9 576.3 450.6 578.5 447.2 580.5 443.7 582.3 440.1 583.9 436.4 585.3 432.7 586.5 429 587.5 425.3 588.4 421.5 589.1 417.7 589.7 413.9 590.2 410.2 590.5 406.4 590.6 402.6Z" fill="#2d2d2d"/><path d="M589.3 398.8 589.3 395.1 589.1 391.3 588.8 387.6 588.4 383.9 587.9 380.1 587.2 376.4 586.3 372.7 585.3 369 584 365.3 582.6 361.7 581 358.1 579.2 354.6 577.2 351.2 575 347.8 572.6 344.6 569.9 341.5 567.1 338.5 564.1 335.7 560.9 333 557.6 330.5 554.1 328.2 550.4 326 546.6 324.1 542.8 322.3 538.8 320.7 534.8 319.2 530.7 318 526.6 316.9 522.4 316 518.2 315.2 514 314.6 509.8 314.1 505.6 313.7 501.4 313.5 497.2 313.3 493 313.3 488.8 313.3 484.6 313.5 480.4 313.7 476.2 314.1 472 314.6 467.8 315.2 463.6 316 459.4 316.9 455.3 318 451.2 319.2 447.2 320.7 443.2 322.3 439.4 324.1 435.6 326 431.9 328.2 428.4 330.5 425.1 333 421.9 335.7 418.9 338.5 416.1 341.5 413.4 344.6 411 347.8 408.8 351.2 406.8 354.6 405 358.1 403.4 361.7 402 365.3 400.7 369 399.7 372.7 398.8 376.4 398.1 380.1 397.6 383.9 397.2 387.6 396.9 391.3 396.7 395.1 396.7 398.8 396.7 402.5 396.9 406.3 397.2 410 397.6 413.7 398.1 417.5 398.8 421.2 399.7 424.9 400.7 428.6 402 432.3 403.4 435.9 405 439.5 406.8 443 408.8 446.4 411 449.8 413.4 453 416.1 456.1 418.9 459.1 421.9 461.9 425.1 464.6 428.4 467.1 431.9 469.4 435.6 471.6 439.4 473.5 443.2 475.3 447.2 476.9 451.2 478.4 455.3 479.6 459.4 480.7 463.6 481.6 467.8 482.4 472 483 476.2 483.5 480.4 483.9 484.6 484.1 488.8 484.3 493 484.3 497.2 484.3 501.4 484.1 505.6 483.9 509.8 483.5 514 483 518.2 482.4 522.4 481.6 526.6 480.7 530.7 479.6 534.8 478.4 538.8 476.9 542.8 475.3 546.6 473.5 550.4 471.6 554.1 469.4 557.6 467.1 560.9 464.6 564.1 461.9 567.1 459.1 569.9 456.1 572.6 453 575 449.8 577.2 446.4 579.2 443 581 439.5 582.6 435.9 584 432.3 585.3 428.6 586.3 424.9 587.2 421.2 587.9 417.5 588.4 413.7 588.8 410 589.1 406.3 589.3 402.5Z" fill="#303030"/><path d="M587.9 398.8 587.9 395.1 587.7 391.4 587.5 387.8 587.1 384.1 586.6 380.4 585.9 376.7 585.1 373 584 369.4 582.8 365.8 581.4 362.2 579.7 358.7 577.9 355.3 575.9 351.9 573.7 348.7 571.2 345.5 568.6 342.4 565.9 339.5 562.9 336.7 559.8 334.1 556.5 331.6 553 329.3 549.5 327.2 545.8 325.2 542 323.4 538.2 321.8 534.2 320.3 530.2 319.1 526.1 318 522 317.1 517.9 316.3 513.8 315.7 509.6 315.2 505.4 314.9 501.3 314.7 497.1 314.6 493 314.5 488.9 314.6 484.7 314.7 480.6 314.9 476.4 315.2 472.2 315.7 468.1 316.3 464 317.1 459.9 318 455.8 319.1 451.8 320.3 447.8 321.8 444 323.4 440.2 325.2 436.5 327.2 433 329.3 429.5 331.6 426.2 334.1 423.1 336.7 420.1 339.5 417.4 342.4 414.8 345.5 412.3 348.7 410.1 351.9 408.1 355.3 406.3 358.7 404.6 362.2 403.2 365.8 402 369.4 400.9 373 400.1 376.7 399.4 380.4 398.9 384.1 398.5 387.8 398.3 391.4 398.1 395.1 398.1 398.8 398.1 402.5 398.3 406.2 398.5 409.8 398.9 413.5 399.4 417.2 400.1 420.9 400.9 424.6 402 428.2 403.2 431.8 404.6 435.4 406.3 438.9 408.1 442.3 410.1 445.7 412.3 448.9 414.8 452.1 417.4 455.2 420.1 458.1 423.1 460.9 426.2 463.5 429.5 466 433 468.3 436.5 470.4 440.2 472.4 444 474.2 447.8 475.8 451.8 477.3 455.8 478.5 459.9 479.6 464 480.5 468.1 481.3 472.2 481.9 476.4 482.4 480.6 482.7 484.7 482.9 488.9 483 493 483.1 497.1 483 501.3 482.9 505.4 482.7 509.6 482.4 513.8 481.9 517.9 481.3 522 480.5 526.1 479.6 530.2 478.5 534.2 477.3 538.2 475.8 542 474.2 545.8 472.4 549.5 470.4 553 468.3 556.5 466 559.8 463.5 562.9 460.9 565.9 458.1 568.6 455.2 571.2 452.1 573.7 448.9 575.9 445.7 577.9 442.3 579.7 438.9 581.4 435.4 582.8 431.8 584 428.2 585.1 424.6 585.9 420.9 586.6 417.2 587.1 413.5 587.5 409.8 587.7 406.2 587.9 402.5Z" fill="#323232"/><path d="M585.2 398.8 585.1 395.2 585 391.7 584.8 388.1 584.5 384.5 584.1 380.9 583.4 377.3 582.6 373.7 581.6 370.2 580.3 366.7 578.9 363.3 577.2 359.9 575.3 356.6 573.3 353.4 571 350.3 568.6 347.3 566.1 344.4 563.3 341.6 560.5 338.9 557.5 336.4 554.3 333.9 551 331.6 547.6 329.5 544.1 327.5 540.5 325.7 536.8 324.1 533 322.6 529.2 321.3 525.2 320.2 521.3 319.2 517.2 318.5 513.2 317.9 509.1 317.5 505.1 317.3 501.1 317.1 497 317 493 317 489 317 484.9 317.1 480.9 317.3 476.9 317.5 472.8 317.9 468.8 318.5 464.7 319.2 460.8 320.2 456.8 321.3 453 322.6 449.2 324.1 445.5 325.7 441.9 327.5 438.4 329.5 435 331.6 431.7 333.9 428.5 336.4 425.5 338.9 422.7 341.6 419.9 344.4 417.4 347.3 415 350.3 412.7 353.4 410.7 356.6 408.8 359.9 407.1 363.3 405.7 366.7 404.4 370.2 403.4 373.7 402.6 377.3 401.9 380.9 401.5 384.5 401.2 388.1 401 391.7 400.9 395.2 400.8 398.8 400.9 402.4 401 405.9 401.2 409.5 401.5 413.1 401.9 416.7 402.6 420.3 403.4 423.9 404.4 427.4 405.7 430.9 407.1 434.3 408.8 437.7 410.7 441 412.7 444.2 415 447.3 417.4 450.3 419.9 453.2 422.7 456 425.5 458.7 428.5 461.2 431.7 463.7 435 466 438.4 468.1 441.9 470.1 445.5 471.9 449.2 473.5 453 475 456.8 476.3 460.8 477.4 464.7 478.4 468.8 479.1 472.8 479.7 476.9 480.1 480.9 480.3 484.9 480.5 489 480.6 493 480.6 497 480.6 501.1 480.5 505.1 480.3 509.1 480.1 513.2 479.7 517.2 479.1 521.3 478.4 525.2 477.4 529.2 476.3 533 475 536.8 473.5 540.5 471.9 544.1 470.1 547.6 468.1 551 466 554.3 463.7 557.5 461.2 560.5 458.7 563.3 456 566.1 453.2 568.6 450.3 571 447.3 573.3 444.2 575.3 441 577.2 437.7 578.9 434.3 580.3 430.9 581.6 427.4 582.6 423.9 583.4 420.3 584.1 416.7 584.5 413.1 584.8 409.5 585 405.9 585.1 402.4Z" fill="#383838"/><path d="M582.4 398.8 582.4 395.3 582.3 391.9 582.2 388.4 581.9 384.9 581.5 381.4 580.9 377.9 580.1 374.4 579.1 371 577.8 367.6 576.3 364.3 574.6 361.1 572.7 357.9 570.7 354.9 568.4 351.9 566 349.1 563.5 346.3 560.8 343.6 558 341.1 555.1 338.6 552.1 336.2 549 334 545.8 331.8 542.5 329.9 539 328 535.5 326.3 531.9 324.8 528.1 323.5 524.3 322.3 520.5 321.4 516.6 320.7 512.6 320.2 508.7 319.8 504.7 319.6 500.8 319.5 496.9 319.4 493 319.4 489.1 319.4 485.2 319.5 481.3 319.6 477.3 319.8 473.4 320.2 469.4 320.7 465.5 321.4 461.7 322.3 457.9 323.5 454.1 324.8 450.5 326.3 447 328 443.5 329.9 440.2 331.8 437 334 433.9 336.2 430.9 338.6 428 341.1 425.2 343.6 422.5 346.3 420 349.1 417.6 351.9 415.3 354.9 413.3 357.9 411.4 361.1 409.7 364.3 408.2 367.6 406.9 371 405.9 374.4 405.1 377.9 404.5 381.4 404.1 384.9 403.8 388.4 403.7 391.9 403.6 395.3 403.6 398.8 403.6 402.3 403.7 405.7 403.8 409.2 404.1 412.7 404.5 416.2 405.1 419.7 405.9 423.2 406.9 426.6 408.2 430 409.7 433.3 411.4 436.5 413.3 439.7 415.3 442.7 417.6 445.7 420 448.5 422.5 451.3 425.2 454 428 456.5 430.9 459 433.9 461.4 437 463.6 440.2 465.8 443.5 467.7 447 469.6 450.5 471.3 454.1 472.8 457.9 474.1 461.7 475.3 465.5 476.2 469.4 476.9 473.4 477.4 477.3 477.8 481.3 478 485.2 478.1 489.1 478.2 493 478.2 496.9 478.2 500.8 478.1 504.7 478 508.7 477.8 512.6 477.4 516.6 476.9 520.5 476.2 524.3 475.3 528.1 474.1 531.9 472.8 535.5 471.3 539 469.6 542.5 467.7 545.8 465.8 549 463.6 552.1 461.4 555.1 459 558 456.5 560.8 454 563.5 451.3 566 448.5 568.4 445.7 570.7 442.7 572.7 439.7 574.6 436.5 576.3 433.3 577.8 430 579.1 426.6 580.1 423.2 580.9 419.7 581.5 416.2 581.9 412.7 582.2 409.2 582.3 405.7 582.4 402.3Z" fill="#3d3d3d"/><path d="M580.7 398.8 580.7 395.4 580.7 392 580.6 388.6 580.4 385.1 580 381.7 579.4 378.2 578.7 374.8 577.6 371.5 576.3 368.1 574.8 364.9 573.1 361.8 571.2 358.7 569.1 355.8 566.8 352.9 564.4 350.1 561.9 347.5 559.3 344.9 556.6 342.4 553.7 340 550.8 337.6 547.8 335.4 544.7 333.3 541.5 331.2 538.1 329.4 534.7 327.7 531.2 326.1 527.5 324.8 523.8 323.7 520 322.7 516.2 322 512.3 321.6 508.4 321.2 504.5 321 500.7 320.9 496.8 320.9 493 320.9 489.2 320.9 485.3 320.9 481.5 321 477.6 321.2 473.7 321.6 469.8 322 466 322.7 462.2 323.7 458.5 324.8 454.8 326.1 451.3 327.7 447.9 329.4 444.5 331.2 441.3 333.3 438.2 335.4 435.2 337.6 432.3 340 429.4 342.4 426.7 344.9 424.1 347.5 421.6 350.1 419.2 352.9 416.9 355.8 414.8 358.7 412.9 361.8 411.2 364.9 409.7 368.1 408.4 371.5 407.3 374.8 406.6 378.2 406 381.7 405.6 385.1 405.4 388.6 405.3 392 405.3 395.4 405.3 398.8 405.3 402.2 405.3 405.6 405.4 409 405.6 412.5 406 415.9 406.6 419.4 407.3 422.8 408.4 426.1 409.7 429.5 411.2 432.7 412.9 435.8 414.8 438.9 416.9 441.8 419.2 444.7 421.6 447.5 424.1 450.1 426.7 452.7 429.4 455.2 432.3 457.6 435.2 460 438.2 462.2 441.3 464.3 444.5 466.4 447.9 468.2 451.3 469.9 454.8 471.5 458.5 472.8 462.2 473.9 466 474.9 469.8 475.6 473.7 476 477.6 476.4 481.5 476.6 485.3 476.7 489.2 476.7 493 476.7 496.8 476.7 500.7 476.7 504.5 476.6 508.4 476.4 512.3 476 516.2 475.6 520 474.9 523.8 473.9 527.5 472.8 531.2 471.5 534.7 469.9 538.1 468.2 541.5 466.4 544.7 464.3 547.8 462.2 550.8 460 553.7 457.6 556.6 455.2 559.3 452.7 561.9 450.1 564.4 447.5 566.8 444.7 569.1 441.8 571.2 438.9 573.1 435.8 574.8 432.7 576.3 429.5 577.6 426.1 578.7 422.8 579.4 419.4 580 415.9 580.4 412.5 580.6 409 580.7 405.6 580.7 402.2Z" fill="#404040"/><path d="M579.6 398.8 579.6 395.4 579.6 392.1 579.6 388.7 579.4 385.3 579.2 381.8 578.7 378.4 577.9 375 576.8 371.7 575.4 368.5 573.8 365.4 571.9 362.3 569.9 359.4 567.7 356.6 565.3 353.8 562.9 351.2 560.3 348.6 557.7 346.1 555 343.7 552.3 341.3 549.5 339 546.6 336.7 543.7 334.6 540.6 332.5 537.4 330.5 534.1 328.7 530.7 327.1 527.1 325.6 523.5 324.4 519.8 323.4 516 322.7 512.1 322.3 508.2 322.1 504.4 321.9 500.6 321.9 496.8 321.9 493 321.9 489.2 321.9 485.4 321.9 481.6 321.9 477.8 322.1 473.9 322.3 470 322.7 466.2 323.4 462.5 324.4 458.9 325.6 455.3 327.1 451.9 328.7 448.6 330.5 445.4 332.5 442.3 334.6 439.4 336.7 436.5 339 433.7 341.3 431 343.7 428.3 346.1 425.7 348.6 423.1 351.2 420.7 353.8 418.3 356.6 416.1 359.4 414.1 362.3 412.2 365.4 410.6 368.5 409.2 371.7 408.1 375 407.3 378.4 406.8 381.8 406.6 385.3 406.4 388.7 406.4 392.1 406.4 395.4 406.4 398.8 406.4 402.2 406.4 405.5 406.4 408.9 406.6 412.3 406.8 415.8 407.3 419.2 408.1 422.6 409.2 425.9 410.6 429.1 412.2 432.2 414.1 435.3 416.1 438.2 418.3 441 420.7 443.8 423.1 446.4 425.7 449 428.3 451.5 431 453.9 433.7 456.3 436.5 458.6 439.4 460.9 442.3 463 445.4 465.1 448.6 467.1 451.9 468.9 455.3 470.5 458.9 472 462.5 473.2 466.2 474.2 470 474.9 473.9 475.3 477.8 475.5 481.6 475.7 485.4 475.7 489.2 475.7 493 475.7 496.8 475.7 500.6 475.7 504.4 475.7 508.2 475.5 512.1 475.3 516 474.9 519.8 474.2 523.5 473.2 527.1 472 530.7 470.5 534.1 468.9 537.4 467.1 540.6 465.1 543.7 463 546.6 460.9 549.5 458.6 552.3 456.3 555 453.9 557.7 451.5 560.3 449 562.9 446.4 565.3 443.8 567.7 441 569.9 438.2 571.9 435.3 573.8 432.2 575.4 429.1 576.8 425.9 577.9 422.6 578.7 419.2 579.2 415.8 579.4 412.3 579.6 408.9 579.6 405.5 579.6 402.2Z" fill="#424242"/><path d="M576.7 398.8 576.8 395.6 576.9 392.3 577 389 577.1 385.6 577.1 382.2 576.8 378.9 576.1 375.5 574.9 372.3 573.2 369.3 571.2 366.4 569 363.7 566.7 361 564.3 358.5 561.7 356.1 559.1 353.7 556.5 351.5 553.9 349.2 551.4 347 548.8 344.7 546.3 342.4 543.8 340.1 541.1 337.8 538.4 335.5 535.5 333.4 532.6 331.3 529.5 329.3 526.2 327.6 522.8 326.1 519.2 325 515.5 324.4 511.6 324.1 507.8 324.1 504.1 324.2 500.3 324.3 496.7 324.4 493 324.5 489.3 324.4 485.7 324.3 481.9 324.2 478.2 324.1 474.4 324.1 470.5 324.4 466.8 325 463.2 326.1 459.8 327.6 456.5 329.3 453.4 331.3 450.5 333.4 447.6 335.5 444.9 337.8 442.2 340.1 439.7 342.4 437.2 344.7 434.6 347 432.1 349.2 429.5 351.5 426.9 353.7 424.3 356.1 421.7 358.5 419.3 361 417 363.7 414.8 366.4 412.8 369.3 411.1 372.3 409.9 375.5 409.2 378.9 408.9 382.2 408.9 385.6 409 389 409.1 392.3 409.2 395.6 409.3 398.8 409.2 402 409.1 405.3 409 408.6 408.9 412 408.9 415.4 409.2 418.7 409.9 422.1 411.1 425.3 412.8 428.3 414.8 431.2 417 433.9 419.3 436.6 421.7 439.1 424.3 441.5 426.9 443.9 429.5 446.1 432.1 448.4 434.6 450.6 437.2 452.9 439.7 455.2 442.2 457.5 444.9 459.8 447.6 462.1 450.5 464.2 453.4 466.3 456.5 468.3 459.8 470 463.2 471.5 466.8 472.6 470.5 473.2 474.4 473.5 478.2 473.5 481.9 473.4 485.7 473.3 489.3 473.2 493 473.1 496.7 473.2 500.3 473.3 504.1 473.4 507.8 473.5 511.6 473.5 515.5 473.2 519.2 472.6 522.8 471.5 526.2 470 529.5 468.3 532.6 466.3 535.5 464.2 538.4 462.1 541.1 459.8 543.8 457.5 546.3 455.2 548.8 452.9 551.4 450.6 553.9 448.4 556.5 446.1 559.1 443.9 561.7 441.5 564.3 439.1 566.7 436.6 569 433.9 571.2 431.2 573.2 428.3 574.9 425.3 576.1 422.1 576.8 418.7 577.1 415.4 577.1 412 577 408.6 576.9 405.3 576.8 402Z" fill="#484848"/><path d="M573.8 398.8 573.8 395.7 574.1 392.5 574.4 389.3 574.7 386 574.9 382.7 574.8 379.3 574.2 376.1 572.9 373 570.9 370.1 568.6 367.5 566.1 365 563.5 362.6 560.9 360.4 558.2 358.3 555.5 356.2 552.9 354.2 550.3 352.2 547.8 350.1 545.5 347.9 543.2 345.7 541 343.3 538.7 340.9 536.3 338.5 533.7 336.2 531.1 333.9 528.3 331.7 525.3 329.6 522.1 327.9 518.6 326.7 514.9 326.2 511.1 326.1 507.4 326.3 503.7 326.6 500.1 326.8 496.5 327 493 327.1 489.5 327 485.9 326.8 482.3 326.6 478.6 326.3 474.9 326.1 471.1 326.2 467.4 326.7 463.9 327.9 460.7 329.6 457.7 331.7 454.9 333.9 452.3 336.2 449.7 338.5 447.3 340.9 445 343.3 442.8 345.7 440.5 347.9 438.2 350.1 435.7 352.2 433.1 354.2 430.5 356.2 427.8 358.3 425.1 360.4 422.5 362.6 419.9 365 417.4 367.5 415.1 370.1 413.1 373 411.8 376.1 411.2 379.3 411.1 382.7 411.3 386 411.6 389.3 411.9 392.5 412.2 395.7 412.2 398.8 412.2 401.9 411.9 405.1 411.6 408.3 411.3 411.6 411.1 414.9 411.2 418.3 411.8 421.5 413.1 424.6 415.1 427.5 417.4 430.1 419.9 432.6 422.5 435 425.1 437.2 427.8 439.3 430.5 441.4 433.1 443.4 435.7 445.4 438.2 447.5 440.5 449.7 442.8 451.9 445 454.3 447.3 456.7 449.7 459.1 452.3 461.4 454.9 463.7 457.7 465.9 460.7 468 463.9 469.7 467.4 470.9 471.1 471.4 474.9 471.5 478.6 471.3 482.3 471 485.9 470.8 489.5 470.6 493 470.5 496.5 470.6 500.1 470.8 503.7 471 507.4 471.3 511.1 471.5 514.9 471.4 518.6 470.9 522.1 469.7 525.3 468 528.3 465.9 531.1 463.7 533.7 461.4 536.3 459.1 538.7 456.7 541 454.3 543.2 451.9 545.5 449.7 547.8 447.5 550.3 445.4 552.9 443.4 555.5 441.4 558.2 439.3 560.9 437.2 563.5 435 566.1 432.6 568.6 430.1 570.9 427.5 572.9 424.6 574.2 421.5 574.8 418.3 574.9 414.9 574.7 411.6 574.4 408.3 574.1 405.1 573.8 401.9Z" fill="#4e4e4e"/><path d="M572.9 398.8 573 395.7 573.2 392.6 573.6 389.4 573.9 386.1 574.1 382.8 574.1 379.5 573.5 376.3 572.2 373.2 570.3 370.4 567.9 367.8 565.5 365.3 562.9 363 560.2 360.8 557.5 358.7 554.9 356.7 552.2 354.7 549.7 352.7 547.2 350.7 544.9 348.5 542.7 346.2 540.5 343.9 538.2 341.5 535.8 339.1 533.3 336.8 530.7 334.5 527.9 332.3 525 330.2 521.8 328.5 518.4 327.3 514.7 326.8 511 326.8 507.3 327 503.6 327.3 500 327.6 496.5 327.8 493 327.9 489.5 327.8 486 327.6 482.4 327.3 478.7 327 475 326.8 471.3 326.8 467.6 327.3 464.2 328.5 461 330.2 458.1 332.3 455.3 334.5 452.7 336.8 450.2 339.1 447.8 341.5 445.5 343.9 443.3 346.2 441.1 348.5 438.8 350.7 436.3 352.7 433.8 354.7 431.1 356.7 428.5 358.7 425.8 360.8 423.1 363 420.5 365.3 418.1 367.8 415.7 370.4 413.8 373.2 412.5 376.3 411.9 379.5 411.9 382.8 412.1 386.1 412.4 389.4 412.8 392.6 413 395.7 413.1 398.8 413 401.9 412.8 405 412.4 408.2 412.1 411.5 411.9 414.8 411.9 418.1 412.5 421.3 413.8 424.4 415.7 427.2 418.1 429.8 420.5 432.3 423.1 434.6 425.8 436.8 428.5 438.9 431.1 440.9 433.8 442.9 436.3 444.9 438.8 446.9 441.1 449.1 443.3 451.4 445.5 453.7 447.8 456.1 450.2 458.5 452.7 460.8 455.3 463.1 458.1 465.3 461 467.4 464.2 469.1 467.6 470.3 471.3 470.8 475 470.8 478.7 470.6 482.4 470.3 486 470 489.5 469.8 493 469.7 496.5 469.8 500 470 503.6 470.3 507.3 470.6 511 470.8 514.7 470.8 518.4 470.3 521.8 469.1 525 467.4 527.9 465.3 530.7 463.1 533.3 460.8 535.8 458.5 538.2 456.1 540.5 453.7 542.7 451.4 544.9 449.1 547.2 446.9 549.7 444.9 552.2 442.9 554.9 440.9 557.5 438.9 560.2 436.8 562.9 434.6 565.5 432.3 567.9 429.8 570.3 427.2 572.2 424.4 573.5 421.3 574.1 418.1 574.1 414.8 573.9 411.5 573.6 408.2 573.2 405 573 401.9Z" fill="#505050"/><path d="M570.9 398.8 571 395.8 571.3 392.7 571.7 389.6 572.1 386.4 572.4 383.2 572.5 379.9 572 376.7 570.7 373.7 568.7 370.9 566.4 368.4 563.9 366 561.3 363.8 558.6 361.7 556 359.6 553.3 357.7 550.7 355.8 548.2 353.9 545.8 351.9 543.6 349.8 541.4 347.6 539.3 345.3 537.1 342.9 534.8 340.5 532.4 338.2 529.9 335.9 527.2 333.6 524.4 331.6 521.3 329.8 517.9 328.7 514.3 328.2 510.6 328.3 506.9 328.6 503.4 329 499.8 329.3 496.4 329.5 493 329.6 489.6 329.5 486.2 329.3 482.6 329 479.1 328.6 475.4 328.3 471.7 328.2 468.1 328.7 464.7 329.8 461.6 331.6 458.8 333.6 456.1 335.9 453.6 338.2 451.2 340.5 448.9 342.9 446.7 345.3 444.6 347.6 442.4 349.8 440.2 351.9 437.8 353.9 435.3 355.8 432.7 357.7 430 359.6 427.4 361.7 424.7 363.8 422.1 366 419.6 368.4 417.3 370.9 415.3 373.7 414 376.7 413.5 379.9 413.6 383.2 413.9 386.4 414.3 389.6 414.7 392.7 415 395.8 415.1 398.8 415 401.8 414.7 404.9 414.3 408 413.9 411.2 413.6 414.4 413.5 417.7 414 420.9 415.3 423.9 417.3 426.7 419.6 429.2 422.1 431.6 424.7 433.8 427.4 435.9 430 438 432.7 439.9 435.3 441.8 437.8 443.7 440.2 445.7 442.4 447.8 444.6 450 446.7 452.3 448.9 454.7 451.2 457.1 453.6 459.4 456.1 461.7 458.8 464 461.6 466 464.7 467.8 468.1 468.9 471.7 469.4 475.4 469.3 479.1 469 482.6 468.6 486.2 468.3 489.6 468.1 493 468 496.4 468.1 499.8 468.3 503.4 468.6 506.9 469 510.6 469.3 514.3 469.4 517.9 468.9 521.3 467.8 524.4 466 527.2 464 529.9 461.7 532.4 459.4 534.8 457.1 537.1 454.7 539.3 452.3 541.4 450 543.6 447.8 545.8 445.7 548.2 443.7 550.7 441.8 553.3 439.9 556 438 558.6 435.9 561.3 433.8 563.9 431.6 566.4 429.2 568.7 426.7 570.7 423.9 572 420.9 572.5 417.7 572.4 414.4 572.1 411.2 571.7 408 571.3 404.9 571 401.8Z" fill="#545454"/><path d="M569.3 398.8 569.4 395.8 569.8 392.8 570.2 389.8 570.6 386.6 571.1 383.4 571.2 380.2 570.7 377 569.5 374.1 567.5 371.4 565.2 368.9 562.6 366.6 560 364.4 557.4 362.4 554.7 360.4 552.1 358.5 549.5 356.7 547 354.8 544.7 352.9 542.5 350.8 540.4 348.6 538.3 346.3 536.2 344 534 341.6 531.7 339.3 529.3 337 526.7 334.7 523.9 332.6 520.8 330.9 517.5 329.8 514 329.4 510.3 329.5 506.7 329.9 503.2 330.3 499.7 330.6 496.3 330.9 493 331 489.7 330.9 486.3 330.6 482.8 330.3 479.3 329.9 475.7 329.5 472 329.4 468.5 329.8 465.2 330.9 462.1 332.6 459.3 334.7 456.7 337 454.3 339.3 452 341.6 449.8 344 447.7 346.3 445.6 348.6 443.5 350.8 441.3 352.9 439 354.8 436.5 356.7 433.9 358.5 431.3 360.4 428.6 362.4 426 364.4 423.4 366.6 420.8 368.9 418.5 371.4 416.5 374.1 415.3 377 414.8 380.2 414.9 383.4 415.4 386.6 415.8 389.8 416.2 392.8 416.6 395.8 416.7 398.8 416.6 401.8 416.2 404.8 415.8 407.8 415.4 411 414.9 414.2 414.8 417.4 415.3 420.6 416.5 423.5 418.5 426.2 420.8 428.7 423.4 431 426 433.2 428.6 435.2 431.3 437.2 433.9 439.1 436.5 440.9 439 442.8 441.3 444.7 443.5 446.8 445.6 449 447.7 451.3 449.8 453.6 452 456 454.3 458.3 456.7 460.6 459.3 462.9 462.1 465 465.2 466.7 468.5 467.8 472 468.2 475.7 468.1 479.3 467.7 482.8 467.3 486.3 467 489.7 466.7 493 466.6 496.3 466.7 499.7 467 503.2 467.3 506.7 467.7 510.3 468.1 514 468.2 517.5 467.8 520.8 466.7 523.9 465 526.7 462.9 529.3 460.6 531.7 458.3 534 456 536.2 453.6 538.3 451.3 540.4 449 542.5 446.8 544.7 444.7 547 442.8 549.5 440.9 552.1 439.1 554.7 437.2 557.4 435.2 560 433.2 562.6 431 565.2 428.7 567.5 426.2 569.5 423.5 570.7 420.6 571.2 417.4 571.1 414.2 570.6 411 570.2 407.8 569.8 404.8 569.4 401.8Z" fill="#585858"/><path d="M568 398.8 568.2 395.9 568.5 392.9 569 389.9 569.5 386.8 570 383.7 570.2 380.4 569.7 377.3 568.5 374.4 566.5 371.8 564.2 369.3 561.6 367.1 559 364.9 556.4 362.9 553.7 361 551.1 359.2 548.5 357.4 546.1 355.6 543.8 353.7 541.7 351.7 539.6 349.5 537.6 347.2 535.5 344.9 533.4 342.5 531.1 340.2 528.7 337.9 526.2 335.6 523.5 333.5 520.5 331.8 517.2 330.7 513.7 330.3 510.1 330.5 506.5 330.9 503 331.3 499.6 331.8 496.3 332.1 493 332.2 489.7 332.1 486.4 331.8 483 331.3 479.5 330.9 475.9 330.5 472.3 330.3 468.8 330.7 465.5 331.8 462.5 333.5 459.8 335.6 457.3 337.9 454.9 340.2 452.6 342.5 450.5 344.9 448.4 347.2 446.4 349.5 444.3 351.7 442.2 353.7 439.9 355.6 437.5 357.4 434.9 359.2 432.3 361 429.6 362.9 427 364.9 424.4 367.1 421.8 369.3 419.5 371.8 417.5 374.4 416.3 377.3 415.8 380.4 416 383.7 416.5 386.8 417 389.9 417.5 392.9 417.8 395.9 418 398.8 417.8 401.7 417.5 404.7 417 407.7 416.5 410.8 416 413.9 415.8 417.2 416.3 420.3 417.5 423.2 419.5 425.8 421.8 428.3 424.4 430.5 427 432.7 429.6 434.7 432.3 436.6 434.9 438.4 437.5 440.2 439.9 442 442.2 443.9 444.3 445.9 446.4 448.1 448.4 450.4 450.5 452.7 452.6 455.1 454.9 457.4 457.3 459.7 459.8 462 462.5 464.1 465.5 465.8 468.8 466.9 472.3 467.3 475.9 467.1 479.5 466.7 483 466.3 486.4 465.8 489.7 465.5 493 465.4 496.3 465.5 499.6 465.8 503 466.3 506.5 466.7 510.1 467.1 513.7 467.3 517.2 466.9 520.5 465.8 523.5 464.1 526.2 462 528.7 459.7 531.1 457.4 533.4 455.1 535.5 452.7 537.6 450.4 539.6 448.1 541.7 445.9 543.8 443.9 546.1 442 548.5 440.2 551.1 438.4 553.7 436.6 556.4 434.7 559 432.7 561.6 430.5 564.2 428.3 566.5 425.8 568.5 423.2 569.7 420.3 570.2 417.2 570 413.9 569.5 410.8 569 407.7 568.5 404.7 568.2 401.7Z" fill="#5b5b5b"/><path d="M565.8 398.8 565.9 396 566.3 393.1 566.8 390.2 567.4 387.1 568 384 568.3 380.9 568 377.8 566.8 375 564.8 372.4 562.4 370.1 559.8 367.9 557.2 365.9 554.6 364 552 362.1 549.4 360.4 546.8 358.7 544.4 357 542.2 355.1 540.1 353.1 538.2 351 536.2 348.8 534.3 346.4 532.2 344.1 530.1 341.8 527.8 339.5 525.4 337.2 522.7 335.1 519.8 333.3 516.6 332.2 513.2 331.9 509.6 332.2 506.1 332.7 502.7 333.3 499.4 333.7 496.2 334.1 493 334.2 489.8 334.1 486.6 333.7 483.3 333.3 479.9 332.7 476.4 332.2 472.8 331.9 469.4 332.2 466.2 333.3 463.3 335.1 460.6 337.2 458.2 339.5 455.9 341.8 453.8 344.1 451.7 346.4 449.8 348.8 447.8 351 445.9 353.1 443.8 355.1 441.6 357 439.2 358.7 436.6 360.4 434 362.1 431.4 364 428.8 365.9 426.2 367.9 423.6 370.1 421.2 372.4 419.2 375 418 377.8 417.7 380.9 418 384 418.6 387.1 419.2 390.2 419.7 393.1 420.1 396 420.2 398.8 420.1 401.6 419.7 404.5 419.2 407.4 418.6 410.5 418 413.6 417.7 416.7 418 419.8 419.2 422.6 421.2 425.2 423.6 427.5 426.2 429.7 428.8 431.7 431.4 433.6 434 435.5 436.6 437.2 439.2 438.9 441.6 440.6 443.8 442.5 445.9 444.5 447.8 446.6 449.8 448.8 451.7 451.2 453.8 453.5 455.9 455.8 458.2 458.1 460.6 460.4 463.3 462.5 466.2 464.3 469.4 465.4 472.8 465.7 476.4 465.4 479.9 464.9 483.3 464.3 486.6 463.9 489.8 463.5 493 463.4 496.2 463.5 499.4 463.9 502.7 464.3 506.1 464.9 509.6 465.4 513.2 465.7 516.6 465.4 519.8 464.3 522.7 462.5 525.4 460.4 527.8 458.1 530.1 455.8 532.2 453.5 534.3 451.2 536.2 448.8 538.2 446.6 540.1 444.5 542.2 442.5 544.4 440.6 546.8 438.9 549.4 437.2 552 435.5 554.6 433.6 557.2 431.7 559.8 429.7 562.4 427.5 564.8 425.2 566.8 422.6 568 419.8 568.3 416.7 568 413.6 567.4 410.5 566.8 407.4 566.3 404.5 565.9 401.6Z" fill="#606060"/><path d="M565.1 398.8 565.3 396 565.7 393.2 566.2 390.2 566.9 387.2 567.5 384.1 567.8 381 567.5 377.9 566.3 375.1 564.3 372.5 561.9 370.2 559.4 368.1 556.8 366.1 554.2 364.2 551.6 362.4 549 360.7 546.4 359 544 357.2 541.8 355.4 539.8 353.5 537.8 351.3 535.9 349.1 534 346.8 532 344.4 529.8 342.1 527.6 339.8 525.1 337.6 522.5 335.4 519.7 333.7 516.5 332.6 513 332.3 509.5 332.6 506 333.2 502.6 333.7 499.4 334.2 496.2 334.6 493 334.7 489.8 334.6 486.6 334.2 483.4 333.7 480 333.2 476.5 332.6 473 332.3 469.5 332.6 466.3 333.7 463.5 335.4 460.9 337.6 458.4 339.8 456.2 342.1 454 344.4 452 346.8 450.1 349.1 448.2 351.3 446.2 353.5 444.2 355.4 442 357.2 439.6 359 437 360.7 434.4 362.4 431.8 364.2 429.2 366.1 426.6 368.1 424.1 370.2 421.7 372.5 419.7 375.1 418.5 377.9 418.2 381 418.5 384.1 419.1 387.2 419.8 390.2 420.3 393.2 420.7 396 420.9 398.8 420.7 401.6 420.3 404.4 419.8 407.4 419.1 410.4 418.5 413.5 418.2 416.6 418.5 419.7 419.7 422.5 421.7 425.1 424.1 427.4 426.6 429.5 429.2 431.5 431.8 433.4 434.4 435.2 437 436.9 439.6 438.6 442 440.4 444.2 442.2 446.2 444.1 448.2 446.3 450.1 448.5 452 450.8 454 453.2 456.2 455.5 458.4 457.8 460.9 460 463.5 462.2 466.3 463.9 469.5 465 473 465.3 476.5 465 480 464.4 483.4 463.9 486.6 463.4 489.8 463 493 462.9 496.2 463 499.4 463.4 502.6 463.9 506 464.4 509.5 465 513 465.3 516.5 465 519.7 463.9 522.5 462.2 525.1 460 527.6 457.8 529.8 455.5 532 453.2 534 450.8 535.9 448.5 537.8 446.3 539.8 444.1 541.8 442.2 544 440.4 546.4 438.6 549 436.9 551.6 435.2 554.2 433.4 556.8 431.5 559.4 429.5 561.9 427.4 564.3 425.1 566.3 422.5 567.5 419.7 567.8 416.6 567.5 413.5 566.9 410.4 566.2 407.4 565.7 404.4 565.3 401.6Z" fill="#616161"/><path d="M562.1 398.8 562.3 396.1 562.7 393.4 563.3 390.6 564.1 387.6 564.9 384.6 565.4 381.5 565.2 378.5 564.1 375.7 562.1 373.3 559.7 371.1 557.1 369 554.6 367.1 552 365.3 549.5 363.6 546.9 361.9 544.5 360.3 542.2 358.6 540 356.9 538.1 355 536.2 352.9 534.4 350.7 532.5 348.5 530.6 346.2 528.6 343.9 526.4 341.6 524.1 339.4 521.6 337.2 518.9 335.5 515.8 334.4 512.4 334.3 508.9 334.7 505.5 335.5 502.3 336.1 499.1 336.7 496 337.1 493 337.2 490 337.1 486.9 336.7 483.7 336.1 480.5 335.5 477.1 334.7 473.6 334.3 470.2 334.4 467.1 335.5 464.4 337.2 461.9 339.4 459.6 341.6 457.4 343.9 455.4 346.2 453.5 348.5 451.6 350.7 449.8 352.9 447.9 355 446 356.9 443.8 358.6 441.5 360.3 439.1 361.9 436.5 363.6 434 365.3 431.4 367.1 428.9 369 426.3 371.1 423.9 373.3 421.9 375.7 420.8 378.5 420.6 381.5 421.1 384.6 421.9 387.6 422.7 390.6 423.3 393.4 423.7 396.1 423.9 398.8 423.7 401.5 423.3 404.2 422.7 407 421.9 410 421.1 413 420.6 416.1 420.8 419.1 421.9 421.9 423.9 424.3 426.3 426.5 428.9 428.6 431.4 430.5 434 432.3 436.5 434 439.1 435.7 441.5 437.3 443.8 439 446 440.7 447.9 442.6 449.8 444.7 451.6 446.9 453.5 449.1 455.4 451.4 457.4 453.7 459.6 456 461.9 458.2 464.4 460.4 467.1 462.1 470.2 463.2 473.6 463.3 477.1 462.9 480.5 462.1 483.7 461.5 486.9 460.9 490 460.5 493 460.4 496 460.5 499.1 460.9 502.3 461.5 505.5 462.1 508.9 462.9 512.4 463.3 515.8 463.2 518.9 462.1 521.6 460.4 524.1 458.2 526.4 456 528.6 453.7 530.6 451.4 532.5 449.1 534.4 446.9 536.2 444.7 538.1 442.6 540 440.7 542.2 439 544.5 437.3 546.9 435.7 549.5 434 552 432.3 554.6 430.5 557.1 428.6 559.7 426.5 562.1 424.3 564.1 421.9 565.2 419.1 565.4 416.1 564.9 413 564.1 410 563.3 407 562.7 404.2 562.3 401.5Z" fill="#676767"/><path d="M559 398.8 559.2 396.2 559.7 393.6 560.4 390.9 561.3 388 562.3 385.1 563 382 563 379.1 561.9 376.4 559.9 374 557.5 371.9 554.9 370 552.4 368.1 549.9 366.4 547.4 364.7 544.9 363.2 542.6 361.6 540.3 360 538.3 358.3 536.4 356.5 534.6 354.5 532.9 352.4 531.1 350.2 529.3 347.9 527.3 345.7 525.2 343.4 523.1 341.2 520.7 339 518.1 337.2 515.1 336.3 511.8 336.2 508.4 336.9 505 337.7 501.9 338.5 498.8 339.2 495.9 339.6 493 339.8 490.1 339.6 487.2 339.2 484.1 338.5 481 337.7 477.6 336.9 474.2 336.2 470.9 336.3 467.9 337.2 465.3 339 462.9 341.2 460.8 343.4 458.7 345.7 456.7 347.9 454.9 350.2 453.1 352.4 451.4 354.5 449.6 356.5 447.7 358.3 445.7 360 443.4 361.6 441.1 363.2 438.6 364.7 436.1 366.4 433.6 368.1 431.1 370 428.5 371.9 426.1 374 424.1 376.4 423 379.1 423 382 423.7 385.1 424.7 388 425.6 390.9 426.3 393.6 426.8 396.2 427 398.8 426.8 401.4 426.3 404 425.6 406.7 424.7 409.6 423.7 412.5 423 415.6 423 418.5 424.1 421.2 426.1 423.6 428.5 425.7 431.1 427.6 433.6 429.5 436.1 431.2 438.6 432.9 441.1 434.4 443.4 436 445.7 437.6 447.7 439.3 449.6 441.1 451.4 443.1 453.1 445.2 454.9 447.4 456.7 449.7 458.7 451.9 460.8 454.2 462.9 456.4 465.3 458.6 467.9 460.4 470.9 461.3 474.2 461.4 477.6 460.7 481 459.9 484.1 459.1 487.2 458.4 490.1 458 493 457.8 495.9 458 498.8 458.4 501.9 459.1 505 459.9 508.4 460.7 511.8 461.4 515.1 461.3 518.1 460.4 520.7 458.6 523.1 456.4 525.2 454.2 527.3 451.9 529.3 449.7 531.1 447.4 532.9 445.2 534.6 443.1 536.4 441.1 538.3 439.3 540.3 437.6 542.6 436 544.9 434.4 547.4 432.9 549.9 431.2 552.4 429.5 554.9 427.6 557.5 425.7 559.9 423.6 561.9 421.2 563 418.5 563 415.6 562.3 412.5 561.3 409.6 560.4 406.7 559.7 404 559.2 401.4Z" fill="#6e6e6e"/><path d="M558.1 398.8 558.3 396.2 558.8 393.6 559.5 391 560.5 388.2 561.5 385.2 562.3 382.2 562.3 379.3 561.2 376.6 559.2 374.3 556.8 372.2 554.3 370.3 551.7 368.4 549.3 366.7 546.8 365.1 544.4 363.5 542 362 539.8 360.4 537.7 358.8 535.9 356.9 534.1 355 532.4 352.8 530.7 350.7 528.8 348.5 526.9 346.2 524.9 344 522.7 341.7 520.4 339.5 517.8 337.8 514.8 336.8 511.6 336.8 508.2 337.5 504.9 338.4 501.8 339.3 498.8 339.9 495.9 340.4 493 340.5 490.1 340.4 487.2 339.9 484.2 339.3 481.1 338.4 477.8 337.5 474.4 336.8 471.2 336.8 468.2 337.8 465.6 339.5 463.3 341.7 461.1 344 459.1 346.2 457.2 348.5 455.3 350.7 453.6 352.8 451.9 355 450.1 356.9 448.3 358.8 446.2 360.4 444 362 441.6 363.5 439.2 365.1 436.7 366.7 434.3 368.4 431.7 370.3 429.2 372.2 426.8 374.3 424.8 376.6 423.7 379.3 423.7 382.2 424.5 385.2 425.5 388.2 426.5 391 427.2 393.6 427.7 396.2 427.9 398.8 427.7 401.4 427.2 404 426.5 406.6 425.5 409.4 424.5 412.4 423.7 415.4 423.7 418.3 424.8 421 426.8 423.3 429.2 425.4 431.7 427.3 434.3 429.2 436.7 430.9 439.2 432.5 441.6 434.1 444 435.6 446.2 437.2 448.3 438.8 450.1 440.7 451.9 442.6 453.6 444.8 455.3 446.9 457.2 449.1 459.1 451.4 461.1 453.6 463.3 455.9 465.6 458.1 468.2 459.8 471.2 460.8 474.4 460.8 477.8 460.1 481.1 459.2 484.2 458.3 487.2 457.7 490.1 457.2 493 457.1 495.9 457.2 498.8 457.7 501.8 458.3 504.9 459.2 508.2 460.1 511.6 460.8 514.8 460.8 517.8 459.8 520.4 458.1 522.7 455.9 524.9 453.6 526.9 451.4 528.8 449.1 530.7 446.9 532.4 444.8 534.1 442.6 535.9 440.7 537.7 438.8 539.8 437.2 542 435.6 544.4 434.1 546.8 432.5 549.3 430.9 551.7 429.2 554.3 427.3 556.8 425.4 559.2 423.3 561.2 421 562.3 418.3 562.3 415.4 561.5 412.4 560.5 409.4 559.5 406.6 558.8 404 558.3 401.4Z" fill="#707070"/><path d="M555.9 398.8 556.1 396.3 556.6 393.8 557.4 391.2 558.5 388.4 559.6 385.5 560.5 382.6 560.6 379.7 559.6 377 557.6 374.8 555.2 372.8 552.7 370.9 550.2 369.1 547.8 367.5 545.4 365.9 543 364.4 540.7 362.9 538.5 361.4 536.5 359.7 534.7 357.9 533 356 531.3 353.9 529.7 351.8 527.9 349.6 526 347.4 524.1 345.2 522 343 519.8 340.8 517.2 339 514.3 338.1 511.1 338.2 507.8 339 504.5 340 501.5 340.9 498.6 341.6 495.8 342.1 493 342.3 490.2 342.1 487.4 341.6 484.5 340.9 481.5 340 478.2 339 474.9 338.2 471.7 338.1 468.8 339 466.2 340.8 464 343 461.9 345.2 460 347.4 458.1 349.6 456.3 351.8 454.7 353.9 453 356 451.3 357.9 449.5 359.7 447.5 361.4 445.3 362.9 443 364.4 440.6 365.9 438.2 367.5 435.8 369.1 433.3 370.9 430.8 372.8 428.4 374.8 426.4 377 425.4 379.7 425.5 382.6 426.4 385.5 427.5 388.4 428.6 391.2 429.4 393.8 429.9 396.3 430.1 398.8 429.9 401.3 429.4 403.8 428.6 406.4 427.5 409.2 426.4 412.1 425.5 415 425.4 417.9 426.4 420.6 428.4 422.8 430.8 424.8 433.3 426.7 435.8 428.5 438.2 430.1 440.6 431.7 443 433.2 445.3 434.7 447.5 436.2 449.5 437.9 451.3 439.7 453 441.6 454.7 443.7 456.3 445.8 458.1 448 460 450.2 461.9 452.4 464 454.6 466.2 456.8 468.8 458.6 471.7 459.5 474.9 459.4 478.2 458.6 481.5 457.6 484.5 456.7 487.4 456 490.2 455.5 493 455.3 495.8 455.5 498.6 456 501.5 456.7 504.5 457.6 507.8 458.6 511.1 459.4 514.3 459.5 517.2 458.6 519.8 456.8 522 454.6 524.1 452.4 526 450.2 527.9 448 529.7 445.8 531.3 443.7 533 441.6 534.7 439.7 536.5 437.9 538.5 436.2 540.7 434.7 543 433.2 545.4 431.7 547.8 430.1 550.2 428.5 552.7 426.7 555.2 424.8 557.6 422.8 559.6 420.6 560.6 417.9 560.5 415 559.6 412.1 558.5 409.2 557.4 406.4 556.6 403.8 556.1 401.3Z" fill="#747474"/><path d="M553.9 398.8 554.1 396.4 554.6 393.9 555.5 391.4 556.6 388.7 557.8 385.8 558.8 382.9 559 380 558 377.4 556.1 375.2 553.7 373.2 551.2 371.4 548.8 369.7 546.5 368 544.1 366.5 541.8 365 539.6 363.5 537.5 362 535.5 360.4 533.7 358.6 532.1 356.7 530.4 354.7 528.8 352.6 527.1 350.5 525.2 348.4 523.3 346.2 521.3 344 519.1 341.8 516.7 340.1 513.8 339.2 510.6 339.4 507.4 340.3 504.2 341.4 501.2 342.4 498.4 343.2 495.7 343.6 493 343.8 490.3 343.6 487.6 343.2 484.8 342.4 481.8 341.4 478.6 340.3 475.4 339.4 472.2 339.2 469.3 340.1 466.9 341.8 464.7 344 462.7 346.2 460.8 348.4 458.9 350.5 457.2 352.6 455.6 354.7 453.9 356.7 452.3 358.6 450.5 360.4 448.5 362 446.4 363.5 444.2 365 441.9 366.5 439.5 368 437.2 369.7 434.8 371.4 432.3 373.2 429.9 375.2 428 377.4 427 380 427.2 382.9 428.2 385.8 429.4 388.7 430.5 391.4 431.4 393.9 431.9 396.4 432.1 398.8 431.9 401.2 431.4 403.7 430.5 406.2 429.4 408.9 428.2 411.8 427.2 414.7 427 417.6 428 420.2 429.9 422.4 432.3 424.4 434.8 426.2 437.2 427.9 439.5 429.6 441.9 431.1 444.2 432.6 446.4 434.1 448.5 435.6 450.5 437.2 452.3 439 453.9 440.9 455.6 442.9 457.2 445 458.9 447.1 460.8 449.2 462.7 451.4 464.7 453.6 466.9 455.8 469.3 457.5 472.2 458.4 475.4 458.2 478.6 457.3 481.8 456.2 484.8 455.2 487.6 454.4 490.3 454 493 453.8 495.7 454 498.4 454.4 501.2 455.2 504.2 456.2 507.4 457.3 510.6 458.2 513.8 458.4 516.7 457.5 519.1 455.8 521.3 453.6 523.3 451.4 525.2 449.2 527.1 447.1 528.8 445 530.4 442.9 532.1 440.9 533.7 439 535.5 437.2 537.5 435.6 539.6 434.1 541.8 432.6 544.1 431.1 546.5 429.6 548.8 427.9 551.2 426.2 553.7 424.4 556.1 422.4 558 420.2 559 417.6 558.8 414.7 557.8 411.8 556.6 408.9 555.5 406.2 554.6 403.7 554.1 401.2Z" fill="#787878"/><path d="M552.5 398.8 552.7 396.4 553.3 394 554.2 391.5 555.3 388.8 556.6 386 557.7 383.1 558 380.2 557 377.7 555.1 375.5 552.7 373.6 550.3 371.8 547.9 370.1 545.6 368.4 543.3 366.9 541.1 365.4 538.9 363.9 536.8 362.4 534.9 360.8 533.1 359.1 531.5 357.2 529.9 355.2 528.2 353.2 526.5 351.1 524.7 349 522.8 346.9 520.8 344.7 518.7 342.5 516.3 340.7 513.5 339.9 510.3 340.1 507.1 341.1 504 342.3 501.1 343.3 498.3 344.1 495.6 344.6 493 344.8 490.4 344.6 487.7 344.1 484.9 343.3 482 342.3 478.9 341.1 475.7 340.1 472.5 339.9 469.7 340.7 467.3 342.5 465.2 344.7 463.2 346.9 461.3 349 459.5 351.1 457.8 353.2 456.1 355.2 454.5 357.2 452.9 359.1 451.1 360.8 449.2 362.4 447.1 363.9 444.9 365.4 442.7 366.9 440.4 368.4 438.1 370.1 435.7 371.8 433.3 373.6 430.9 375.5 429 377.7 428 380.2 428.3 383.1 429.4 386 430.7 388.8 431.8 391.5 432.7 394 433.3 396.4 433.5 398.8 433.3 401.2 432.7 403.6 431.8 406.1 430.7 408.8 429.4 411.6 428.3 414.5 428 417.4 429 419.9 430.9 422.1 433.3 424 435.7 425.8 438.1 427.5 440.4 429.2 442.7 430.7 444.9 432.2 447.1 433.7 449.2 435.2 451.1 436.8 452.9 438.5 454.5 440.4 456.1 442.4 457.8 444.4 459.5 446.5 461.3 448.6 463.2 450.7 465.2 452.9 467.3 455.1 469.7 456.9 472.5 457.7 475.7 457.5 478.9 456.5 482 455.3 484.9 454.3 487.7 453.5 490.4 453 493 452.8 495.6 453 498.3 453.5 501.1 454.3 504 455.3 507.1 456.5 510.3 457.5 513.5 457.7 516.3 456.9 518.7 455.1 520.8 452.9 522.8 450.7 524.7 448.6 526.5 446.5 528.2 444.4 529.9 442.4 531.5 440.4 533.1 438.5 534.9 436.8 536.8 435.2 538.9 433.7 541.1 432.2 543.3 430.7 545.6 429.2 547.9 427.5 550.3 425.8 552.7 424 555.1 422.1 557 419.9 558 417.4 557.7 414.5 556.6 411.6 555.3 408.8 554.2 406.1 553.3 403.6 552.7 401.2Z" fill="#7a7a7a"/><path d="M549.4 398.8 549.6 396.5 550.2 394.2 551.1 391.8 552.4 389.2 553.8 386.5 555.1 383.6 555.5 380.8 554.7 378.3 552.8 376.2 550.4 374.3 548.1 372.6 545.8 370.9 543.6 369.3 541.4 367.8 539.3 366.3 537.2 364.9 535.2 363.4 533.3 361.9 531.7 360.2 530.1 358.4 528.5 356.5 526.9 354.5 525.2 352.5 523.5 350.5 521.7 348.4 519.8 346.3 517.8 344.1 515.4 342.4 512.7 341.6 509.6 342 506.5 343.2 503.5 344.5 500.7 345.6 498 346.5 495.5 347 493 347.2 490.5 347 488 346.5 485.3 345.6 482.5 344.5 479.5 343.2 476.4 342 473.3 341.6 470.6 342.4 468.2 344.1 466.2 346.3 464.3 348.4 462.5 350.5 460.8 352.5 459.1 354.5 457.5 356.5 455.9 358.4 454.3 360.2 452.7 361.9 450.8 363.4 448.8 364.9 446.7 366.3 444.6 367.8 442.4 369.3 440.2 370.9 437.9 372.6 435.6 374.3 433.2 376.2 431.3 378.3 430.5 380.8 430.9 383.6 432.2 386.5 433.6 389.2 434.9 391.8 435.8 394.2 436.4 396.5 436.6 398.8 436.4 401.1 435.8 403.4 434.9 405.8 433.6 408.4 432.2 411.1 430.9 414 430.5 416.8 431.3 419.3 433.2 421.4 435.6 423.3 437.9 425 440.2 426.7 442.4 428.3 444.6 429.8 446.7 431.3 448.8 432.7 450.8 434.2 452.7 435.7 454.3 437.4 455.9 439.2 457.5 441.1 459.1 443.1 460.8 445.1 462.5 447.1 464.3 449.2 466.2 451.3 468.2 453.5 470.6 455.2 473.3 456 476.4 455.6 479.5 454.4 482.5 453.1 485.3 452 488 451.1 490.5 450.6 493 450.4 495.5 450.6 498 451.1 500.7 452 503.5 453.1 506.5 454.4 509.6 455.6 512.7 456 515.4 455.2 517.8 453.5 519.8 451.3 521.7 449.2 523.5 447.1 525.2 445.1 526.9 443.1 528.5 441.1 530.1 439.2 531.7 437.4 533.3 435.7 535.2 434.2 537.2 432.7 539.3 431.3 541.4 429.8 543.6 428.3 545.8 426.7 548.1 425 550.4 423.3 552.8 421.4 554.7 419.3 555.5 416.8 555.1 414 553.8 411.1 552.4 408.4 551.1 405.8 550.2 403.4 549.6 401.1Z" fill="#808080"/><path d="M545.9 398.8 546.2 396.7 546.8 394.4 547.8 392.1 549.1 389.7 550.7 387 552.1 384.2 552.7 381.4 551.9 379 550.1 376.9 547.8 375.2 545.5 373.5 543.4 371.9 541.3 370.3 539.3 368.8 537.2 367.4 535.3 366 533.4 364.6 531.6 363.1 530 361.5 528.5 359.7 526.9 357.9 525.4 356 523.8 354.1 522.1 352.2 520.3 350.2 518.6 348.1 516.6 346 514.4 344.3 511.8 343.6 508.8 344.2 505.8 345.5 502.9 346.9 500.2 348.2 497.7 349.1 495.3 349.7 493 349.9 490.7 349.7 488.3 349.1 485.8 348.2 483.1 346.9 480.2 345.5 477.2 344.2 474.2 343.6 471.6 344.3 469.4 346 467.4 348.1 465.7 350.2 463.9 352.2 462.2 354.1 460.6 356 459.1 357.9 457.5 359.7 456 361.5 454.4 363.1 452.6 364.6 450.7 366 448.8 367.4 446.7 368.8 444.7 370.3 442.6 371.9 440.5 373.5 438.2 375.2 435.9 376.9 434.1 379 433.3 381.4 433.9 384.2 435.3 387 436.9 389.7 438.2 392.1 439.2 394.4 439.8 396.7 440.1 398.8 439.8 400.9 439.2 403.2 438.2 405.5 436.9 407.9 435.3 410.6 433.9 413.4 433.3 416.2 434.1 418.6 435.9 420.7 438.2 422.4 440.5 424.1 442.6 425.7 444.7 427.3 446.7 428.8 448.8 430.2 450.7 431.6 452.6 433 454.4 434.5 456 436.1 457.5 437.9 459.1 439.7 460.6 441.6 462.2 443.5 463.9 445.4 465.7 447.4 467.4 449.5 469.4 451.6 471.6 453.3 474.2 454 477.2 453.4 480.2 452.1 483.1 450.7 485.8 449.4 488.3 448.5 490.7 447.9 493 447.7 495.3 447.9 497.7 448.5 500.2 449.4 502.9 450.7 505.8 452.1 508.8 453.4 511.8 454 514.4 453.3 516.6 451.6 518.6 449.5 520.3 447.4 522.1 445.4 523.8 443.5 525.4 441.6 526.9 439.7 528.5 437.9 530 436.1 531.6 434.5 533.4 433 535.3 431.6 537.2 430.2 539.3 428.8 541.3 427.3 543.4 425.7 545.5 424.1 547.8 422.4 550.1 420.7 551.9 418.6 552.7 416.2 552.1 413.4 550.7 410.6 549.1 407.9 547.8 405.5 546.8 403.2 546.2 400.9Z" fill="#858585"/><path d="M544.4 398.8 544.6 396.7 545.3 394.5 546.2 392.3 547.6 389.9 549.2 387.2 550.6 384.5 551.2 381.7 550.4 379.4 548.7 377.4 546.5 375.6 544.2 374 542.2 372.4 540.2 370.9 538.2 369.4 536.2 368 534.3 366.6 532.5 365.2 530.7 363.7 529.2 362.1 527.6 360.4 526.2 358.6 524.6 356.8 523.1 354.9 521.4 353.1 519.7 351.1 517.9 349.1 516.1 347 513.9 345.4 511.3 344.7 508.4 345.3 505.5 346.6 502.6 348 500 349.3 497.6 350.2 495.3 350.8 493 351 490.7 350.8 488.4 350.2 486 349.3 483.4 348 480.5 346.6 477.6 345.3 474.7 344.7 472.1 345.4 469.9 347 468.1 349.1 466.3 351.1 464.6 353.1 462.9 354.9 461.4 356.8 459.8 358.6 458.4 360.4 456.8 362.1 455.3 363.7 453.5 365.2 451.7 366.6 449.8 368 447.8 369.4 445.8 370.9 443.8 372.4 441.8 374 439.5 375.6 437.3 377.4 435.6 379.4 434.8 381.7 435.4 384.5 436.8 387.2 438.4 389.9 439.8 392.3 440.7 394.5 441.4 396.7 441.6 398.8 441.4 400.9 440.7 403.1 439.8 405.3 438.4 407.7 436.8 410.4 435.4 413.1 434.8 415.9 435.6 418.2 437.3 420.2 439.5 422 441.8 423.6 443.8 425.2 445.8 426.7 447.8 428.2 449.8 429.6 451.7 431 453.5 432.4 455.3 433.9 456.8 435.5 458.4 437.2 459.8 439 461.4 440.8 462.9 442.7 464.6 444.5 466.3 446.5 468.1 448.5 469.9 450.6 472.1 452.2 474.7 452.9 477.6 452.3 480.5 451 483.4 449.6 486 448.3 488.4 447.4 490.7 446.8 493 446.6 495.3 446.8 497.6 447.4 500 448.3 502.6 449.6 505.5 451 508.4 452.3 511.3 452.9 513.9 452.2 516.1 450.6 517.9 448.5 519.7 446.5 521.4 444.5 523.1 442.7 524.6 440.8 526.2 439 527.6 437.2 529.2 435.5 530.7 433.9 532.5 432.4 534.3 431 536.2 429.6 538.2 428.2 540.2 426.7 542.2 425.2 544.2 423.6 546.5 422 548.7 420.2 550.4 418.2 551.2 415.9 550.6 413.1 549.2 410.4 547.6 407.7 546.2 405.3 545.3 403.1 544.6 400.9Z" fill="#878787"/><path d="M542.7 398.8 543 396.8 543.6 394.7 544.6 392.4 545.9 390.1 547.5 387.5 548.9 384.8 549.5 382.1 548.8 379.8 547.1 377.8 545 376.1 542.8 374.5 540.8 372.9 538.9 371.4 537 370 535.1 368.6 533.2 367.2 531.5 365.8 529.8 364.4 528.2 362.8 526.8 361.1 525.3 359.4 523.8 357.6 522.3 355.8 520.6 354 518.9 352.2 517.2 350.2 515.4 348.1 513.3 346.5 510.8 345.9 508 346.5 505.1 347.8 502.3 349.3 499.8 350.5 497.4 351.5 495.2 352 493 352.2 490.8 352 488.6 351.5 486.2 350.5 483.7 349.3 480.9 347.8 478 346.5 475.2 345.9 472.7 346.5 470.6 348.1 468.8 350.2 467.1 352.2 465.4 354 463.7 355.8 462.2 357.6 460.7 359.4 459.2 361.1 457.8 362.8 456.2 364.4 454.5 365.8 452.8 367.2 450.9 368.6 449 370 447.1 371.4 445.2 372.9 443.2 374.5 441 376.1 438.9 377.8 437.2 379.8 436.5 382.1 437.1 384.8 438.5 387.5 440.1 390.1 441.4 392.4 442.4 394.7 443 396.8 443.3 398.8 443 400.8 442.4 402.9 441.4 405.2 440.1 407.5 438.5 410.1 437.1 412.8 436.5 415.5 437.2 417.8 438.9 419.8 441 421.5 443.2 423.1 445.2 424.7 447.1 426.2 449 427.6 450.9 429 452.8 430.4 454.5 431.8 456.2 433.2 457.8 434.8 459.2 436.5 460.7 438.2 462.2 440 463.7 441.8 465.4 443.6 467.1 445.4 468.8 447.4 470.6 449.5 472.7 451.1 475.2 451.7 478 451.1 480.9 449.8 483.7 448.3 486.2 447.1 488.6 446.1 490.8 445.6 493 445.4 495.2 445.6 497.4 446.1 499.8 447.1 502.3 448.3 505.1 449.8 508 451.1 510.8 451.7 513.3 451.1 515.4 449.5 517.2 447.4 518.9 445.4 520.6 443.6 522.3 441.8 523.8 440 525.3 438.2 526.8 436.5 528.2 434.8 529.8 433.2 531.5 431.8 533.2 430.4 535.1 429 537 427.6 538.9 426.2 540.8 424.7 542.8 423.1 545 421.5 547.1 419.8 548.8 417.8 549.5 415.5 548.9 412.8 547.5 410.1 545.9 407.5 544.6 405.2 543.6 402.9 543 400.8Z" fill="#8a8a8a"/><path d="M539.6 398.8 539.8 396.9 540.4 394.9 541.4 392.8 542.7 390.5 544.3 388 545.8 385.4 546.4 382.8 545.8 380.6 544.2 378.7 542.2 377.1 540.2 375.5 538.3 374 536.6 372.5 534.8 371.1 533 369.7 531.3 368.4 529.6 367 528 365.6 526.5 364.1 525.1 362.5 523.7 360.9 522.3 359.2 520.8 357.5 519.2 355.8 517.6 354.1 515.9 352.2 514.2 350.3 512.2 348.7 509.8 348.2 507.1 348.8 504.4 350.2 501.8 351.7 499.4 352.9 497.2 353.8 495 354.4 493 354.6 491 354.4 488.8 353.8 486.6 352.9 484.2 351.7 481.6 350.2 478.9 348.8 476.2 348.2 473.8 348.7 471.8 350.3 470.1 352.2 468.4 354.1 466.8 355.8 465.2 357.5 463.7 359.2 462.3 360.9 460.9 362.5 459.5 364.1 458 365.6 456.4 367 454.7 368.4 453 369.7 451.2 371.1 449.4 372.5 447.7 374 445.8 375.5 443.8 377.1 441.8 378.7 440.2 380.6 439.6 382.8 440.2 385.4 441.7 388 443.3 390.5 444.6 392.8 445.6 394.9 446.2 396.9 446.4 398.8 446.2 400.7 445.6 402.7 444.6 404.8 443.3 407.1 441.7 409.6 440.2 412.2 439.6 414.8 440.2 417 441.8 418.9 443.8 420.5 445.8 422.1 447.7 423.6 449.4 425.1 451.2 426.5 453 427.9 454.7 429.2 456.4 430.6 458 432 459.5 433.5 460.9 435.1 462.3 436.7 463.7 438.4 465.2 440.1 466.8 441.8 468.4 443.5 470.1 445.4 471.8 447.3 473.8 448.9 476.2 449.4 478.9 448.8 481.6 447.4 484.2 445.9 486.6 444.7 488.8 443.8 491 443.2 493 443 495 443.2 497.2 443.8 499.4 444.7 501.8 445.9 504.4 447.4 507.1 448.8 509.8 449.4 512.2 448.9 514.2 447.3 515.9 445.4 517.6 443.5 519.2 441.8 520.8 440.1 522.3 438.4 523.7 436.7 525.1 435.1 526.5 433.5 528 432 529.6 430.6 531.3 429.2 533 427.9 534.8 426.5 536.6 425.1 538.3 423.6 540.2 422.1 542.2 420.5 544.2 418.9 545.8 417 546.4 414.8 545.8 412.2 544.3 409.6 542.7 407.1 541.4 404.8 540.4 402.7 539.8 400.7Z" fill="#8e8e8e"/><path d="M538.8 398.8 539 396.9 539.6 394.9 540.5 392.9 541.8 390.6 543.4 388.2 544.8 385.6 545.4 383.1 544.9 380.9 543.3 379 541.4 377.4 539.4 375.8 537.6 374.3 535.9 372.8 534.2 371.4 532.5 370 530.7 368.7 529.1 367.4 527.5 366 526.1 364.5 524.7 362.9 523.3 361.3 521.8 359.7 520.3 358 518.8 356.4 517.2 354.7 515.6 352.8 513.9 351 511.9 349.5 509.5 349 506.9 349.6 504.2 350.9 501.6 352.4 499.3 353.7 497.1 354.5 495 355.1 493 355.3 491 355.1 488.9 354.5 486.7 353.7 484.4 352.4 481.8 350.9 479.1 349.6 476.5 349 474.1 349.5 472.1 351 470.4 352.8 468.8 354.7 467.2 356.4 465.7 358 464.2 359.7 462.7 361.3 461.3 362.9 459.9 364.5 458.5 366 456.9 367.4 455.3 368.7 453.5 370 451.8 371.4 450.1 372.8 448.4 374.3 446.6 375.8 444.6 377.4 442.7 379 441.1 380.9 440.6 383.1 441.2 385.6 442.6 388.2 444.2 390.6 445.5 392.9 446.4 394.9 447 396.9 447.2 398.8 447 400.7 446.4 402.7 445.5 404.7 444.2 407 442.6 409.4 441.2 412 440.6 414.5 441.1 416.7 442.7 418.6 444.6 420.2 446.6 421.8 448.4 423.3 450.1 424.8 451.8 426.2 453.5 427.6 455.3 428.9 456.9 430.2 458.5 431.6 459.9 433.1 461.3 434.7 462.7 436.3 464.2 437.9 465.7 439.6 467.2 441.2 468.8 442.9 470.4 444.8 472.1 446.6 474.1 448.1 476.5 448.6 479.1 448 481.8 446.7 484.4 445.2 486.7 443.9 488.9 443.1 491 442.5 493 442.3 495 442.5 497.1 443.1 499.3 443.9 501.6 445.2 504.2 446.7 506.9 448 509.5 448.6 511.9 448.1 513.9 446.6 515.6 444.8 517.2 442.9 518.8 441.2 520.3 439.6 521.8 437.9 523.3 436.3 524.7 434.7 526.1 433.1 527.5 431.6 529.1 430.2 530.7 428.9 532.5 427.6 534.2 426.2 535.9 424.8 537.6 423.3 539.4 421.8 541.4 420.2 543.3 418.6 544.9 416.7 545.4 414.5 544.8 412 543.4 409.4 541.8 407 540.5 404.7 539.6 402.7 539 400.7Z" fill="#8f8f8f"/><path d="M537.3 398.8 537.5 397 538 395.1 538.8 393.1 540 390.9 541.4 388.6 542.6 386.2 543.2 383.8 542.7 381.6 541.3 379.8 539.6 378.2 537.9 376.6 536.3 375.1 534.7 373.6 533.1 372.1 531.5 370.7 529.9 369.4 528.4 368 526.8 366.7 525.4 365.2 524 363.7 522.6 362.2 521.1 360.7 519.6 359.2 518 357.7 516.4 356.2 514.7 354.5 513 352.9 511.1 351.6 508.8 351.1 506.3 351.6 503.7 352.8 501.3 354.2 499 355.3 496.9 356 494.9 356.5 493 356.7 491.1 356.5 489.1 356 487 355.3 484.7 354.2 482.3 352.8 479.7 351.6 477.2 351.1 474.9 351.6 473 352.9 471.3 354.5 469.6 356.2 468 357.7 466.4 359.2 464.9 360.7 463.4 362.2 462 363.7 460.6 365.2 459.2 366.7 457.6 368 456.1 369.4 454.5 370.7 452.9 372.1 451.3 373.6 449.7 375.1 448.1 376.6 446.4 378.2 444.7 379.8 443.3 381.6 442.8 383.8 443.4 386.2 444.6 388.6 446 390.9 447.2 393.1 448 395.1 448.5 397 448.7 398.8 448.5 400.6 448 402.5 447.2 404.5 446 406.7 444.6 409 443.4 411.4 442.8 413.8 443.3 416 444.7 417.8 446.4 419.4 448.1 421 449.7 422.5 451.3 424 452.9 425.5 454.5 426.9 456.1 428.2 457.6 429.6 459.2 430.9 460.6 432.4 462 433.9 463.4 435.4 464.9 436.9 466.4 438.4 468 439.9 469.6 441.4 471.3 443.1 473 444.7 474.9 446 477.2 446.5 479.7 446 482.3 444.8 484.7 443.4 487 442.3 489.1 441.6 491.1 441.1 493 440.9 494.9 441.1 496.9 441.6 499 442.3 501.3 443.4 503.7 444.8 506.3 446 508.8 446.5 511.1 446 513 444.7 514.7 443.1 516.4 441.4 518 439.9 519.6 438.4 521.1 436.9 522.6 435.4 524 433.9 525.4 432.4 526.8 430.9 528.4 429.6 529.9 428.2 531.5 426.9 533.1 425.5 534.7 424 536.3 422.5 537.9 421 539.6 419.4 541.3 417.8 542.7 416 543.2 413.8 542.6 411.4 541.4 409 540 406.7 538.8 404.5 538 402.5 537.5 400.6Z" fill="#949494"/><path d="M535.9 398.8 536.1 397 536.5 395.2 537.2 393.3 538.2 391.2 539.5 389 540.6 386.7 541.1 384.4 540.7 382.3 539.5 380.5 537.9 378.9 536.4 377.3 535 375.8 533.5 374.3 532.1 372.8 530.6 371.4 529.1 370 527.6 368.6 526.2 367.3 524.7 365.9 523.3 364.5 521.9 363 520.4 361.6 518.8 360.3 517.2 358.9 515.6 357.6 513.9 356.1 512.2 354.7 510.3 353.5 508.2 353.1 505.7 353.6 503.3 354.7 501 355.8 498.8 356.8 496.8 357.5 494.9 357.9 493 358.1 491.1 357.9 489.2 357.5 487.2 356.8 485 355.8 482.7 354.7 480.3 353.6 477.8 353.1 475.7 353.5 473.8 354.7 472.1 356.1 470.4 357.6 468.8 358.9 467.2 360.3 465.6 361.6 464.1 363 462.7 364.5 461.3 365.9 459.8 367.3 458.4 368.6 456.9 370 455.4 371.4 453.9 372.8 452.5 374.3 451 375.8 449.6 377.3 448.1 378.9 446.5 380.5 445.3 382.3 444.9 384.4 445.4 386.7 446.5 389 447.8 391.2 448.8 393.3 449.5 395.2 449.9 397 450.1 398.8 449.9 400.6 449.5 402.4 448.8 404.3 447.8 406.4 446.5 408.6 445.4 410.9 444.9 413.2 445.3 415.3 446.5 417.1 448.1 418.7 449.6 420.3 451 421.8 452.5 423.3 453.9 424.8 455.4 426.2 456.9 427.6 458.4 429 459.8 430.3 461.3 431.7 462.7 433.1 464.1 434.6 465.6 436 467.2 437.3 468.8 438.7 470.4 440 472.1 441.5 473.8 442.9 475.7 444.1 477.8 444.5 480.3 444 482.7 442.9 485 441.8 487.2 440.8 489.2 440.1 491.1 439.7 493 439.5 494.9 439.7 496.8 440.1 498.8 440.8 501 441.8 503.3 442.9 505.7 444 508.2 444.5 510.3 444.1 512.2 442.9 513.9 441.5 515.6 440 517.2 438.7 518.8 437.3 520.4 436 521.9 434.6 523.3 433.1 524.7 431.7 526.2 430.3 527.6 429 529.1 427.6 530.6 426.2 532.1 424.8 533.5 423.3 535 421.8 536.4 420.3 537.9 418.7 539.5 417.1 540.7 415.3 541.1 413.2 540.6 410.9 539.5 408.6 538.2 406.4 537.2 404.3 536.5 402.4 536.1 400.6Z" fill="#979797"/><path d="M535.1 398.8 535.3 397 535.7 395.2 536.4 393.4 537.3 391.4 538.5 389.2 539.5 387 540 384.7 539.6 382.7 538.5 380.9 537 379.3 535.6 377.7 534.3 376.2 532.9 374.6 531.6 373.1 530.2 371.7 528.7 370.3 527.3 369 525.8 367.6 524.4 366.2 523 364.9 521.5 363.5 520 362.2 518.4 360.9 516.8 359.6 515.2 358.3 513.5 357 511.8 355.6 510 354.5 507.8 354.2 505.5 354.6 503.1 355.6 500.8 356.7 498.7 357.6 496.7 358.2 494.8 358.6 493 358.8 491.2 358.6 489.3 358.2 487.3 357.6 485.2 356.7 482.9 355.6 480.5 354.6 478.2 354.2 476 354.5 474.2 355.6 472.5 357 470.8 358.3 469.2 359.6 467.6 360.9 466 362.2 464.5 363.5 463 364.9 461.6 366.2 460.2 367.6 458.7 369 457.3 370.3 455.8 371.7 454.4 373.1 453.1 374.6 451.7 376.2 450.4 377.7 449 379.3 447.5 380.9 446.4 382.7 446 384.7 446.5 387 447.5 389.2 448.7 391.4 449.6 393.4 450.3 395.2 450.7 397 450.9 398.8 450.7 400.6 450.3 402.4 449.6 404.2 448.7 406.2 447.5 408.4 446.5 410.6 446 412.9 446.4 414.9 447.5 416.7 449 418.3 450.4 419.9 451.7 421.4 453.1 423 454.4 424.5 455.8 425.9 457.3 427.3 458.7 428.6 460.2 430 461.6 431.4 463 432.7 464.5 434.1 466 435.4 467.6 436.7 469.2 438 470.8 439.3 472.5 440.6 474.2 442 476 443.1 478.2 443.4 480.5 443 482.9 442 485.2 440.9 487.3 440 489.3 439.4 491.2 439 493 438.8 494.8 439 496.7 439.4 498.7 440 500.8 440.9 503.1 442 505.5 443 507.8 443.4 510 443.1 511.8 442 513.5 440.6 515.2 439.3 516.8 438 518.4 436.7 520 435.4 521.5 434.1 523 432.7 524.4 431.4 525.8 430 527.3 428.6 528.7 427.3 530.2 425.9 531.6 424.5 532.9 423 534.3 421.4 535.6 419.9 537 418.3 538.5 416.7 539.6 414.9 540 412.9 539.5 410.6 538.5 408.4 537.3 406.2 536.4 404.2 535.7 402.4 535.3 400.6Z" fill="#999999"/><path d="M533 398.8 533.1 397.1 533.4 395.4 534 393.7 534.7 391.8 535.6 389.8 536.4 387.8 536.8 385.7 536.5 383.8 535.6 382 534.5 380.4 533.3 378.8 532.3 377.3 531.2 375.7 530 374.2 528.8 372.7 527.5 371.3 526.2 369.9 524.8 368.6 523.4 367.3 522 366 520.5 364.8 518.9 363.6 517.3 362.5 515.7 361.5 514 360.5 512.3 359.4 510.6 358.3 508.8 357.5 506.8 357.2 504.6 357.6 502.4 358.4 500.3 359.2 498.4 359.9 496.5 360.4 494.8 360.7 493 360.8 491.2 360.7 489.5 360.4 487.6 359.9 485.7 359.2 483.6 358.4 481.4 357.6 479.2 357.2 477.2 357.5 475.4 358.3 473.7 359.4 472 360.5 470.3 361.5 468.7 362.5 467.1 363.6 465.5 364.8 464 366 462.6 367.3 461.2 368.6 459.8 369.9 458.5 371.3 457.2 372.7 456 374.2 454.8 375.7 453.7 377.3 452.7 378.8 451.5 380.4 450.4 382 449.5 383.8 449.2 385.7 449.6 387.8 450.4 389.8 451.3 391.8 452 393.7 452.6 395.4 452.9 397.1 453 398.8 452.9 400.5 452.6 402.2 452 403.9 451.3 405.8 450.4 407.8 449.6 409.8 449.2 411.9 449.5 413.8 450.4 415.6 451.5 417.2 452.7 418.8 453.7 420.3 454.8 421.9 456 423.4 457.2 424.9 458.5 426.3 459.8 427.7 461.2 429 462.6 430.3 464 431.6 465.5 432.8 467.1 434 468.7 435.1 470.3 436.1 472 437.1 473.7 438.2 475.4 439.3 477.2 440.1 479.2 440.4 481.4 440 483.6 439.2 485.7 438.4 487.6 437.7 489.5 437.2 491.2 436.9 493 436.8 494.8 436.9 496.5 437.2 498.4 437.7 500.3 438.4 502.4 439.2 504.6 440 506.8 440.4 508.8 440.1 510.6 439.3 512.3 438.2 514 437.1 515.7 436.1 517.3 435.1 518.9 434 520.5 432.8 522 431.6 523.4 430.3 524.8 429 526.2 427.7 527.5 426.3 528.8 424.9 530 423.4 531.2 421.9 532.3 420.3 533.3 418.8 534.5 417.2 535.6 415.6 536.5 413.8 536.8 411.9 536.4 409.8 535.6 407.8 534.7 405.8 534 403.9 533.4 402.2 533.1 400.5Z" fill="#9f9f9f"/><path d="M531.5 398.8 531.6 397.2 531.9 395.6 532.3 393.9 532.9 392.1 533.6 390.2 534.3 388.3 534.6 386.3 534.4 384.5 533.8 382.8 533 381.1 532.1 379.5 531.2 377.8 530.3 376.2 529.3 374.7 528.2 373.2 527 371.7 525.7 370.3 524.4 369 523 367.7 521.5 366.5 520 365.4 518.4 364.3 516.8 363.4 515.1 362.5 513.4 361.7 511.6 360.8 509.9 360.1 508.1 359.5 506.1 359.3 504.1 359.6 502 360.2 500 360.9 498.2 361.4 496.4 361.8 494.7 362.1 493 362.2 491.3 362.1 489.6 361.8 487.8 361.4 486 360.9 484 360.2 481.9 359.6 479.9 359.3 477.9 359.5 476.1 360.1 474.4 360.8 472.6 361.7 470.9 362.5 469.2 363.4 467.6 364.3 466 365.4 464.5 366.5 463 367.7 461.6 369 460.3 370.3 459 371.7 457.8 373.2 456.7 374.7 455.7 376.2 454.8 377.8 453.9 379.5 453 381.1 452.2 382.8 451.6 384.5 451.4 386.3 451.7 388.3 452.4 390.2 453.1 392.1 453.7 393.9 454.1 395.6 454.4 397.2 454.5 398.8 454.4 400.4 454.1 402 453.7 403.7 453.1 405.5 452.4 407.4 451.7 409.3 451.4 411.3 451.6 413.1 452.2 414.8 453 416.5 453.9 418.1 454.8 419.8 455.7 421.4 456.7 422.9 457.8 424.4 459 425.9 460.3 427.3 461.6 428.6 463 429.9 464.5 431.1 466 432.2 467.6 433.3 469.2 434.2 470.9 435.1 472.6 435.9 474.4 436.8 476.1 437.5 477.9 438.1 479.9 438.3 481.9 438 484 437.4 486 436.7 487.8 436.2 489.6 435.8 491.3 435.5 493 435.4 494.7 435.5 496.4 435.8 498.2 436.2 500 436.7 502 437.4 504.1 438 506.1 438.3 508.1 438.1 509.9 437.5 511.6 436.8 513.4 435.9 515.1 435.1 516.8 434.2 518.4 433.3 520 432.2 521.5 431.1 523 429.9 524.4 428.6 525.7 427.3 527 425.9 528.2 424.4 529.3 422.9 530.3 421.4 531.2 419.8 532.1 418.1 533 416.5 533.8 414.8 534.4 413.1 534.6 411.3 534.3 409.3 533.6 407.4 532.9 405.5 532.3 403.7 531.9 402 531.6 400.4Z" fill="#a7a7a7"/><path d="M530.7 398.8 530.8 397.2 531 395.6 531.4 394 531.9 392.3 532.5 390.5 533 388.6 533.3 386.7 533.1 384.9 532.7 383.2 532 381.5 531.3 379.8 530.6 378.2 529.8 376.6 528.8 375 527.8 373.4 526.7 372 525.4 370.6 524.1 369.2 522.7 368 521.2 366.8 519.7 365.7 518.1 364.8 516.4 363.9 514.7 363.1 513 362.4 511.2 361.7 509.4 361.1 507.6 360.7 505.7 360.6 503.7 360.8 501.7 361.3 499.9 361.9 498.1 362.3 496.3 362.7 494.6 362.9 493 363 491.4 362.9 489.7 362.7 487.9 362.3 486.1 361.9 484.3 361.3 482.3 360.8 480.3 360.6 478.4 360.7 476.6 361.1 474.8 361.7 473 362.4 471.3 363.1 469.6 363.9 467.9 364.8 466.3 365.7 464.8 366.8 463.3 368 461.9 369.2 460.6 370.6 459.3 372 458.2 373.4 457.2 375 456.2 376.6 455.4 378.2 454.7 379.8 454 381.5 453.3 383.2 452.9 384.9 452.7 386.7 453 388.6 453.5 390.5 454.1 392.3 454.6 394 455 395.6 455.2 397.2 455.3 398.8 455.2 400.4 455 402 454.6 403.6 454.1 405.3 453.5 407.1 453 409 452.7 410.9 452.9 412.7 453.3 414.4 454 416.1 454.7 417.8 455.4 419.4 456.2 421 457.2 422.6 458.2 424.2 459.3 425.6 460.6 427 461.9 428.4 463.3 429.6 464.8 430.8 466.3 431.9 467.9 432.8 469.6 433.7 471.3 434.5 473 435.2 474.8 435.9 476.6 436.5 478.4 436.9 480.3 437 482.3 436.8 484.3 436.3 486.1 435.7 487.9 435.3 489.7 434.9 491.4 434.7 493 434.6 494.6 434.7 496.3 434.9 498.1 435.3 499.9 435.7 501.7 436.3 503.7 436.8 505.7 437 507.6 436.9 509.4 436.5 511.2 435.9 513 435.2 514.7 434.5 516.4 433.7 518.1 432.8 519.7 431.9 521.2 430.8 522.7 429.6 524.1 428.4 525.4 427 526.7 425.6 527.8 424.2 528.8 422.6 529.8 421 530.6 419.4 531.3 417.8 532 416.1 532.7 414.4 533.1 412.7 533.3 410.9 533 409 532.5 407.1 531.9 405.3 531.4 403.6 531 402 530.8 400.4Z" fill="#acacac"/><path d="M530.1 398.8 530.2 397.3 530.4 395.7 530.7 394.1 531.2 392.4 531.7 390.7 532.1 388.8 532.4 387 532.3 385.2 532 383.5 531.4 381.8 530.8 380.1 530.2 378.4 529.4 376.8 528.5 375.2 527.5 373.6 526.4 372.1 525.2 370.7 523.9 369.4 522.5 368.2 521.1 367 519.5 366 517.9 365 516.2 364.2 514.5 363.5 512.7 362.9 510.9 362.3 509.1 361.8 507.3 361.5 505.4 361.4 503.5 361.6 501.6 362.1 499.7 362.5 498 363 496.3 363.3 494.6 363.5 493 363.6 491.4 363.5 489.7 363.3 488 363 486.3 362.5 484.4 362.1 482.5 361.6 480.6 361.4 478.7 361.5 476.9 361.8 475.1 362.3 473.3 362.9 471.5 363.5 469.8 364.2 468.1 365 466.5 366 464.9 367 463.5 368.2 462.1 369.4 460.8 370.7 459.6 372.1 458.5 373.6 457.5 375.2 456.6 376.8 455.8 378.4 455.2 380.1 454.6 381.8 454 383.5 453.7 385.2 453.6 387 453.9 388.8 454.3 390.7 454.8 392.4 455.3 394.1 455.6 395.7 455.8 397.3 455.9 398.8 455.8 400.3 455.6 401.9 455.3 403.5 454.8 405.2 454.3 406.9 453.9 408.8 453.6 410.6 453.7 412.4 454 414.1 454.6 415.8 455.2 417.5 455.8 419.2 456.6 420.8 457.5 422.4 458.5 424 459.6 425.5 460.8 426.9 462.1 428.2 463.5 429.4 464.9 430.6 466.5 431.6 468.1 432.6 469.8 433.4 471.5 434.1 473.3 434.7 475.1 435.3 476.9 435.8 478.7 436.1 480.6 436.2 482.5 436 484.4 435.5 486.3 435.1 488 434.6 489.7 434.3 491.4 434.1 493 434 494.6 434.1 496.3 434.3 498 434.6 499.7 435.1 501.6 435.5 503.5 436 505.4 436.2 507.3 436.1 509.1 435.8 510.9 435.3 512.7 434.7 514.5 434.1 516.2 433.4 517.9 432.6 519.5 431.6 521.1 430.6 522.5 429.4 523.9 428.2 525.2 426.9 526.4 425.5 527.5 424 528.5 422.4 529.4 420.8 530.2 419.2 530.8 417.5 531.4 415.8 532 414.1 532.3 412.4 532.4 410.6 532.1 408.8 531.7 406.9 531.2 405.2 530.7 403.5 530.4 401.9 530.2 400.3Z" fill="#afafaf"/><path d="M528.6 398.8 528.6 397.3 528.8 395.8 529.1 394.3 529.4 392.7 529.7 391.1 530.1 389.4 530.2 387.6 530.3 385.9 530.1 384.2 529.8 382.5 529.4 380.8 528.9 379.1 528.3 377.5 527.5 375.8 526.6 374.3 525.6 372.8 524.5 371.4 523.2 370.1 521.9 368.9 520.4 367.8 518.8 366.8 517.2 366 515.5 365.3 513.7 364.7 511.9 364.2 510.2 363.8 508.4 363.6 506.6 363.4 504.7 363.4 502.9 363.6 501.1 363.9 499.4 364.2 497.7 364.5 496.1 364.8 494.6 365 493 365 491.4 365 489.9 364.8 488.3 364.5 486.6 364.2 484.9 363.9 483.1 363.6 481.3 363.4 479.4 363.4 477.6 363.6 475.8 363.8 474.1 364.2 472.3 364.7 470.5 365.3 468.8 366 467.2 366.8 465.6 367.8 464.1 368.9 462.8 370.1 461.5 371.4 460.4 372.8 459.4 374.3 458.5 375.8 457.7 377.5 457.1 379.1 456.6 380.8 456.2 382.5 455.9 384.2 455.7 385.9 455.8 387.6 455.9 389.4 456.3 391.1 456.6 392.7 456.9 394.3 457.2 395.8 457.4 397.3 457.4 398.8 457.4 400.3 457.2 401.8 456.9 403.3 456.6 404.9 456.3 406.5 455.9 408.2 455.8 410 455.7 411.7 455.9 413.4 456.2 415.1 456.6 416.8 457.1 418.5 457.7 420.1 458.5 421.8 459.4 423.3 460.4 424.8 461.5 426.2 462.8 427.5 464.1 428.7 465.6 429.8 467.2 430.8 468.8 431.6 470.5 432.3 472.3 432.9 474.1 433.4 475.8 433.8 477.6 434 479.4 434.2 481.3 434.2 483.1 434 484.9 433.7 486.6 433.4 488.3 433.1 489.9 432.8 491.4 432.6 493 432.6 494.6 432.6 496.1 432.8 497.7 433.1 499.4 433.4 501.1 433.7 502.9 434 504.7 434.2 506.6 434.2 508.4 434 510.2 433.8 511.9 433.4 513.7 432.9 515.5 432.3 517.2 431.6 518.8 430.8 520.4 429.8 521.9 428.7 523.2 427.5 524.5 426.2 525.6 424.8 526.6 423.3 527.5 421.8 528.3 420.1 528.9 418.5 529.4 416.8 529.8 415.1 530.1 413.4 530.3 411.7 530.2 410 530.1 408.2 529.7 406.5 529.4 404.9 529.1 403.3 528.8 401.8 528.6 400.3Z" fill="#b7b7b7"/><path d="M527 398.8 527.1 397.4 527.2 396 527.4 394.5 527.6 393 527.8 391.5 528 389.9 528.2 388.3 528.2 386.6 528.2 384.9 528.1 383.3 527.8 381.6 527.5 379.9 527 378.2 526.3 376.6 525.5 375.1 524.6 373.6 523.6 372.2 522.3 370.9 521 369.8 519.5 368.8 518 367.9 516.3 367.1 514.6 366.5 512.9 366.1 511.1 365.7 509.4 365.5 507.6 365.3 505.8 365.3 504.1 365.4 502.4 365.5 500.7 365.7 499.1 365.9 497.5 366.1 496 366.3 494.5 366.5 493 366.5 491.5 366.5 490 366.3 488.5 366.1 486.9 365.9 485.3 365.7 483.6 365.5 481.9 365.4 480.2 365.3 478.4 365.3 476.6 365.5 474.9 365.7 473.1 366.1 471.4 366.5 469.7 367.1 468 367.9 466.5 368.8 465 369.8 463.7 370.9 462.4 372.2 461.4 373.6 460.5 375.1 459.7 376.6 459 378.2 458.5 379.9 458.2 381.6 457.9 383.3 457.8 384.9 457.8 386.6 457.8 388.3 458 389.9 458.2 391.5 458.4 393 458.6 394.5 458.8 396 458.9 397.4 459 398.8 458.9 400.2 458.8 401.6 458.6 403.1 458.4 404.6 458.2 406.1 458 407.7 457.8 409.3 457.8 411 457.8 412.7 457.9 414.3 458.2 416 458.5 417.7 459 419.4 459.7 421 460.5 422.5 461.4 424 462.4 425.4 463.7 426.7 465 427.8 466.5 428.8 468 429.7 469.7 430.5 471.4 431.1 473.1 431.5 474.9 431.9 476.6 432.1 478.4 432.3 480.2 432.3 481.9 432.2 483.6 432.1 485.3 431.9 486.9 431.7 488.5 431.5 490 431.3 491.5 431.1 493 431.1 494.5 431.1 496 431.3 497.5 431.5 499.1 431.7 500.7 431.9 502.4 432.1 504.1 432.2 505.8 432.3 507.6 432.3 509.4 432.1 511.1 431.9 512.9 431.5 514.6 431.1 516.3 430.5 518 429.7 519.5 428.8 521 427.8 522.3 426.7 523.6 425.4 524.6 424 525.5 422.5 526.3 421 527 419.4 527.5 417.7 527.8 416 528.1 414.3 528.2 412.7 528.2 411 528.2 409.3 528 407.7 527.8 406.1 527.6 404.6 527.4 403.1 527.2 401.6 527.1 400.2Z" fill="#bfbfbf"/><path d="M526 398.8 526.1 397.4 526.2 396 526.4 394.6 526.6 393.2 526.8 391.7 527 390.1 527.2 388.6 527.3 386.9 527.3 385.3 527.2 383.6 527.1 382 526.8 380.3 526.4 378.6 525.8 377 525.1 375.4 524.2 373.9 523.2 372.5 522 371.3 520.6 370.1 519.2 369.2 517.6 368.3 516 367.7 514.2 367.1 512.5 366.7 510.7 366.4 509 366.3 507.2 366.2 505.5 366.2 503.8 366.3 502.1 366.5 500.5 366.7 498.9 366.9 497.4 367.1 495.9 367.3 494.4 367.4 493 367.4 491.6 367.4 490.1 367.3 488.6 367.1 487.1 366.9 485.5 366.7 483.9 366.5 482.2 366.3 480.5 366.2 478.8 366.2 477 366.3 475.3 366.4 473.5 366.7 471.8 367.1 470 367.7 468.4 368.3 466.8 369.2 465.4 370.1 464 371.3 462.8 372.5 461.8 373.9 460.9 375.4 460.2 377 459.6 378.6 459.2 380.3 458.9 382 458.8 383.6 458.7 385.3 458.7 386.9 458.8 388.6 459 390.1 459.2 391.7 459.4 393.2 459.6 394.6 459.8 396 459.9 397.4 460 398.8 459.9 400.2 459.8 401.6 459.6 403 459.4 404.4 459.2 405.9 459 407.5 458.8 409 458.7 410.7 458.7 412.3 458.8 414 458.9 415.6 459.2 417.3 459.6 419 460.2 420.6 460.9 422.2 461.8 423.7 462.8 425.1 464 426.3 465.4 427.5 466.8 428.4 468.4 429.3 470 429.9 471.8 430.5 473.5 430.9 475.3 431.2 477 431.3 478.8 431.4 480.5 431.4 482.2 431.3 483.9 431.1 485.5 430.9 487.1 430.7 488.6 430.5 490.1 430.3 491.6 430.2 493 430.2 494.4 430.2 495.9 430.3 497.4 430.5 498.9 430.7 500.5 430.9 502.1 431.1 503.8 431.3 505.5 431.4 507.2 431.4 509 431.3 510.7 431.2 512.5 430.9 514.2 430.5 516 429.9 517.6 429.3 519.2 428.4 520.6 427.5 522 426.3 523.2 425.1 524.2 423.7 525.1 422.2 525.8 420.6 526.4 419 526.8 417.3 527.1 415.6 527.2 414 527.3 412.3 527.3 410.7 527.2 409 527 407.5 526.8 405.9 526.6 404.4 526.4 403 526.2 401.6 526.1 400.2Z" fill="#c4c4c4"/><path d="M525.3 398.8 525.3 397.5 525.4 396.1 525.6 394.7 525.8 393.3 526 391.9 526.2 390.3 526.4 388.8 526.5 387.2 526.6 385.6 526.6 383.9 526.5 382.3 526.2 380.6 525.9 378.9 525.4 377.3 524.7 375.7 523.9 374.2 522.9 372.8 521.7 371.6 520.4 370.4 518.9 369.5 517.3 368.7 515.7 368.1 513.9 367.6 512.2 367.2 510.4 367 508.7 366.9 506.9 366.9 505.2 367 503.5 367.1 501.9 367.3 500.3 367.5 498.8 367.7 497.3 367.8 495.8 368 494.4 368.1 493 368.1 491.6 368.1 490.2 368 488.7 367.8 487.2 367.7 485.7 367.5 484.1 367.3 482.5 367.1 480.8 367 479.1 366.9 477.3 366.9 475.6 367 473.8 367.2 472.1 367.6 470.3 368.1 468.7 368.7 467.1 369.5 465.6 370.4 464.3 371.6 463.1 372.8 462.1 374.2 461.3 375.7 460.6 377.3 460.1 378.9 459.8 380.6 459.5 382.3 459.4 383.9 459.4 385.6 459.5 387.2 459.6 388.8 459.8 390.3 460 391.9 460.2 393.3 460.4 394.7 460.6 396.1 460.7 397.5 460.7 398.8 460.7 400.1 460.6 401.5 460.4 402.9 460.2 404.3 460 405.7 459.8 407.3 459.6 408.8 459.5 410.4 459.4 412 459.4 413.7 459.5 415.3 459.8 417 460.1 418.7 460.6 420.3 461.3 421.9 462.1 423.4 463.1 424.8 464.3 426 465.6 427.2 467.1 428.1 468.7 428.9 470.3 429.5 472.1 430 473.8 430.4 475.6 430.6 477.3 430.7 479.1 430.7 480.8 430.6 482.5 430.5 484.1 430.3 485.7 430.1 487.2 429.9 488.7 429.8 490.2 429.6 491.6 429.5 493 429.5 494.4 429.5 495.8 429.6 497.3 429.8 498.8 429.9 500.3 430.1 501.9 430.3 503.5 430.5 505.2 430.6 506.9 430.7 508.7 430.7 510.4 430.6 512.2 430.4 513.9 430 515.7 429.5 517.3 428.9 518.9 428.1 520.4 427.2 521.7 426 522.9 424.8 523.9 423.4 524.7 421.9 525.4 420.3 525.9 418.7 526.2 417 526.5 415.3 526.6 413.7 526.6 412 526.5 410.4 526.4 408.8 526.2 407.3 526 405.7 525.8 404.3 525.6 402.9 525.4 401.5 525.3 400.1Z" fill="#c7c7c7"/><path d="M523.7 398.8 523.7 397.5 523.8 396.2 523.9 394.9 524.1 393.6 524.3 392.2 524.5 390.8 524.7 389.3 524.9 387.8 525 386.2 525.1 384.6 525.1 382.9 525 381.2 524.8 379.5 524.4 377.9 523.9 376.3 523.1 374.8 522.2 373.4 521.1 372.1 519.7 371.1 518.3 370.2 516.7 369.5 515 369 513.3 368.6 511.5 368.4 509.7 368.3 508 368.3 506.3 368.4 504.6 368.5 503 368.7 501.4 368.9 499.9 369.1 498.5 369.3 497.1 369.4 495.7 369.6 494.3 369.7 493 369.7 491.7 369.7 490.3 369.6 488.9 369.4 487.5 369.3 486.1 369.1 484.6 368.9 483 368.7 481.4 368.5 479.7 368.4 478 368.3 476.3 368.3 474.5 368.4 472.7 368.6 471 369 469.3 369.5 467.7 370.2 466.3 371.1 464.9 372.1 463.8 373.4 462.9 374.8 462.1 376.3 461.6 377.9 461.2 379.5 461 381.2 460.9 382.9 460.9 384.6 461 386.2 461.1 387.8 461.3 389.3 461.5 390.8 461.7 392.2 461.9 393.6 462.1 394.9 462.2 396.2 462.3 397.5 462.3 398.8 462.3 400.1 462.2 401.4 462.1 402.7 461.9 404 461.7 405.4 461.5 406.8 461.3 408.3 461.1 409.8 461 411.4 460.9 413 460.9 414.7 461 416.4 461.2 418.1 461.6 419.7 462.1 421.3 462.9 422.8 463.8 424.2 464.9 425.5 466.3 426.5 467.7 427.4 469.3 428.1 471 428.6 472.7 429 474.5 429.2 476.3 429.3 478 429.3 479.7 429.2 481.4 429.1 483 428.9 484.6 428.7 486.1 428.5 487.5 428.3 488.9 428.2 490.3 428 491.7 427.9 493 427.9 494.3 427.9 495.7 428 497.1 428.2 498.5 428.3 499.9 428.5 501.4 428.7 503 428.9 504.6 429.1 506.3 429.2 508 429.3 509.7 429.3 511.5 429.2 513.3 429 515 428.6 516.7 428.1 518.3 427.4 519.7 426.5 521.1 425.5 522.2 424.2 523.1 422.8 523.9 421.3 524.4 419.7 524.8 418.1 525 416.4 525.1 414.7 525.1 413 525 411.4 524.9 409.8 524.7 408.3 524.5 406.8 524.3 405.4 524.1 404 523.9 402.7 523.8 401.4 523.7 400.1Z" fill="#cfcfcf"/><path d="M521.8 398.8 521.9 397.6 521.9 396.4 522 395.2 522.2 393.9 522.3 392.6 522.5 391.3 522.8 389.9 523.1 388.4 523.3 386.9 523.5 385.3 523.7 383.6 523.7 381.9 523.6 380.3 523.4 378.6 522.9 377 522.3 375.4 521.4 374 520.4 372.8 519.1 371.8 517.6 371 516 370.4 514.3 369.9 512.5 369.7 510.7 369.6 509 369.6 507.2 369.8 505.6 370 503.9 370.2 502.4 370.5 500.9 370.7 499.5 370.9 498.1 371.1 496.8 371.2 495.5 371.3 494.3 371.4 493 371.4 491.7 371.4 490.5 371.3 489.2 371.2 487.9 371.1 486.5 370.9 485.1 370.7 483.6 370.5 482.1 370.2 480.4 370 478.8 369.8 477 369.6 475.3 369.6 473.5 369.7 471.7 369.9 470 370.4 468.4 371 466.9 371.8 465.6 372.8 464.6 374 463.7 375.4 463.1 377 462.6 378.6 462.4 380.3 462.3 381.9 462.3 383.6 462.5 385.3 462.7 386.9 462.9 388.4 463.2 389.9 463.5 391.3 463.7 392.6 463.8 393.9 464 395.2 464.1 396.4 464.1 397.6 464.2 398.8 464.1 400 464.1 401.2 464 402.4 463.8 403.7 463.7 405 463.5 406.3 463.2 407.7 462.9 409.2 462.7 410.7 462.5 412.3 462.3 414 462.3 415.7 462.4 417.3 462.6 419 463.1 420.6 463.7 422.2 464.6 423.6 465.6 424.8 466.9 425.8 468.4 426.6 470 427.2 471.7 427.7 473.5 427.9 475.3 428 477 428 478.8 427.8 480.4 427.6 482.1 427.4 483.6 427.1 485.1 426.9 486.5 426.7 487.9 426.5 489.2 426.4 490.5 426.3 491.7 426.2 493 426.2 494.3 426.2 495.5 426.3 496.8 426.4 498.1 426.5 499.5 426.7 500.9 426.9 502.4 427.1 503.9 427.4 505.6 427.6 507.2 427.8 509 428 510.7 428 512.5 427.9 514.3 427.7 516 427.2 517.6 426.6 519.1 425.8 520.4 424.8 521.4 423.6 522.3 422.2 522.9 420.6 523.4 419 523.6 417.3 523.7 415.7 523.7 414 523.5 412.3 523.3 410.7 523.1 409.2 522.8 407.7 522.5 406.3 522.3 405 522.2 403.7 522 402.4 521.9 401.2 521.9 400Z" fill="#d7d7d7"/><path d="M521.3 398.8 521.3 397.6 521.3 396.4 521.4 395.2 521.6 394 521.7 392.8 521.9 391.4 522.2 390.1 522.5 388.6 522.7 387.1 523 385.5 523.2 383.9 523.2 382.2 523.2 380.5 522.9 378.9 522.5 377.3 521.9 375.8 521.1 374.4 520 373.1 518.7 372.1 517.3 371.3 515.7 370.8 514 370.4 512.2 370.1 510.5 370.1 508.7 370.1 507 370.3 505.3 370.6 503.7 370.8 502.2 371.1 500.8 371.3 499.4 371.5 498 371.7 496.7 371.8 495.5 371.9 494.2 371.9 493 371.9 491.8 371.9 490.5 371.9 489.3 371.8 488 371.7 486.6 371.5 485.2 371.3 483.8 371.1 482.3 370.8 480.7 370.6 479 370.3 477.3 370.1 475.5 370.1 473.8 370.1 472 370.4 470.3 370.8 468.7 371.3 467.3 372.1 466 373.1 464.9 374.4 464.1 375.8 463.5 377.3 463.1 378.9 462.8 380.5 462.8 382.2 462.8 383.9 463 385.5 463.3 387.1 463.5 388.6 463.8 390.1 464.1 391.4 464.3 392.8 464.4 394 464.6 395.2 464.7 396.4 464.7 397.6 464.7 398.8 464.7 400 464.7 401.2 464.6 402.4 464.4 403.6 464.3 404.8 464.1 406.2 463.8 407.5 463.5 409 463.3 410.5 463 412.1 462.8 413.7 462.8 415.4 462.8 417.1 463.1 418.7 463.5 420.3 464.1 421.8 464.9 423.2 466 424.5 467.3 425.5 468.7 426.3 470.3 426.8 472 427.2 473.8 427.5 475.5 427.5 477.3 427.5 479 427.3 480.7 427 482.3 426.8 483.8 426.5 485.2 426.3 486.6 426.1 488 425.9 489.3 425.8 490.5 425.7 491.8 425.7 493 425.7 494.2 425.7 495.5 425.7 496.7 425.8 498 425.9 499.4 426.1 500.8 426.3 502.2 426.5 503.7 426.8 505.3 427 507 427.3 508.7 427.5 510.5 427.5 512.2 427.5 514 427.2 515.7 426.8 517.3 426.3 518.7 425.5 520 424.5 521.1 423.2 521.9 421.8 522.5 420.3 522.9 418.7 523.2 417.1 523.2 415.4 523.2 413.7 523 412.1 522.7 410.5 522.5 409 522.2 407.5 521.9 406.2 521.7 404.8 521.6 403.6 521.4 402.4 521.3 401.2 521.3 400Z" fill="#dadada"/><path d="M520.2 398.8 520.3 397.7 520.3 396.5 520.4 395.4 520.5 394.2 520.6 393 520.8 391.7 521 390.4 521.3 389 521.5 387.6 521.8 386 522 384.5 522 382.9 522 381.3 521.8 379.7 521.4 378.1 520.8 376.6 520 375.3 519 374.1 517.7 373.1 516.3 372.4 514.8 371.8 513.2 371.5 511.5 371.3 509.8 371.2 508.1 371.3 506.4 371.5 504.8 371.7 503.3 371.9 501.8 372.2 500.4 372.4 499.1 372.6 497.8 372.7 496.6 372.8 495.4 372.9 494.2 372.9 493 372.9 491.8 372.9 490.6 372.9 489.4 372.8 488.2 372.7 486.9 372.6 485.6 372.4 484.2 372.2 482.7 371.9 481.2 371.7 479.6 371.5 477.9 371.3 476.2 371.2 474.5 371.3 472.8 371.5 471.2 371.8 469.7 372.4 468.3 373.1 467 374.1 466 375.3 465.2 376.6 464.6 378.1 464.2 379.7 464 381.3 464 382.9 464 384.5 464.2 386 464.5 387.6 464.7 389 465 390.4 465.2 391.7 465.4 393 465.5 394.2 465.6 395.4 465.7 396.5 465.7 397.7 465.8 398.8 465.7 399.9 465.7 401.1 465.6 402.2 465.5 403.4 465.4 404.6 465.2 405.9 465 407.2 464.7 408.6 464.5 410 464.2 411.6 464 413.1 464 414.7 464 416.3 464.2 417.9 464.6 419.5 465.2 421 466 422.3 467 423.5 468.3 424.5 469.7 425.2 471.2 425.8 472.8 426.1 474.5 426.3 476.2 426.4 477.9 426.3 479.6 426.1 481.2 425.9 482.7 425.7 484.2 425.4 485.6 425.2 486.9 425 488.2 424.9 489.4 424.8 490.6 424.7 491.8 424.7 493 424.7 494.2 424.7 495.4 424.7 496.6 424.8 497.8 424.9 499.1 425 500.4 425.2 501.8 425.4 503.3 425.7 504.8 425.9 506.4 426.1 508.1 426.3 509.8 426.4 511.5 426.3 513.2 426.1 514.8 425.8 516.3 425.2 517.7 424.5 519 423.5 520 422.3 520.8 421 521.4 419.5 521.8 417.9 522 416.3 522 414.7 522 413.1 521.8 411.6 521.5 410 521.3 408.6 521 407.2 520.8 405.9 520.6 404.6 520.5 403.4 520.4 402.2 520.3 401.1 520.3 399.9Z" fill="#dfdfdf"/><circle cx="476.5" cy="383.3" r="12" fill="#ebebeb"/><circle cx="476.5" cy="383.3" r="9" fill="#f2f2f2"/><circle cx="476.5" cy="383.3" r="6" fill="#fafafa"/><circle cx="476.5" cy="383.3" r="3" fill="#ffffff"/><circle cx="476.5" cy="414.3" r="12" fill="#ebebeb"/><circle cx="476.5" cy="414.3" r="9" fill="#f2f2f2"/><circle cx="476.5" cy="414.3" r="6" fill="#fafafa"/><circle cx="476.5" cy="414.3" r="3" fill="#ffffff"/><circle cx="509" cy="383.3" r="12" fill="#ebebeb"/><circle cx="509" cy="383.3" r="9" fill="#f2f2f2"/><circle cx="509" cy="383.3" r="6" fill="#fafafa"/><circle cx="509" cy="383.3" r="3" fill="#ffffff"/><circle cx="509" cy="414.3" r="12" fill="#ebebeb"/><circle cx="509" cy="414.3" r="9" fill="#f2f2f2"/><circle cx="509" cy="414.3" r="6" fill="#fafafa"/><circle cx="509" cy="414.3" r="3" fill="#ffffff"/><circle cx="493" cy="398.8" r="5" fill="#dbdbdb"/></g></g><rect x="377.2" y="366.6" width="230.5" height="0.9" fill="#fff" fill-opacity="0.07"/><text x="383.6" y="302.6" font-size="13.9" fill="#f0f0ff">Off cavity</text><text x="576.4" y="300.4" font-size="13.8" fill="#f0f0ff">|E|<tspan font-size="10" dy="-5.2">2</tspan></text><text x="384.2" y="503.1" font-size="13.8" fill="#f0f0ff">WS<tspan font-size="10.5" dy="3.3">2</tspan><tspan dy="-3.3" dx="-0.8">/SiO</tspan><tspan font-size="10.5" dy="3.3">2</tspan><tspan dy="-3.3" dx="-0.8">/Si</tspan></text><text x="547.8" y="503.4" font-size="13.8" fill="#f0f0ff">800 nm</text><rect x="620.2" y="309" width="12.9" height="184" fill="url(#jetbar)"/><text x="613.6" y="303.6" font-size="13.2" fill="#1a1a1a">0.17</text><text x="627" y="507.1" font-size="13" text-anchor="middle" fill="#1a1a1a">0</text><text x="371.5" y="297.1" font-size="12.8" text-anchor="end" fill="#1a1a1a">3</text><text x="371.5" y="332.8" font-size="12.8" text-anchor="end" fill="#1a1a1a">2</text><text x="371.5" y="368.9" font-size="12.8" text-anchor="end" fill="#1a1a1a">1</text><text x="371.5" y="404.9" font-size="12.8" text-anchor="end" fill="#1a1a1a">0</text><text x="371.5" y="440.8" font-size="12.8" text-anchor="end" fill="#1a1a1a">-1</text><text x="371.5" y="477.3" font-size="12.8" text-anchor="end" fill="#1a1a1a">-2</text><text x="371.5" y="512.9" font-size="12.8" text-anchor="end" fill="#1a1a1a">-3</text><text x="379.4" y="529.1" font-size="12.8" text-anchor="middle" fill="#1a1a1a">-3</text><text x="420.7" y="529.1" font-size="12.8" text-anchor="middle" fill="#1a1a1a">-2</text><text x="460.6" y="529.1" font-size="12.8" text-anchor="middle" fill="#1a1a1a">-1</text><text x="500" y="529.1" font-size="12.8" text-anchor="middle" fill="#1a1a1a">0</text><text x="534.6" y="529.1" font-size="12.8" text-anchor="middle" fill="#1a1a1a">1</text><text x="570.5" y="529.1" font-size="12.8" text-anchor="middle" fill="#1a1a1a">2</text><text x="606" y="529.1" font-size="12.8" text-anchor="middle" fill="#1a1a1a">3</text><text transform="translate(351.0 402.8) rotate(-90)" font-size="13.6" text-anchor="middle" fill="#1a1a1a">Y (µm)</text><text x="499.4" y="542.4" font-size="13.6" text-anchor="middle" fill="#1a1a1a">X (µm)</text><text x="376.5" y="277.2" font-size="16" font-weight="bold" fill="#111">d</text></svg></body></html>
